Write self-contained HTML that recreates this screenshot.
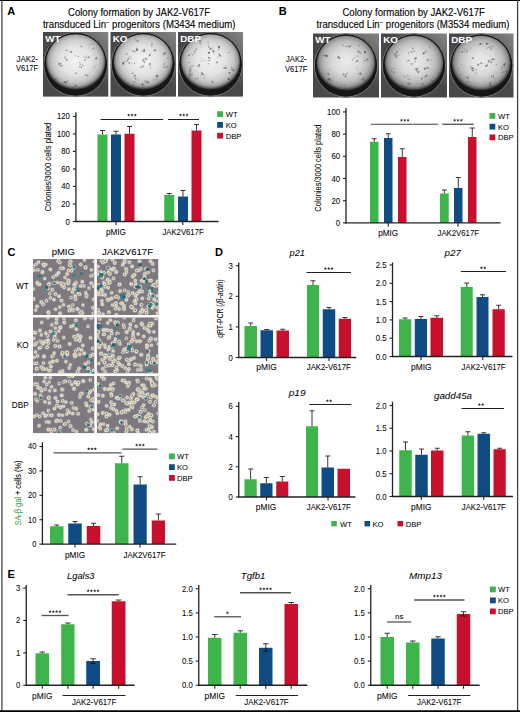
<!DOCTYPE html>
<html><head><meta charset="utf-8"><style>
html,body{margin:0;padding:0;background:#fff;width:520px;height:712px;overflow:hidden}
svg{display:block}
text{font-family:"Liberation Sans",sans-serif}
</style></head><body>
<svg width="520" height="712" viewBox="0 0 520 712">
<defs><filter id="blur04" x="-20%" y="-20%" width="140%" height="140%"><feGaussianBlur stdDeviation="0.5"/></filter><filter id="blur03" x="-5%" y="-5%" width="110%" height="110%"><feGaussianBlur stdDeviation="0.3"/></filter></defs>
<line x1="0.00" y1="0.40" x2="520.00" y2="0.40" stroke="#000" stroke-width="1.2"/>
<line x1="1.90" y1="0.00" x2="1.90" y2="712.00" stroke="#444" stroke-width="1.3"/>
<line x1="517.60" y1="0.00" x2="517.60" y2="712.00" stroke="#444" stroke-width="1.3"/>
<line x1="0.00" y1="711.20" x2="520.00" y2="711.20" stroke="#000" stroke-width="1.8"/>
<text x="7.20" y="15.00" font-size="11" fill="#000" font-weight="bold">A</text>
<text x="278.70" y="15.00" font-size="11" fill="#000" font-weight="bold">B</text>
<text x="7.50" y="256.30" font-size="11" fill="#000" font-weight="bold">C</text>
<text x="215.00" y="255.50" font-size="11" fill="#000" font-weight="bold">D</text>
<text x="7.50" y="578.30" font-size="11" fill="#000" font-weight="bold">E</text>
<text x="139.00" y="16.00" font-size="10" text-anchor="middle" textLength="142" lengthAdjust="spacingAndGlyphs" stroke="#222" stroke-width="0.15">Colony formation by JAK2-V617F</text>
<text x="139.20" y="27.50" font-size="10" text-anchor="middle" textLength="192.5" lengthAdjust="spacingAndGlyphs" stroke="#222" stroke-width="0.15">transduced Lin<tspan font-size="6" dy="-3.5">−</tspan><tspan dy="3.5"> progenitors (M3434 medium)</tspan></text>
<text x="27.25" y="61.70" font-size="9" text-anchor="middle" textLength="21.3" lengthAdjust="spacingAndGlyphs" stroke="#222" stroke-width="0.06">JAK2-</text>
<text x="27.00" y="71.40" font-size="9" text-anchor="middle" textLength="22" lengthAdjust="spacingAndGlyphs" stroke="#222" stroke-width="0.06">V617F</text>
<defs><radialGradient id="pg1" cx="0.5" cy="0.47" r="0.52"><stop offset="0" stop-color="#f3f3f3"/><stop offset="0.5" stop-color="#e3e3e3"/><stop offset="0.75" stop-color="#c8c8c8"/><stop offset="0.88" stop-color="#a2a2a2"/><stop offset="0.95" stop-color="#626262"/><stop offset="1" stop-color="#262626"/></radialGradient><linearGradient id="bg1" x1="0" y1="1" x2="1" y2="0"><stop offset="0" stop-color="#4a4a4a"/><stop offset="0.55" stop-color="#474747"/><stop offset="1" stop-color="#858585"/></linearGradient></defs>
<rect x="43.00" y="32.00" width="65.30" height="64.60" fill="url(#bg1)"/>
<circle cx="75.65" cy="64.30" r="32.25" fill="#1e1e1e"/>
<circle cx="75.65" cy="64.30" r="31.90" fill="none" stroke="#9a9a9a" stroke-width="0.7"/>
<circle cx="75.65" cy="64.30" r="31.00" fill="#161616"/>
<ellipse cx="75.65" cy="62.10" rx="29.60" ry="27.90" fill="url(#pg1)"/>
<g filter="url(#blur04)">
<circle cx="91.1" cy="82.8" r="0.7" fill="#3a3a3a" opacity="0.45"/>
<circle cx="78.3" cy="56.2" r="0.8" fill="#3a3a3a" opacity="0.49"/>
<circle cx="70.9" cy="51.8" r="0.6" fill="#3a3a3a" opacity="0.23"/>
<circle cx="71.2" cy="51.9" r="1.0" fill="#3a3a3a" opacity="0.46"/>
<circle cx="97.0" cy="57.8" r="0.8" fill="#3a3a3a" opacity="0.34"/>
<circle cx="96.0" cy="58.6" r="1.0" fill="#3a3a3a" opacity="0.54"/>
<circle cx="56.0" cy="79.3" r="1.0" fill="#3a3a3a" opacity="0.26"/>
<circle cx="62.8" cy="82.8" r="0.6" fill="#3a3a3a" opacity="0.32"/>
<circle cx="66.2" cy="82.7" r="1.0" fill="#3a3a3a" opacity="0.36"/>
<circle cx="65.7" cy="82.0" r="0.9" fill="#3a3a3a" opacity="0.36"/>
<circle cx="64.5" cy="82.1" r="1.0" fill="#3a3a3a" opacity="0.49"/>
<circle cx="75.3" cy="55.7" r="0.7" fill="#3a3a3a" opacity="0.39"/>
<circle cx="80.5" cy="64.8" r="0.6" fill="#3a3a3a" opacity="0.22"/>
<circle cx="81.5" cy="67.4" r="0.8" fill="#3a3a3a" opacity="0.36"/>
<circle cx="79.7" cy="66.9" r="0.7" fill="#3a3a3a" opacity="0.54"/>
<circle cx="80.1" cy="64.1" r="0.9" fill="#3a3a3a" opacity="0.35"/>
<circle cx="89.7" cy="44.8" r="0.7" fill="#3a3a3a" opacity="0.24"/>
<circle cx="91.9" cy="44.0" r="0.6" fill="#3a3a3a" opacity="0.40"/>
<circle cx="61.9" cy="65.7" r="0.9" fill="#3a3a3a" opacity="0.34"/>
<circle cx="59.2" cy="64.7" r="0.8" fill="#3a3a3a" opacity="0.41"/>
<circle cx="60.8" cy="66.1" r="0.8" fill="#3a3a3a" opacity="0.52"/>
<circle cx="79.9" cy="62.5" r="0.5" fill="#3a3a3a" opacity="0.48"/>
<circle cx="75.5" cy="73.0" r="0.5" fill="#3a3a3a" opacity="0.40"/>
<circle cx="76.1" cy="73.3" r="0.9" fill="#3a3a3a" opacity="0.38"/>
<circle cx="67.7" cy="80.8" r="0.9" fill="#3a3a3a" opacity="0.31"/>
<circle cx="76.2" cy="85.6" r="1.0" fill="#3a3a3a" opacity="0.30"/>
<circle cx="75.0" cy="86.0" r="1.0" fill="#3a3a3a" opacity="0.38"/>
<circle cx="60.6" cy="63.4" r="0.9" fill="#3a3a3a" opacity="0.38"/>
<circle cx="58.9" cy="63.6" r="0.9" fill="#3a3a3a" opacity="0.50"/>
<circle cx="67.3" cy="50.9" r="0.5" fill="#3a3a3a" opacity="0.24"/>
<circle cx="68.8" cy="51.4" r="0.6" fill="#3a3a3a" opacity="0.28"/>
<circle cx="66.3" cy="50.2" r="0.8" fill="#3a3a3a" opacity="0.52"/>
<circle cx="66.7" cy="59.7" r="1.0" fill="#3a3a3a" opacity="0.47"/>
<circle cx="64.8" cy="57.9" r="0.7" fill="#3a3a3a" opacity="0.29"/>
<circle cx="65.2" cy="57.0" r="0.6" fill="#3a3a3a" opacity="0.26"/>
<circle cx="65.3" cy="57.2" r="0.7" fill="#3a3a3a" opacity="0.33"/>
<circle cx="93.3" cy="48.7" r="0.9" fill="#3a3a3a" opacity="0.42"/>
<circle cx="85.7" cy="75.0" r="1.0" fill="#3a3a3a" opacity="0.34"/>
<circle cx="87.7" cy="75.7" r="0.7" fill="#3a3a3a" opacity="0.56"/>
<circle cx="86.7" cy="78.3" r="0.5" fill="#3a3a3a" opacity="0.28"/>
<circle cx="84.0" cy="57.0" r="0.7" fill="#3a3a3a" opacity="0.34"/>
<circle cx="85.0" cy="60.1" r="0.8" fill="#3a3a3a" opacity="0.55"/>
<circle cx="85.9" cy="57.8" r="0.8" fill="#3a3a3a" opacity="0.26"/>
<circle cx="82.7" cy="65.2" r="0.8" fill="#3a3a3a" opacity="0.49"/>
<circle cx="81.3" cy="66.9" r="0.6" fill="#3a3a3a" opacity="0.25"/>
<circle cx="72.4" cy="88.2" r="0.9" fill="#3a3a3a" opacity="0.51"/>
<circle cx="94.7" cy="66.9" r="0.9" fill="#3a3a3a" opacity="0.29"/>
<circle cx="80.4" cy="45.8" r="0.6" fill="#3a3a3a" opacity="0.48"/>
<circle cx="81.7" cy="46.8" r="0.7" fill="#3a3a3a" opacity="0.56"/>
<circle cx="87.0" cy="56.1" r="0.6" fill="#3a3a3a" opacity="0.33"/>
<circle cx="88.9" cy="57.2" r="1.0" fill="#3a3a3a" opacity="0.47"/>
<circle cx="86.7" cy="57.8" r="0.7" fill="#3a3a3a" opacity="0.24"/>
</g>
<text x="45.30" y="41.80" font-size="9.8" fill="#fff" font-weight="bold">WT</text>
<defs><radialGradient id="pg2" cx="0.5" cy="0.47" r="0.52"><stop offset="0" stop-color="#f3f3f3"/><stop offset="0.5" stop-color="#e3e3e3"/><stop offset="0.75" stop-color="#c8c8c8"/><stop offset="0.88" stop-color="#a2a2a2"/><stop offset="0.95" stop-color="#626262"/><stop offset="1" stop-color="#262626"/></radialGradient><linearGradient id="bg2" x1="0" y1="1" x2="1" y2="0"><stop offset="0" stop-color="#4a4a4a"/><stop offset="0.55" stop-color="#474747"/><stop offset="1" stop-color="#858585"/></linearGradient></defs>
<rect x="110.50" y="32.00" width="65.50" height="64.60" fill="url(#bg2)"/>
<circle cx="143.25" cy="64.30" r="32.25" fill="#1e1e1e"/>
<circle cx="143.25" cy="64.30" r="31.90" fill="none" stroke="#9a9a9a" stroke-width="0.7"/>
<circle cx="143.25" cy="64.30" r="31.00" fill="#161616"/>
<ellipse cx="143.25" cy="62.10" rx="29.60" ry="27.90" fill="url(#pg2)"/>
<g filter="url(#blur04)">
<circle cx="167.7" cy="58.1" r="0.6" fill="#3a3a3a" opacity="0.50"/>
<circle cx="149.9" cy="53.4" r="0.5" fill="#3a3a3a" opacity="0.37"/>
<circle cx="149.7" cy="55.2" r="1.0" fill="#3a3a3a" opacity="0.55"/>
<circle cx="128.7" cy="58.5" r="0.7" fill="#3a3a3a" opacity="0.55"/>
<circle cx="127.9" cy="59.1" r="1.0" fill="#3a3a3a" opacity="0.28"/>
<circle cx="127.4" cy="60.3" r="0.6" fill="#3a3a3a" opacity="0.28"/>
<circle cx="129.2" cy="63.3" r="0.7" fill="#3a3a3a" opacity="0.40"/>
<circle cx="128.9" cy="62.8" r="0.8" fill="#3a3a3a" opacity="0.35"/>
<circle cx="153.7" cy="50.2" r="0.8" fill="#3a3a3a" opacity="0.39"/>
<circle cx="155.0" cy="50.7" r="0.9" fill="#3a3a3a" opacity="0.34"/>
<circle cx="155.5" cy="49.8" r="0.7" fill="#3a3a3a" opacity="0.42"/>
<circle cx="155.3" cy="50.5" r="0.7" fill="#3a3a3a" opacity="0.30"/>
<circle cx="134.7" cy="82.2" r="0.9" fill="#3a3a3a" opacity="0.39"/>
<circle cx="133.1" cy="84.8" r="0.9" fill="#3a3a3a" opacity="0.42"/>
<circle cx="123.2" cy="64.0" r="0.8" fill="#3a3a3a" opacity="0.55"/>
<circle cx="123.2" cy="63.1" r="0.9" fill="#3a3a3a" opacity="0.47"/>
<circle cx="124.0" cy="63.0" r="0.9" fill="#3a3a3a" opacity="0.24"/>
<circle cx="123.0" cy="62.7" r="0.6" fill="#3a3a3a" opacity="0.53"/>
<circle cx="157.6" cy="76.3" r="1.0" fill="#3a3a3a" opacity="0.37"/>
<circle cx="157.5" cy="75.3" r="0.7" fill="#3a3a3a" opacity="0.28"/>
<circle cx="157.4" cy="75.2" r="1.0" fill="#3a3a3a" opacity="0.23"/>
<circle cx="144.4" cy="62.3" r="0.9" fill="#3a3a3a" opacity="0.40"/>
<circle cx="144.1" cy="60.7" r="0.9" fill="#3a3a3a" opacity="0.31"/>
<circle cx="142.9" cy="60.6" r="1.0" fill="#3a3a3a" opacity="0.44"/>
<circle cx="144.1" cy="51.0" r="0.9" fill="#3a3a3a" opacity="0.48"/>
<circle cx="144.4" cy="49.8" r="1.0" fill="#3a3a3a" opacity="0.47"/>
<circle cx="142.3" cy="50.9" r="0.8" fill="#3a3a3a" opacity="0.33"/>
<circle cx="143.9" cy="51.5" r="1.0" fill="#3a3a3a" opacity="0.26"/>
<circle cx="131.2" cy="58.2" r="0.6" fill="#3a3a3a" opacity="0.43"/>
<circle cx="129.5" cy="56.3" r="0.8" fill="#3a3a3a" opacity="0.27"/>
<circle cx="129.9" cy="56.3" r="0.5" fill="#3a3a3a" opacity="0.25"/>
<circle cx="132.1" cy="50.8" r="0.7" fill="#3a3a3a" opacity="0.31"/>
<circle cx="126.5" cy="54.5" r="0.8" fill="#3a3a3a" opacity="0.22"/>
<circle cx="127.5" cy="53.7" r="0.5" fill="#3a3a3a" opacity="0.47"/>
<circle cx="126.5" cy="53.9" r="0.6" fill="#3a3a3a" opacity="0.30"/>
<circle cx="145.8" cy="82.5" r="0.7" fill="#3a3a3a" opacity="0.46"/>
<circle cx="147.0" cy="81.5" r="0.9" fill="#3a3a3a" opacity="0.37"/>
<circle cx="148.3" cy="82.3" r="1.0" fill="#3a3a3a" opacity="0.55"/>
<circle cx="145.0" cy="81.0" r="0.8" fill="#3a3a3a" opacity="0.39"/>
<circle cx="167.2" cy="66.8" r="1.0" fill="#3a3a3a" opacity="0.35"/>
<circle cx="164.5" cy="67.2" r="0.9" fill="#3a3a3a" opacity="0.51"/>
<circle cx="143.6" cy="59.1" r="0.8" fill="#3a3a3a" opacity="0.22"/>
<circle cx="146.4" cy="58.7" r="0.9" fill="#3a3a3a" opacity="0.30"/>
<circle cx="145.1" cy="58.6" r="0.7" fill="#3a3a3a" opacity="0.47"/>
<circle cx="146.2" cy="59.3" r="1.0" fill="#3a3a3a" opacity="0.31"/>
<circle cx="155.8" cy="76.2" r="0.9" fill="#3a3a3a" opacity="0.23"/>
<circle cx="156.5" cy="76.7" r="0.9" fill="#3a3a3a" opacity="0.39"/>
<circle cx="156.8" cy="79.0" r="0.9" fill="#3a3a3a" opacity="0.31"/>
<circle cx="127.8" cy="60.6" r="0.6" fill="#3a3a3a" opacity="0.30"/>
<circle cx="125.3" cy="61.5" r="0.7" fill="#3a3a3a" opacity="0.46"/>
<circle cx="127.2" cy="60.8" r="0.9" fill="#3a3a3a" opacity="0.25"/>
<circle cx="123.9" cy="64.2" r="0.5" fill="#3a3a3a" opacity="0.37"/>
<circle cx="150.6" cy="67.9" r="0.6" fill="#3a3a3a" opacity="0.45"/>
<circle cx="137.2" cy="49.9" r="1.0" fill="#3a3a3a" opacity="0.48"/>
<circle cx="137.2" cy="49.8" r="0.9" fill="#3a3a3a" opacity="0.31"/>
<circle cx="137.1" cy="48.4" r="0.9" fill="#3a3a3a" opacity="0.36"/>
<circle cx="164.0" cy="63.9" r="0.9" fill="#3a3a3a" opacity="0.35"/>
<circle cx="165.5" cy="62.6" r="0.5" fill="#3a3a3a" opacity="0.32"/>
<circle cx="142.4" cy="84.8" r="1.0" fill="#3a3a3a" opacity="0.34"/>
<circle cx="142.7" cy="84.4" r="0.9" fill="#3a3a3a" opacity="0.52"/>
<circle cx="143.0" cy="87.3" r="0.7" fill="#3a3a3a" opacity="0.45"/>
<circle cx="144.2" cy="85.7" r="0.5" fill="#3a3a3a" opacity="0.38"/>
<circle cx="137.7" cy="41.1" r="1.0" fill="#3a3a3a" opacity="0.48"/>
<circle cx="135.9" cy="39.9" r="1.0" fill="#3a3a3a" opacity="0.26"/>
<circle cx="151.8" cy="46.3" r="0.8" fill="#3a3a3a" opacity="0.39"/>
<circle cx="152.0" cy="44.0" r="0.9" fill="#3a3a3a" opacity="0.39"/>
<circle cx="134.4" cy="63.1" r="0.7" fill="#3a3a3a" opacity="0.54"/>
<circle cx="131.3" cy="63.1" r="0.5" fill="#3a3a3a" opacity="0.43"/>
<circle cx="164.7" cy="54.5" r="0.5" fill="#3a3a3a" opacity="0.25"/>
<circle cx="164.9" cy="52.7" r="0.9" fill="#3a3a3a" opacity="0.49"/>
<circle cx="163.6" cy="54.1" r="0.9" fill="#3a3a3a" opacity="0.52"/>
<circle cx="165.2" cy="53.7" r="0.7" fill="#3a3a3a" opacity="0.38"/>
<circle cx="143.5" cy="66.6" r="0.8" fill="#3a3a3a" opacity="0.35"/>
<circle cx="140.6" cy="67.5" r="0.6" fill="#3a3a3a" opacity="0.45"/>
<circle cx="141.3" cy="66.9" r="1.0" fill="#3a3a3a" opacity="0.25"/>
<circle cx="142.9" cy="66.0" r="0.8" fill="#3a3a3a" opacity="0.50"/>
<circle cx="133.5" cy="51.3" r="0.8" fill="#3a3a3a" opacity="0.52"/>
<circle cx="153.6" cy="79.5" r="0.7" fill="#3a3a3a" opacity="0.30"/>
<circle cx="138.2" cy="87.1" r="1.0" fill="#3a3a3a" opacity="0.29"/>
<circle cx="134.8" cy="76.7" r="0.6" fill="#3a3a3a" opacity="0.53"/>
<circle cx="135.2" cy="75.3" r="0.8" fill="#3a3a3a" opacity="0.55"/>
<circle cx="134.0" cy="76.2" r="0.6" fill="#3a3a3a" opacity="0.29"/>
<circle cx="136.9" cy="50.8" r="0.6" fill="#3a3a3a" opacity="0.41"/>
<circle cx="135.2" cy="51.7" r="0.9" fill="#3a3a3a" opacity="0.32"/>
<circle cx="136.3" cy="49.1" r="0.8" fill="#3a3a3a" opacity="0.48"/>
<circle cx="135.0" cy="78.4" r="0.5" fill="#3a3a3a" opacity="0.33"/>
<circle cx="135.6" cy="78.8" r="1.0" fill="#3a3a3a" opacity="0.37"/>
<circle cx="138.3" cy="79.9" r="0.6" fill="#3a3a3a" opacity="0.35"/>
<circle cx="149.8" cy="64.4" r="1.0" fill="#3a3a3a" opacity="0.49"/>
<circle cx="150.1" cy="63.2" r="0.6" fill="#3a3a3a" opacity="0.51"/>
<circle cx="132.4" cy="73.4" r="0.7" fill="#3a3a3a" opacity="0.56"/>
<circle cx="133.1" cy="72.0" r="0.5" fill="#3a3a3a" opacity="0.35"/>
</g>
<text x="112.80" y="41.80" font-size="9.8" fill="#fff" font-weight="bold">KO</text>
<defs><radialGradient id="pg3" cx="0.5" cy="0.47" r="0.52"><stop offset="0" stop-color="#f3f3f3"/><stop offset="0.5" stop-color="#e3e3e3"/><stop offset="0.75" stop-color="#c8c8c8"/><stop offset="0.88" stop-color="#a2a2a2"/><stop offset="0.95" stop-color="#626262"/><stop offset="1" stop-color="#262626"/></radialGradient><linearGradient id="bg3" x1="0" y1="1" x2="1" y2="0"><stop offset="0" stop-color="#4a4a4a"/><stop offset="0.55" stop-color="#474747"/><stop offset="1" stop-color="#858585"/></linearGradient></defs>
<rect x="178.00" y="32.00" width="65.00" height="64.60" fill="url(#bg3)"/>
<circle cx="210.50" cy="64.30" r="32.25" fill="#1e1e1e"/>
<circle cx="210.50" cy="64.30" r="31.90" fill="none" stroke="#9a9a9a" stroke-width="0.7"/>
<circle cx="210.50" cy="64.30" r="31.00" fill="#161616"/>
<ellipse cx="210.50" cy="62.10" rx="29.60" ry="27.90" fill="url(#pg3)"/>
<g filter="url(#blur04)">
<circle cx="212.9" cy="82.3" r="0.8" fill="#3a3a3a" opacity="0.43"/>
<circle cx="212.9" cy="82.3" r="0.8" fill="#3a3a3a" opacity="0.29"/>
<circle cx="211.7" cy="81.6" r="0.8" fill="#3a3a3a" opacity="0.36"/>
<circle cx="219.1" cy="54.1" r="0.9" fill="#3a3a3a" opacity="0.45"/>
<circle cx="219.9" cy="55.6" r="0.8" fill="#3a3a3a" opacity="0.33"/>
<circle cx="231.7" cy="67.6" r="0.7" fill="#3a3a3a" opacity="0.50"/>
<circle cx="232.1" cy="69.6" r="0.8" fill="#3a3a3a" opacity="0.56"/>
<circle cx="234.2" cy="69.6" r="0.5" fill="#3a3a3a" opacity="0.39"/>
<circle cx="233.5" cy="70.3" r="0.9" fill="#3a3a3a" opacity="0.52"/>
<circle cx="189.2" cy="75.0" r="0.6" fill="#3a3a3a" opacity="0.34"/>
<circle cx="190.4" cy="75.1" r="0.6" fill="#3a3a3a" opacity="0.43"/>
<circle cx="189.7" cy="73.8" r="0.6" fill="#3a3a3a" opacity="0.41"/>
<circle cx="201.2" cy="58.5" r="0.6" fill="#3a3a3a" opacity="0.26"/>
<circle cx="201.8" cy="60.9" r="0.7" fill="#3a3a3a" opacity="0.34"/>
<circle cx="231.9" cy="75.7" r="1.0" fill="#3a3a3a" opacity="0.24"/>
<circle cx="204.3" cy="60.1" r="0.6" fill="#3a3a3a" opacity="0.30"/>
<circle cx="206.6" cy="60.8" r="0.5" fill="#3a3a3a" opacity="0.41"/>
<circle cx="209.0" cy="59.9" r="0.6" fill="#3a3a3a" opacity="0.31"/>
<circle cx="200.3" cy="43.4" r="1.0" fill="#3a3a3a" opacity="0.35"/>
<circle cx="200.1" cy="41.4" r="0.8" fill="#3a3a3a" opacity="0.43"/>
<circle cx="200.0" cy="40.6" r="1.0" fill="#3a3a3a" opacity="0.40"/>
<circle cx="192.0" cy="72.9" r="0.6" fill="#3a3a3a" opacity="0.33"/>
<circle cx="190.1" cy="74.8" r="1.0" fill="#3a3a3a" opacity="0.33"/>
<circle cx="198.0" cy="78.4" r="0.7" fill="#3a3a3a" opacity="0.46"/>
<circle cx="195.7" cy="79.1" r="0.9" fill="#3a3a3a" opacity="0.23"/>
<circle cx="229.8" cy="73.1" r="0.8" fill="#3a3a3a" opacity="0.33"/>
<circle cx="229.2" cy="72.7" r="0.7" fill="#3a3a3a" opacity="0.43"/>
<circle cx="229.5" cy="72.9" r="0.9" fill="#3a3a3a" opacity="0.23"/>
<circle cx="189.4" cy="55.2" r="0.6" fill="#3a3a3a" opacity="0.33"/>
<circle cx="190.2" cy="53.9" r="0.5" fill="#3a3a3a" opacity="0.43"/>
<circle cx="192.3" cy="54.7" r="0.6" fill="#3a3a3a" opacity="0.50"/>
<circle cx="218.2" cy="61.8" r="0.6" fill="#3a3a3a" opacity="0.26"/>
<circle cx="216.8" cy="62.4" r="0.9" fill="#3a3a3a" opacity="0.51"/>
<circle cx="216.2" cy="75.6" r="0.5" fill="#3a3a3a" opacity="0.32"/>
<circle cx="213.5" cy="51.0" r="0.8" fill="#3a3a3a" opacity="0.23"/>
<circle cx="213.5" cy="52.0" r="0.7" fill="#3a3a3a" opacity="0.51"/>
<circle cx="213.2" cy="50.8" r="0.8" fill="#3a3a3a" opacity="0.57"/>
<circle cx="210.3" cy="58.6" r="0.8" fill="#3a3a3a" opacity="0.32"/>
<circle cx="209.2" cy="60.5" r="0.5" fill="#3a3a3a" opacity="0.43"/>
<circle cx="209.2" cy="61.6" r="0.5" fill="#3a3a3a" opacity="0.54"/>
<circle cx="208.8" cy="57.7" r="1.0" fill="#3a3a3a" opacity="0.53"/>
<circle cx="208.3" cy="63.7" r="0.8" fill="#3a3a3a" opacity="0.40"/>
<circle cx="189.1" cy="77.6" r="1.0" fill="#3a3a3a" opacity="0.39"/>
<circle cx="215.0" cy="51.1" r="0.5" fill="#3a3a3a" opacity="0.30"/>
<circle cx="213.2" cy="51.7" r="0.5" fill="#3a3a3a" opacity="0.54"/>
<circle cx="192.2" cy="66.0" r="0.6" fill="#3a3a3a" opacity="0.40"/>
<circle cx="190.5" cy="66.3" r="0.9" fill="#3a3a3a" opacity="0.22"/>
<circle cx="192.0" cy="66.0" r="0.5" fill="#3a3a3a" opacity="0.24"/>
<circle cx="193.4" cy="65.5" r="0.5" fill="#3a3a3a" opacity="0.40"/>
<circle cx="204.1" cy="77.9" r="0.6" fill="#3a3a3a" opacity="0.31"/>
<circle cx="205.9" cy="77.2" r="0.5" fill="#3a3a3a" opacity="0.22"/>
<circle cx="204.5" cy="75.5" r="0.8" fill="#3a3a3a" opacity="0.24"/>
<circle cx="190.6" cy="69.0" r="1.0" fill="#3a3a3a" opacity="0.24"/>
<circle cx="189.6" cy="68.0" r="0.6" fill="#3a3a3a" opacity="0.55"/>
<circle cx="190.6" cy="69.4" r="0.6" fill="#3a3a3a" opacity="0.31"/>
<circle cx="189.2" cy="68.3" r="0.6" fill="#3a3a3a" opacity="0.27"/>
<circle cx="225.8" cy="67.9" r="1.0" fill="#3a3a3a" opacity="0.48"/>
<circle cx="225.4" cy="65.8" r="0.7" fill="#3a3a3a" opacity="0.26"/>
<circle cx="224.2" cy="67.9" r="0.9" fill="#3a3a3a" opacity="0.47"/>
<circle cx="198.8" cy="66.4" r="0.5" fill="#3a3a3a" opacity="0.53"/>
<circle cx="198.5" cy="66.5" r="1.0" fill="#3a3a3a" opacity="0.26"/>
<circle cx="199.2" cy="65.1" r="1.0" fill="#3a3a3a" opacity="0.55"/>
<circle cx="196.8" cy="65.5" r="0.5" fill="#3a3a3a" opacity="0.49"/>
<circle cx="188.8" cy="62.6" r="0.8" fill="#3a3a3a" opacity="0.41"/>
<circle cx="217.8" cy="57.1" r="0.6" fill="#3a3a3a" opacity="0.44"/>
<circle cx="208.9" cy="47.1" r="0.8" fill="#3a3a3a" opacity="0.56"/>
<circle cx="210.3" cy="49.0" r="1.0" fill="#3a3a3a" opacity="0.52"/>
<circle cx="211.9" cy="48.3" r="0.8" fill="#3a3a3a" opacity="0.42"/>
<circle cx="227.7" cy="53.0" r="0.5" fill="#3a3a3a" opacity="0.25"/>
<circle cx="229.0" cy="52.5" r="0.8" fill="#3a3a3a" opacity="0.38"/>
<circle cx="208.4" cy="53.1" r="0.8" fill="#3a3a3a" opacity="0.55"/>
<circle cx="209.1" cy="52.6" r="0.9" fill="#3a3a3a" opacity="0.45"/>
<circle cx="209.2" cy="52.6" r="0.8" fill="#3a3a3a" opacity="0.56"/>
<circle cx="220.3" cy="55.5" r="0.6" fill="#3a3a3a" opacity="0.35"/>
<circle cx="220.5" cy="56.9" r="0.5" fill="#3a3a3a" opacity="0.57"/>
<circle cx="219.9" cy="55.5" r="0.7" fill="#3a3a3a" opacity="0.51"/>
<circle cx="219.1" cy="47.3" r="1.0" fill="#3a3a3a" opacity="0.49"/>
<circle cx="218.9" cy="47.1" r="1.0" fill="#3a3a3a" opacity="0.53"/>
<circle cx="217.7" cy="45.9" r="0.5" fill="#3a3a3a" opacity="0.30"/>
<circle cx="218.6" cy="49.4" r="0.9" fill="#3a3a3a" opacity="0.27"/>
<circle cx="196.2" cy="49.5" r="1.0" fill="#3a3a3a" opacity="0.33"/>
<circle cx="192.0" cy="74.8" r="1.0" fill="#3a3a3a" opacity="0.23"/>
<circle cx="190.7" cy="70.7" r="0.7" fill="#3a3a3a" opacity="0.39"/>
<circle cx="190.2" cy="72.0" r="1.0" fill="#3a3a3a" opacity="0.36"/>
<circle cx="189.3" cy="70.5" r="0.6" fill="#3a3a3a" opacity="0.45"/>
<circle cx="230.5" cy="81.1" r="0.7" fill="#3a3a3a" opacity="0.49"/>
<circle cx="228.6" cy="78.9" r="0.9" fill="#3a3a3a" opacity="0.45"/>
<circle cx="228.8" cy="79.0" r="0.9" fill="#3a3a3a" opacity="0.56"/>
<circle cx="201.3" cy="46.9" r="0.5" fill="#3a3a3a" opacity="0.32"/>
<circle cx="208.4" cy="44.7" r="0.8" fill="#3a3a3a" opacity="0.26"/>
<circle cx="208.0" cy="42.5" r="0.6" fill="#3a3a3a" opacity="0.47"/>
<circle cx="194.3" cy="53.7" r="0.6" fill="#3a3a3a" opacity="0.24"/>
<circle cx="194.8" cy="51.9" r="0.8" fill="#3a3a3a" opacity="0.48"/>
<circle cx="202.8" cy="74.5" r="0.7" fill="#3a3a3a" opacity="0.31"/>
<circle cx="201.8" cy="73.2" r="1.0" fill="#3a3a3a" opacity="0.55"/>
<circle cx="200.5" cy="75.0" r="0.5" fill="#3a3a3a" opacity="0.39"/>
<circle cx="202.8" cy="74.4" r="0.8" fill="#3a3a3a" opacity="0.46"/>
<circle cx="188.6" cy="55.4" r="0.7" fill="#3a3a3a" opacity="0.48"/>
</g>
<text x="180.30" y="41.80" font-size="9.8" fill="#fff" font-weight="bold">DBP</text>
<rect x="97.50" y="134.50" width="10.00" height="87.00" fill="#3db54b"/>
<line x1="102.50" y1="134.50" x2="102.50" y2="130.50" stroke="#222" stroke-width="0.9"/>
<line x1="100.00" y1="130.50" x2="105.00" y2="130.50" stroke="#222" stroke-width="0.9"/>
<rect x="111.00" y="134.50" width="10.00" height="87.00" fill="#0e4c83"/>
<line x1="116.00" y1="134.50" x2="116.00" y2="131.25" stroke="#222" stroke-width="0.9"/>
<line x1="113.50" y1="131.25" x2="118.50" y2="131.25" stroke="#222" stroke-width="0.9"/>
<rect x="124.50" y="133.75" width="10.00" height="87.75" fill="#c8102e"/>
<line x1="129.50" y1="133.75" x2="129.50" y2="126.50" stroke="#222" stroke-width="0.9"/>
<line x1="127.00" y1="126.50" x2="132.00" y2="126.50" stroke="#222" stroke-width="0.9"/>
<rect x="164.25" y="195.00" width="10.00" height="26.50" fill="#3db54b"/>
<line x1="169.25" y1="195.00" x2="169.25" y2="193.50" stroke="#222" stroke-width="0.9"/>
<line x1="166.75" y1="193.50" x2="171.75" y2="193.50" stroke="#222" stroke-width="0.9"/>
<rect x="178.00" y="196.50" width="10.00" height="25.00" fill="#0e4c83"/>
<line x1="183.00" y1="196.50" x2="183.00" y2="190.50" stroke="#222" stroke-width="0.9"/>
<line x1="180.50" y1="190.50" x2="185.50" y2="190.50" stroke="#222" stroke-width="0.9"/>
<rect x="191.50" y="130.50" width="10.00" height="91.00" fill="#c8102e"/>
<line x1="196.50" y1="130.50" x2="196.50" y2="124.50" stroke="#222" stroke-width="0.9"/>
<line x1="194.00" y1="124.50" x2="199.00" y2="124.50" stroke="#222" stroke-width="0.9"/>
<line x1="75.90" y1="112.20" x2="75.90" y2="222.10" stroke="#222" stroke-width="1.3"/>
<line x1="75.30" y1="221.50" x2="218.50" y2="221.50" stroke="#222" stroke-width="1.3"/>
<line x1="72.90" y1="221.50" x2="75.90" y2="221.50" stroke="#222" stroke-width="1.1"/>
<text x="69.90" y="224.51" font-size="8.6" text-anchor="end" textLength="4.3" lengthAdjust="spacingAndGlyphs" stroke="#222" stroke-width="0.06">0</text>
<line x1="72.90" y1="203.98" x2="75.90" y2="203.98" stroke="#222" stroke-width="1.1"/>
<text x="69.90" y="206.99" font-size="8.6" text-anchor="end" textLength="8.61" lengthAdjust="spacingAndGlyphs" stroke="#222" stroke-width="0.06">20</text>
<line x1="72.90" y1="186.47" x2="75.90" y2="186.47" stroke="#222" stroke-width="1.1"/>
<text x="69.90" y="189.48" font-size="8.6" text-anchor="end" textLength="8.61" lengthAdjust="spacingAndGlyphs" stroke="#222" stroke-width="0.06">40</text>
<line x1="72.90" y1="168.95" x2="75.90" y2="168.95" stroke="#222" stroke-width="1.1"/>
<text x="69.90" y="171.96" font-size="8.6" text-anchor="end" textLength="8.61" lengthAdjust="spacingAndGlyphs" stroke="#222" stroke-width="0.06">60</text>
<line x1="72.90" y1="151.44" x2="75.90" y2="151.44" stroke="#222" stroke-width="1.1"/>
<text x="69.90" y="154.45" font-size="8.6" text-anchor="end" textLength="8.61" lengthAdjust="spacingAndGlyphs" stroke="#222" stroke-width="0.06">80</text>
<line x1="72.90" y1="133.92" x2="75.90" y2="133.92" stroke="#222" stroke-width="1.1"/>
<text x="69.90" y="136.93" font-size="8.6" text-anchor="end" textLength="12.91" lengthAdjust="spacingAndGlyphs" stroke="#222" stroke-width="0.06">100</text>
<line x1="72.90" y1="116.40" x2="75.90" y2="116.40" stroke="#222" stroke-width="1.1"/>
<text x="69.90" y="119.41" font-size="8.6" text-anchor="end" textLength="12.91" lengthAdjust="spacingAndGlyphs" stroke="#222" stroke-width="0.06">120</text>
<line x1="116.00" y1="221.50" x2="116.00" y2="225.00" stroke="#222" stroke-width="1.1"/>
<line x1="182.75" y1="221.50" x2="182.75" y2="225.00" stroke="#222" stroke-width="1.1"/>
<line x1="100.50" y1="119.50" x2="163.25" y2="119.50" stroke="#222" stroke-width="1.0"/>
<polygon points="128.70,113.25 129.14,114.39 130.36,114.46 129.41,115.23 129.73,116.42 128.70,115.75 127.67,116.42 127.99,115.23 127.04,114.46 128.26,114.39" fill="#2a2a2a"/>
<polygon points="132.00,113.25 132.44,114.39 133.66,114.46 132.71,115.23 133.03,116.42 132.00,115.75 130.97,116.42 131.29,115.23 130.34,114.46 131.56,114.39" fill="#2a2a2a"/>
<polygon points="135.30,113.25 135.74,114.39 136.96,114.46 136.01,115.23 136.33,116.42 135.30,115.75 134.27,116.42 134.59,115.23 133.64,114.46 134.86,114.39" fill="#2a2a2a"/>
<line x1="168.00" y1="119.50" x2="199.00" y2="119.50" stroke="#222" stroke-width="1.0"/>
<polygon points="180.45,113.25 180.89,114.39 182.11,114.46 181.16,115.23 181.48,116.42 180.45,115.75 179.42,116.42 179.74,115.23 178.79,114.46 180.01,114.39" fill="#2a2a2a"/>
<polygon points="183.75,113.25 184.19,114.39 185.41,114.46 184.46,115.23 184.78,116.42 183.75,115.75 182.72,116.42 183.04,115.23 182.09,114.46 183.31,114.39" fill="#2a2a2a"/>
<polygon points="187.05,113.25 187.49,114.39 188.71,114.46 187.76,115.23 188.08,116.42 187.05,115.75 186.02,116.42 186.34,115.23 185.39,114.46 186.61,114.39" fill="#2a2a2a"/>
<rect x="217.20" y="111.20" width="5.80" height="5.80" fill="#3db54b"/>
<text x="225.80" y="117.00" font-size="7.6" stroke="#222" stroke-width="0.06">WT</text>
<rect x="217.20" y="122.00" width="5.80" height="5.80" fill="#0e4c83"/>
<text x="225.80" y="127.80" font-size="7.6" stroke="#222" stroke-width="0.06">KO</text>
<rect x="217.20" y="132.80" width="5.80" height="5.80" fill="#c8102e"/>
<text x="225.80" y="138.60" font-size="7.6" stroke="#222" stroke-width="0.06">DBP</text>
<text x="115.85" y="234.80" font-size="8.6" text-anchor="middle" textLength="19.9" lengthAdjust="spacingAndGlyphs" stroke="#222" stroke-width="0.06">pMIG</text>
<text x="183.05" y="234.80" font-size="8.6" text-anchor="middle" textLength="41.3" lengthAdjust="spacingAndGlyphs" stroke="#222" stroke-width="0.06">JAK2V617F</text>
<text x="0.00" y="0.00" font-size="8.4" text-anchor="middle" textLength="88.7" lengthAdjust="spacingAndGlyphs" transform="translate(50.9,167) rotate(-90)" stroke="#222" stroke-width="0.06">Colonies/3000 cells plated</text>
<text x="413.70" y="16.00" font-size="10" text-anchor="middle" textLength="142.5" lengthAdjust="spacingAndGlyphs" stroke="#222" stroke-width="0.15">Colony formation by JAK2-V617F</text>
<text x="413.00" y="27.50" font-size="10" text-anchor="middle" textLength="193" lengthAdjust="spacingAndGlyphs" stroke="#222" stroke-width="0.15">transduced Lin<tspan font-size="6" dy="-3.5">−</tspan><tspan dy="3.5"> progenitors (M3534 medium)</tspan></text>
<text x="296.35" y="62.10" font-size="9" text-anchor="middle" textLength="20.5" lengthAdjust="spacingAndGlyphs" stroke="#222" stroke-width="0.06">JAK2-</text>
<text x="296.15" y="71.90" font-size="9" text-anchor="middle" textLength="22.3" lengthAdjust="spacingAndGlyphs" stroke="#222" stroke-width="0.06">V617F</text>
<defs><radialGradient id="pg4" cx="0.5" cy="0.47" r="0.52"><stop offset="0" stop-color="#ececec"/><stop offset="0.45" stop-color="#d9d9d9"/><stop offset="0.72" stop-color="#bababa"/><stop offset="0.87" stop-color="#929292"/><stop offset="0.95" stop-color="#555"/><stop offset="1" stop-color="#222"/></radialGradient><linearGradient id="bg4" x1="0" y1="1" x2="1" y2="0"><stop offset="0" stop-color="#4a4a4a"/><stop offset="0.55" stop-color="#474747"/><stop offset="1" stop-color="#858585"/></linearGradient></defs>
<rect x="313.00" y="33.50" width="66.00" height="64.00" fill="url(#bg4)"/>
<circle cx="346.00" cy="65.50" r="31.95" fill="#1e1e1e"/>
<circle cx="346.00" cy="65.50" r="31.60" fill="none" stroke="#9a9a9a" stroke-width="0.7"/>
<circle cx="346.00" cy="65.50" r="30.70" fill="#161616"/>
<ellipse cx="346.00" cy="63.30" rx="29.30" ry="27.60" fill="url(#pg4)"/>
<g filter="url(#blur04)">
<circle cx="346.3" cy="73.6" r="0.5" fill="#3a3a3a" opacity="0.41"/>
<circle cx="346.0" cy="76.4" r="0.5" fill="#3a3a3a" opacity="0.40"/>
<circle cx="345.6" cy="74.8" r="0.9" fill="#3a3a3a" opacity="0.31"/>
<circle cx="346.9" cy="73.4" r="0.8" fill="#3a3a3a" opacity="0.31"/>
<circle cx="343.5" cy="74.4" r="1.0" fill="#3a3a3a" opacity="0.53"/>
<circle cx="345.8" cy="76.3" r="0.9" fill="#3a3a3a" opacity="0.40"/>
<circle cx="345.1" cy="76.6" r="0.5" fill="#3a3a3a" opacity="0.55"/>
<circle cx="359.1" cy="51.7" r="0.9" fill="#3a3a3a" opacity="0.33"/>
<circle cx="358.3" cy="51.0" r="0.7" fill="#3a3a3a" opacity="0.32"/>
<circle cx="357.6" cy="51.9" r="0.6" fill="#3a3a3a" opacity="0.50"/>
<circle cx="359.4" cy="73.6" r="0.9" fill="#3a3a3a" opacity="0.27"/>
<circle cx="360.7" cy="73.5" r="1.0" fill="#3a3a3a" opacity="0.44"/>
<circle cx="360.2" cy="74.0" r="0.7" fill="#3a3a3a" opacity="0.43"/>
<circle cx="338.9" cy="57.4" r="0.6" fill="#3a3a3a" opacity="0.49"/>
<circle cx="338.1" cy="56.7" r="0.6" fill="#3a3a3a" opacity="0.28"/>
<circle cx="338.3" cy="57.2" r="0.9" fill="#3a3a3a" opacity="0.53"/>
<circle cx="367.4" cy="59.6" r="1.0" fill="#3a3a3a" opacity="0.49"/>
<circle cx="364.5" cy="60.8" r="0.8" fill="#3a3a3a" opacity="0.51"/>
<circle cx="366.4" cy="60.1" r="0.7" fill="#3a3a3a" opacity="0.27"/>
<circle cx="327.1" cy="81.7" r="0.7" fill="#3a3a3a" opacity="0.35"/>
<circle cx="329.1" cy="78.9" r="0.8" fill="#3a3a3a" opacity="0.37"/>
<circle cx="328.6" cy="84.2" r="0.5" fill="#3a3a3a" opacity="0.24"/>
<circle cx="343.5" cy="45.5" r="0.8" fill="#3a3a3a" opacity="0.33"/>
<circle cx="346.3" cy="46.7" r="0.6" fill="#3a3a3a" opacity="0.57"/>
<circle cx="339.6" cy="57.4" r="0.5" fill="#3a3a3a" opacity="0.37"/>
<circle cx="339.5" cy="58.5" r="0.9" fill="#3a3a3a" opacity="0.39"/>
<circle cx="356.7" cy="67.7" r="0.7" fill="#3a3a3a" opacity="0.31"/>
<circle cx="357.4" cy="69.9" r="0.6" fill="#3a3a3a" opacity="0.26"/>
<circle cx="323.4" cy="55.1" r="0.6" fill="#3a3a3a" opacity="0.53"/>
<circle cx="365.1" cy="52.4" r="1.0" fill="#3a3a3a" opacity="0.33"/>
<circle cx="364.8" cy="51.7" r="0.9" fill="#3a3a3a" opacity="0.50"/>
<circle cx="364.9" cy="52.2" r="0.7" fill="#3a3a3a" opacity="0.52"/>
<circle cx="344.3" cy="85.5" r="0.5" fill="#3a3a3a" opacity="0.56"/>
<circle cx="342.1" cy="84.6" r="0.6" fill="#3a3a3a" opacity="0.44"/>
<circle cx="326.4" cy="56.5" r="1.0" fill="#3a3a3a" opacity="0.22"/>
<circle cx="326.8" cy="56.1" r="0.9" fill="#3a3a3a" opacity="0.49"/>
<circle cx="327.3" cy="55.5" r="1.0" fill="#3a3a3a" opacity="0.29"/>
<circle cx="326.0" cy="55.6" r="1.0" fill="#3a3a3a" opacity="0.49"/>
<circle cx="329.5" cy="69.5" r="0.5" fill="#3a3a3a" opacity="0.42"/>
<circle cx="343.9" cy="88.8" r="0.8" fill="#3a3a3a" opacity="0.22"/>
<circle cx="359.0" cy="45.9" r="0.6" fill="#3a3a3a" opacity="0.56"/>
<circle cx="329.8" cy="79.8" r="0.8" fill="#3a3a3a" opacity="0.53"/>
<circle cx="328.3" cy="79.4" r="1.0" fill="#3a3a3a" opacity="0.49"/>
<circle cx="331.2" cy="80.4" r="0.6" fill="#3a3a3a" opacity="0.33"/>
<circle cx="329.9" cy="78.6" r="0.9" fill="#3a3a3a" opacity="0.28"/>
<circle cx="352.5" cy="59.8" r="0.6" fill="#3a3a3a" opacity="0.56"/>
<circle cx="354.0" cy="58.1" r="0.8" fill="#3a3a3a" opacity="0.26"/>
<circle cx="361.8" cy="79.5" r="0.7" fill="#3a3a3a" opacity="0.32"/>
<circle cx="363.1" cy="80.3" r="1.0" fill="#3a3a3a" opacity="0.22"/>
<circle cx="365.1" cy="80.4" r="0.8" fill="#3a3a3a" opacity="0.54"/>
<circle cx="363.3" cy="78.4" r="1.0" fill="#3a3a3a" opacity="0.40"/>
<circle cx="328.8" cy="74.0" r="0.7" fill="#3a3a3a" opacity="0.45"/>
<circle cx="328.0" cy="73.0" r="0.5" fill="#3a3a3a" opacity="0.50"/>
<circle cx="328.7" cy="74.6" r="0.7" fill="#3a3a3a" opacity="0.42"/>
<circle cx="326.9" cy="73.8" r="0.5" fill="#3a3a3a" opacity="0.36"/>
<circle cx="355.4" cy="62.1" r="0.5" fill="#3a3a3a" opacity="0.23"/>
<circle cx="357.5" cy="60.8" r="0.9" fill="#3a3a3a" opacity="0.50"/>
<circle cx="356.3" cy="61.2" r="0.8" fill="#3a3a3a" opacity="0.39"/>
<circle cx="324.9" cy="55.7" r="1.0" fill="#3a3a3a" opacity="0.30"/>
<circle cx="351.2" cy="45.2" r="0.7" fill="#3a3a3a" opacity="0.30"/>
<circle cx="349.5" cy="47.0" r="0.8" fill="#3a3a3a" opacity="0.41"/>
<circle cx="348.9" cy="46.3" r="0.8" fill="#3a3a3a" opacity="0.56"/>
<circle cx="350.2" cy="46.7" r="0.8" fill="#3a3a3a" opacity="0.31"/>
<circle cx="358.7" cy="55.9" r="0.5" fill="#3a3a3a" opacity="0.40"/>
<circle cx="357.0" cy="56.0" r="0.8" fill="#3a3a3a" opacity="0.34"/>
<circle cx="360.2" cy="53.2" r="0.9" fill="#3a3a3a" opacity="0.39"/>
</g>
<text x="315.30" y="43.30" font-size="9.8" fill="#fff" font-weight="bold">WT</text>
<defs><radialGradient id="pg5" cx="0.5" cy="0.47" r="0.52"><stop offset="0" stop-color="#ececec"/><stop offset="0.45" stop-color="#d9d9d9"/><stop offset="0.72" stop-color="#bababa"/><stop offset="0.87" stop-color="#929292"/><stop offset="0.95" stop-color="#555"/><stop offset="1" stop-color="#222"/></radialGradient><linearGradient id="bg5" x1="0" y1="1" x2="1" y2="0"><stop offset="0" stop-color="#4a4a4a"/><stop offset="0.55" stop-color="#474747"/><stop offset="1" stop-color="#858585"/></linearGradient></defs>
<rect x="381.00" y="33.50" width="66.00" height="64.00" fill="url(#bg5)"/>
<circle cx="414.00" cy="65.50" r="31.95" fill="#1e1e1e"/>
<circle cx="414.00" cy="65.50" r="31.60" fill="none" stroke="#9a9a9a" stroke-width="0.7"/>
<circle cx="414.00" cy="65.50" r="30.70" fill="#161616"/>
<ellipse cx="414.00" cy="63.30" rx="29.30" ry="27.60" fill="url(#pg5)"/>
<g filter="url(#blur04)">
<circle cx="399.5" cy="49.0" r="0.6" fill="#3a3a3a" opacity="0.24"/>
<circle cx="422.1" cy="78.5" r="0.6" fill="#3a3a3a" opacity="0.48"/>
<circle cx="421.9" cy="78.5" r="1.0" fill="#3a3a3a" opacity="0.36"/>
<circle cx="414.5" cy="58.9" r="1.0" fill="#3a3a3a" opacity="0.29"/>
<circle cx="415.1" cy="61.6" r="1.0" fill="#3a3a3a" opacity="0.32"/>
<circle cx="415.7" cy="58.5" r="0.9" fill="#3a3a3a" opacity="0.29"/>
<circle cx="415.9" cy="58.3" r="1.0" fill="#3a3a3a" opacity="0.53"/>
<circle cx="410.2" cy="79.5" r="0.6" fill="#3a3a3a" opacity="0.51"/>
<circle cx="408.3" cy="79.1" r="0.9" fill="#3a3a3a" opacity="0.24"/>
<circle cx="406.0" cy="77.4" r="0.6" fill="#3a3a3a" opacity="0.31"/>
<circle cx="407.8" cy="75.5" r="0.7" fill="#3a3a3a" opacity="0.36"/>
<circle cx="404.5" cy="76.1" r="0.7" fill="#3a3a3a" opacity="0.51"/>
<circle cx="394.4" cy="72.2" r="0.9" fill="#3a3a3a" opacity="0.38"/>
<circle cx="391.8" cy="71.5" r="0.6" fill="#3a3a3a" opacity="0.38"/>
<circle cx="395.5" cy="53.5" r="1.0" fill="#3a3a3a" opacity="0.25"/>
<circle cx="394.6" cy="54.9" r="1.0" fill="#3a3a3a" opacity="0.34"/>
<circle cx="396.5" cy="53.1" r="0.6" fill="#3a3a3a" opacity="0.33"/>
<circle cx="416.9" cy="70.9" r="0.7" fill="#3a3a3a" opacity="0.47"/>
<circle cx="418.3" cy="72.4" r="1.0" fill="#3a3a3a" opacity="0.23"/>
<circle cx="412.1" cy="51.2" r="0.5" fill="#3a3a3a" opacity="0.54"/>
<circle cx="414.3" cy="51.1" r="1.0" fill="#3a3a3a" opacity="0.27"/>
<circle cx="412.9" cy="48.4" r="0.8" fill="#3a3a3a" opacity="0.50"/>
<circle cx="427.9" cy="76.1" r="0.5" fill="#3a3a3a" opacity="0.54"/>
<circle cx="426.5" cy="75.3" r="0.8" fill="#3a3a3a" opacity="0.56"/>
<circle cx="408.5" cy="53.4" r="0.5" fill="#3a3a3a" opacity="0.35"/>
<circle cx="411.2" cy="52.3" r="0.8" fill="#3a3a3a" opacity="0.39"/>
<circle cx="408.5" cy="52.8" r="0.6" fill="#3a3a3a" opacity="0.49"/>
<circle cx="423.6" cy="53.0" r="0.9" fill="#3a3a3a" opacity="0.35"/>
<circle cx="423.9" cy="53.6" r="0.7" fill="#3a3a3a" opacity="0.49"/>
<circle cx="423.8" cy="53.6" r="1.0" fill="#3a3a3a" opacity="0.45"/>
<circle cx="411.3" cy="64.9" r="0.6" fill="#3a3a3a" opacity="0.40"/>
<circle cx="411.2" cy="63.4" r="0.6" fill="#3a3a3a" opacity="0.34"/>
<circle cx="412.6" cy="63.8" r="1.0" fill="#3a3a3a" opacity="0.28"/>
<circle cx="426.4" cy="52.7" r="0.8" fill="#3a3a3a" opacity="0.28"/>
<circle cx="426.5" cy="51.1" r="0.7" fill="#3a3a3a" opacity="0.46"/>
<circle cx="424.9" cy="51.5" r="0.6" fill="#3a3a3a" opacity="0.49"/>
<circle cx="395.8" cy="56.8" r="1.0" fill="#3a3a3a" opacity="0.31"/>
<circle cx="396.8" cy="55.6" r="0.8" fill="#3a3a3a" opacity="0.44"/>
<circle cx="396.9" cy="57.1" r="0.6" fill="#3a3a3a" opacity="0.47"/>
<circle cx="399.0" cy="55.3" r="0.5" fill="#3a3a3a" opacity="0.53"/>
<circle cx="433.0" cy="81.5" r="0.7" fill="#3a3a3a" opacity="0.35"/>
<circle cx="431.8" cy="80.4" r="0.6" fill="#3a3a3a" opacity="0.54"/>
<circle cx="433.9" cy="81.3" r="0.6" fill="#3a3a3a" opacity="0.36"/>
<circle cx="434.3" cy="82.5" r="0.7" fill="#3a3a3a" opacity="0.23"/>
<circle cx="409.0" cy="60.2" r="0.7" fill="#3a3a3a" opacity="0.27"/>
<circle cx="407.1" cy="61.2" r="0.8" fill="#3a3a3a" opacity="0.38"/>
<circle cx="408.7" cy="61.3" r="0.7" fill="#3a3a3a" opacity="0.29"/>
<circle cx="418.4" cy="71.7" r="1.0" fill="#3a3a3a" opacity="0.41"/>
<circle cx="400.8" cy="87.5" r="0.7" fill="#3a3a3a" opacity="0.39"/>
<circle cx="403.1" cy="85.4" r="1.0" fill="#3a3a3a" opacity="0.28"/>
<circle cx="402.0" cy="85.4" r="0.6" fill="#3a3a3a" opacity="0.31"/>
<circle cx="405.7" cy="86.6" r="0.6" fill="#3a3a3a" opacity="0.55"/>
<circle cx="416.4" cy="68.8" r="0.5" fill="#3a3a3a" opacity="0.36"/>
<circle cx="415.1" cy="68.7" r="0.6" fill="#3a3a3a" opacity="0.39"/>
<circle cx="417.5" cy="68.8" r="1.0" fill="#3a3a3a" opacity="0.47"/>
<circle cx="416.1" cy="69.7" r="1.0" fill="#3a3a3a" opacity="0.40"/>
<circle cx="429.9" cy="47.8" r="0.6" fill="#3a3a3a" opacity="0.47"/>
<circle cx="396.9" cy="51.7" r="0.9" fill="#3a3a3a" opacity="0.43"/>
<circle cx="426.0" cy="67.9" r="0.9" fill="#3a3a3a" opacity="0.29"/>
<circle cx="424.6" cy="69.1" r="0.8" fill="#3a3a3a" opacity="0.46"/>
<circle cx="427.6" cy="67.9" r="1.0" fill="#3a3a3a" opacity="0.51"/>
<circle cx="424.7" cy="68.6" r="0.9" fill="#3a3a3a" opacity="0.53"/>
<circle cx="393.6" cy="68.9" r="0.7" fill="#3a3a3a" opacity="0.32"/>
<circle cx="393.2" cy="68.1" r="0.5" fill="#3a3a3a" opacity="0.39"/>
<circle cx="391.6" cy="69.9" r="0.6" fill="#3a3a3a" opacity="0.27"/>
<circle cx="394.6" cy="53.2" r="0.5" fill="#3a3a3a" opacity="0.24"/>
<circle cx="431.0" cy="59.9" r="0.9" fill="#3a3a3a" opacity="0.24"/>
<circle cx="427.9" cy="59.8" r="0.8" fill="#3a3a3a" opacity="0.55"/>
<circle cx="427.4" cy="59.9" r="0.6" fill="#3a3a3a" opacity="0.54"/>
<circle cx="428.3" cy="61.5" r="0.7" fill="#3a3a3a" opacity="0.28"/>
<circle cx="409.4" cy="60.5" r="0.6" fill="#3a3a3a" opacity="0.42"/>
<circle cx="426.0" cy="76.2" r="0.9" fill="#3a3a3a" opacity="0.39"/>
<circle cx="424.7" cy="77.3" r="1.0" fill="#3a3a3a" opacity="0.27"/>
<circle cx="409.8" cy="82.9" r="0.8" fill="#3a3a3a" opacity="0.31"/>
<circle cx="408.0" cy="83.4" r="0.9" fill="#3a3a3a" opacity="0.40"/>
<circle cx="409.3" cy="84.2" r="0.7" fill="#3a3a3a" opacity="0.48"/>
<circle cx="424.3" cy="85.3" r="0.5" fill="#3a3a3a" opacity="0.26"/>
<circle cx="422.5" cy="84.1" r="1.0" fill="#3a3a3a" opacity="0.39"/>
<circle cx="422.3" cy="86.2" r="0.5" fill="#3a3a3a" opacity="0.47"/>
</g>
<text x="383.30" y="43.30" font-size="9.8" fill="#fff" font-weight="bold">KO</text>
<defs><radialGradient id="pg6" cx="0.5" cy="0.47" r="0.52"><stop offset="0" stop-color="#ececec"/><stop offset="0.45" stop-color="#d9d9d9"/><stop offset="0.72" stop-color="#bababa"/><stop offset="0.87" stop-color="#929292"/><stop offset="0.95" stop-color="#555"/><stop offset="1" stop-color="#222"/></radialGradient><linearGradient id="bg6" x1="0" y1="1" x2="1" y2="0"><stop offset="0" stop-color="#4a4a4a"/><stop offset="0.55" stop-color="#474747"/><stop offset="1" stop-color="#858585"/></linearGradient></defs>
<rect x="449.00" y="33.50" width="64.50" height="64.00" fill="url(#bg6)"/>
<circle cx="481.25" cy="65.50" r="31.95" fill="#1e1e1e"/>
<circle cx="481.25" cy="65.50" r="31.60" fill="none" stroke="#9a9a9a" stroke-width="0.7"/>
<circle cx="481.25" cy="65.50" r="30.70" fill="#161616"/>
<ellipse cx="481.25" cy="63.30" rx="29.30" ry="27.60" fill="url(#pg6)"/>
<g filter="url(#blur04)">
<circle cx="487.4" cy="43.4" r="0.5" fill="#3a3a3a" opacity="0.43"/>
<circle cx="488.9" cy="43.3" r="0.6" fill="#3a3a3a" opacity="0.23"/>
<circle cx="486.7" cy="43.7" r="1.0" fill="#3a3a3a" opacity="0.54"/>
<circle cx="486.9" cy="43.6" r="0.8" fill="#3a3a3a" opacity="0.46"/>
<circle cx="479.1" cy="44.6" r="0.5" fill="#3a3a3a" opacity="0.50"/>
<circle cx="486.9" cy="48.3" r="0.9" fill="#3a3a3a" opacity="0.25"/>
<circle cx="502.1" cy="72.4" r="0.6" fill="#3a3a3a" opacity="0.42"/>
<circle cx="506.1" cy="71.8" r="0.8" fill="#3a3a3a" opacity="0.54"/>
<circle cx="503.5" cy="71.7" r="0.7" fill="#3a3a3a" opacity="0.35"/>
<circle cx="495.3" cy="78.6" r="0.6" fill="#3a3a3a" opacity="0.29"/>
<circle cx="493.6" cy="77.6" r="0.6" fill="#3a3a3a" opacity="0.52"/>
<circle cx="481.3" cy="62.9" r="1.0" fill="#3a3a3a" opacity="0.44"/>
<circle cx="480.0" cy="63.8" r="0.7" fill="#3a3a3a" opacity="0.26"/>
<circle cx="484.1" cy="63.5" r="0.5" fill="#3a3a3a" opacity="0.37"/>
<circle cx="487.2" cy="65.1" r="0.8" fill="#3a3a3a" opacity="0.52"/>
<circle cx="485.4" cy="66.1" r="0.7" fill="#3a3a3a" opacity="0.25"/>
<circle cx="486.3" cy="65.9" r="0.9" fill="#3a3a3a" opacity="0.55"/>
<circle cx="486.8" cy="84.9" r="0.6" fill="#3a3a3a" opacity="0.23"/>
<circle cx="489.5" cy="85.7" r="0.7" fill="#3a3a3a" opacity="0.31"/>
<circle cx="486.4" cy="85.5" r="0.6" fill="#3a3a3a" opacity="0.36"/>
<circle cx="489.6" cy="83.8" r="0.6" fill="#3a3a3a" opacity="0.39"/>
<circle cx="470.5" cy="66.8" r="0.7" fill="#3a3a3a" opacity="0.35"/>
<circle cx="473.1" cy="68.7" r="0.8" fill="#3a3a3a" opacity="0.46"/>
<circle cx="471.8" cy="68.2" r="1.0" fill="#3a3a3a" opacity="0.48"/>
<circle cx="472.9" cy="68.3" r="0.8" fill="#3a3a3a" opacity="0.44"/>
<circle cx="491.3" cy="62.3" r="1.0" fill="#3a3a3a" opacity="0.39"/>
<circle cx="462.3" cy="52.2" r="0.7" fill="#3a3a3a" opacity="0.49"/>
<circle cx="461.5" cy="51.6" r="0.7" fill="#3a3a3a" opacity="0.26"/>
<circle cx="474.7" cy="72.4" r="0.8" fill="#3a3a3a" opacity="0.25"/>
<circle cx="476.2" cy="73.6" r="0.7" fill="#3a3a3a" opacity="0.53"/>
<circle cx="465.2" cy="48.8" r="0.5" fill="#3a3a3a" opacity="0.44"/>
<circle cx="466.7" cy="52.2" r="0.8" fill="#3a3a3a" opacity="0.39"/>
<circle cx="501.9" cy="67.5" r="0.9" fill="#3a3a3a" opacity="0.38"/>
<circle cx="500.8" cy="69.6" r="0.5" fill="#3a3a3a" opacity="0.50"/>
<circle cx="496.2" cy="64.7" r="0.6" fill="#3a3a3a" opacity="0.56"/>
<circle cx="459.3" cy="74.9" r="0.8" fill="#3a3a3a" opacity="0.30"/>
<circle cx="480.4" cy="44.3" r="1.0" fill="#3a3a3a" opacity="0.49"/>
<circle cx="482.1" cy="43.5" r="0.7" fill="#3a3a3a" opacity="0.25"/>
<circle cx="480.6" cy="43.5" r="0.8" fill="#3a3a3a" opacity="0.38"/>
<circle cx="472.8" cy="68.0" r="0.6" fill="#3a3a3a" opacity="0.47"/>
<circle cx="490.6" cy="82.8" r="0.9" fill="#3a3a3a" opacity="0.47"/>
<circle cx="491.0" cy="86.2" r="0.9" fill="#3a3a3a" opacity="0.57"/>
<circle cx="489.9" cy="85.1" r="0.9" fill="#3a3a3a" opacity="0.36"/>
<circle cx="490.1" cy="83.2" r="0.8" fill="#3a3a3a" opacity="0.22"/>
<circle cx="491.2" cy="49.0" r="0.9" fill="#3a3a3a" opacity="0.35"/>
<circle cx="490.1" cy="48.1" r="0.5" fill="#3a3a3a" opacity="0.44"/>
<circle cx="476.3" cy="69.7" r="0.8" fill="#3a3a3a" opacity="0.41"/>
<circle cx="470.7" cy="47.9" r="0.6" fill="#3a3a3a" opacity="0.42"/>
<circle cx="494.4" cy="59.8" r="0.5" fill="#3a3a3a" opacity="0.53"/>
<circle cx="490.9" cy="60.1" r="0.9" fill="#3a3a3a" opacity="0.28"/>
<circle cx="493.1" cy="58.9" r="1.0" fill="#3a3a3a" opacity="0.57"/>
<circle cx="491.8" cy="59.9" r="0.6" fill="#3a3a3a" opacity="0.30"/>
<circle cx="489.3" cy="47.2" r="0.8" fill="#3a3a3a" opacity="0.48"/>
<circle cx="492.0" cy="46.6" r="1.0" fill="#3a3a3a" opacity="0.34"/>
<circle cx="461.3" cy="64.6" r="0.6" fill="#3a3a3a" opacity="0.49"/>
<circle cx="466.2" cy="82.2" r="0.5" fill="#3a3a3a" opacity="0.27"/>
<circle cx="468.3" cy="81.5" r="0.5" fill="#3a3a3a" opacity="0.51"/>
<circle cx="469.1" cy="82.2" r="0.6" fill="#3a3a3a" opacity="0.27"/>
<circle cx="473.0" cy="70.6" r="0.8" fill="#3a3a3a" opacity="0.51"/>
<circle cx="472.6" cy="70.3" r="0.6" fill="#3a3a3a" opacity="0.23"/>
<circle cx="472.0" cy="70.2" r="0.6" fill="#3a3a3a" opacity="0.26"/>
<circle cx="472.0" cy="70.6" r="0.5" fill="#3a3a3a" opacity="0.27"/>
<circle cx="467.9" cy="77.7" r="0.7" fill="#3a3a3a" opacity="0.49"/>
<circle cx="465.5" cy="76.9" r="0.5" fill="#3a3a3a" opacity="0.37"/>
<circle cx="467.3" cy="77.1" r="0.8" fill="#3a3a3a" opacity="0.46"/>
<circle cx="467.9" cy="78.1" r="0.6" fill="#3a3a3a" opacity="0.36"/>
<circle cx="472.9" cy="58.2" r="0.9" fill="#3a3a3a" opacity="0.54"/>
<circle cx="494.0" cy="84.5" r="0.7" fill="#3a3a3a" opacity="0.35"/>
<circle cx="505.1" cy="63.6" r="0.9" fill="#3a3a3a" opacity="0.24"/>
<circle cx="504.5" cy="65.0" r="0.8" fill="#3a3a3a" opacity="0.47"/>
<circle cx="504.8" cy="65.7" r="0.5" fill="#3a3a3a" opacity="0.46"/>
<circle cx="504.2" cy="64.3" r="1.0" fill="#3a3a3a" opacity="0.45"/>
<circle cx="493.5" cy="75.7" r="0.6" fill="#3a3a3a" opacity="0.56"/>
<circle cx="491.8" cy="76.5" r="0.7" fill="#3a3a3a" opacity="0.54"/>
<circle cx="464.2" cy="51.2" r="0.8" fill="#3a3a3a" opacity="0.48"/>
<circle cx="467.3" cy="50.4" r="1.0" fill="#3a3a3a" opacity="0.32"/>
<circle cx="503.3" cy="65.9" r="0.6" fill="#3a3a3a" opacity="0.22"/>
<circle cx="489.0" cy="61.7" r="0.7" fill="#3a3a3a" opacity="0.51"/>
<circle cx="488.4" cy="61.7" r="0.7" fill="#3a3a3a" opacity="0.36"/>
<circle cx="488.7" cy="60.7" r="1.0" fill="#3a3a3a" opacity="0.26"/>
<circle cx="478.1" cy="65.4" r="0.5" fill="#3a3a3a" opacity="0.26"/>
<circle cx="478.1" cy="64.7" r="1.0" fill="#3a3a3a" opacity="0.52"/>
</g>
<text x="451.30" y="43.30" font-size="9.8" fill="#fff" font-weight="bold">DBP</text>
<rect x="370.00" y="141.75" width="8.50" height="81.15" fill="#3db54b"/>
<line x1="374.25" y1="141.75" x2="374.25" y2="138.75" stroke="#222" stroke-width="0.9"/>
<line x1="371.75" y1="138.75" x2="376.75" y2="138.75" stroke="#222" stroke-width="0.9"/>
<rect x="384.00" y="138.00" width="8.50" height="84.90" fill="#0e4c83"/>
<line x1="388.25" y1="138.00" x2="388.25" y2="133.75" stroke="#222" stroke-width="0.9"/>
<line x1="385.75" y1="133.75" x2="390.75" y2="133.75" stroke="#222" stroke-width="0.9"/>
<rect x="398.00" y="157.00" width="8.50" height="65.90" fill="#c8102e"/>
<line x1="402.25" y1="157.00" x2="402.25" y2="148.75" stroke="#222" stroke-width="0.9"/>
<line x1="399.75" y1="148.75" x2="404.75" y2="148.75" stroke="#222" stroke-width="0.9"/>
<rect x="440.00" y="193.50" width="8.75" height="29.40" fill="#3db54b"/>
<line x1="444.38" y1="193.50" x2="444.38" y2="190.00" stroke="#222" stroke-width="0.9"/>
<line x1="441.88" y1="190.00" x2="446.88" y2="190.00" stroke="#222" stroke-width="0.9"/>
<rect x="454.00" y="188.00" width="8.50" height="34.90" fill="#0e4c83"/>
<line x1="458.25" y1="188.00" x2="458.25" y2="177.50" stroke="#222" stroke-width="0.9"/>
<line x1="455.75" y1="177.50" x2="460.75" y2="177.50" stroke="#222" stroke-width="0.9"/>
<rect x="468.00" y="137.00" width="8.50" height="85.90" fill="#c8102e"/>
<line x1="472.25" y1="137.00" x2="472.25" y2="128.00" stroke="#222" stroke-width="0.9"/>
<line x1="469.75" y1="128.00" x2="474.75" y2="128.00" stroke="#222" stroke-width="0.9"/>
<line x1="346.00" y1="107.90" x2="346.00" y2="223.50" stroke="#222" stroke-width="1.3"/>
<line x1="345.40" y1="222.90" x2="500.50" y2="222.90" stroke="#222" stroke-width="1.3"/>
<line x1="343.00" y1="222.90" x2="346.00" y2="222.90" stroke="#222" stroke-width="1.1"/>
<text x="340.00" y="225.91" font-size="8.6" text-anchor="end" textLength="4.3" lengthAdjust="spacingAndGlyphs" stroke="#222" stroke-width="0.06">0</text>
<line x1="343.00" y1="200.70" x2="346.00" y2="200.70" stroke="#222" stroke-width="1.1"/>
<text x="340.00" y="203.71" font-size="8.6" text-anchor="end" textLength="8.61" lengthAdjust="spacingAndGlyphs" stroke="#222" stroke-width="0.06">20</text>
<line x1="343.00" y1="178.50" x2="346.00" y2="178.50" stroke="#222" stroke-width="1.1"/>
<text x="340.00" y="181.51" font-size="8.6" text-anchor="end" textLength="8.61" lengthAdjust="spacingAndGlyphs" stroke="#222" stroke-width="0.06">40</text>
<line x1="343.00" y1="156.30" x2="346.00" y2="156.30" stroke="#222" stroke-width="1.1"/>
<text x="340.00" y="159.31" font-size="8.6" text-anchor="end" textLength="8.61" lengthAdjust="spacingAndGlyphs" stroke="#222" stroke-width="0.06">60</text>
<line x1="343.00" y1="134.10" x2="346.00" y2="134.10" stroke="#222" stroke-width="1.1"/>
<text x="340.00" y="137.11" font-size="8.6" text-anchor="end" textLength="8.61" lengthAdjust="spacingAndGlyphs" stroke="#222" stroke-width="0.06">80</text>
<line x1="343.00" y1="111.90" x2="346.00" y2="111.90" stroke="#222" stroke-width="1.1"/>
<text x="340.00" y="114.91" font-size="8.6" text-anchor="end" textLength="12.91" lengthAdjust="spacingAndGlyphs" stroke="#222" stroke-width="0.06">100</text>
<line x1="388.25" y1="222.90" x2="388.25" y2="226.40" stroke="#222" stroke-width="1.1"/>
<line x1="458.00" y1="222.90" x2="458.00" y2="226.40" stroke="#222" stroke-width="1.1"/>
<line x1="370.75" y1="124.25" x2="438.25" y2="124.25" stroke="#444" stroke-width="1.2"/>
<polygon points="401.45,118.50 401.89,119.64 403.11,119.71 402.16,120.48 402.48,121.67 401.45,121.00 400.42,121.67 400.74,120.48 399.79,119.71 401.01,119.64" fill="#2a2a2a"/>
<polygon points="404.75,118.50 405.19,119.64 406.41,119.71 405.46,120.48 405.78,121.67 404.75,121.00 403.72,121.67 404.04,120.48 403.09,119.71 404.31,119.64" fill="#2a2a2a"/>
<polygon points="408.05,118.50 408.49,119.64 409.71,119.71 408.76,120.48 409.08,121.67 408.05,121.00 407.02,121.67 407.34,120.48 406.39,119.71 407.61,119.64" fill="#2a2a2a"/>
<line x1="442.25" y1="124.25" x2="473.75" y2="124.25" stroke="#444" stroke-width="1.2"/>
<polygon points="454.70,118.50 455.14,119.64 456.36,119.71 455.41,120.48 455.73,121.67 454.70,121.00 453.67,121.67 453.99,120.48 453.04,119.71 454.26,119.64" fill="#2a2a2a"/>
<polygon points="458.00,118.50 458.44,119.64 459.66,119.71 458.71,120.48 459.03,121.67 458.00,121.00 456.97,121.67 457.29,120.48 456.34,119.71 457.56,119.64" fill="#2a2a2a"/>
<polygon points="461.30,118.50 461.74,119.64 462.96,119.71 462.01,120.48 462.33,121.67 461.30,121.00 460.27,121.67 460.59,120.48 459.64,119.71 460.86,119.64" fill="#2a2a2a"/>
<rect x="489.50" y="113.00" width="5.80" height="5.80" fill="#3db54b"/>
<text x="498.00" y="118.80" font-size="7.6" stroke="#222" stroke-width="0.06">WT</text>
<rect x="489.50" y="123.75" width="5.80" height="5.80" fill="#0e4c83"/>
<text x="498.00" y="129.55" font-size="7.6" stroke="#222" stroke-width="0.06">KO</text>
<rect x="489.50" y="134.50" width="5.80" height="5.80" fill="#c8102e"/>
<text x="498.00" y="140.30" font-size="7.6" stroke="#222" stroke-width="0.06">DBP</text>
<text x="388.25" y="235.80" font-size="8.6" text-anchor="middle" textLength="19.9" lengthAdjust="spacingAndGlyphs" stroke="#222" stroke-width="0.06">pMIG</text>
<text x="458.25" y="235.80" font-size="8.6" text-anchor="middle" textLength="41.5" lengthAdjust="spacingAndGlyphs" stroke="#222" stroke-width="0.06">JAK2V617F</text>
<text x="0.00" y="0.00" font-size="8.4" text-anchor="middle" textLength="87.1" lengthAdjust="spacingAndGlyphs" transform="translate(320.6,168.1) rotate(-90)" stroke="#222" stroke-width="0.06">Colonies/3000 cells plated</text>
<text x="63.30" y="255.00" font-size="9.5" text-anchor="middle" stroke="#222" stroke-width="0.08">pMIG</text>
<text x="127.50" y="255.00" font-size="9.5" text-anchor="middle" textLength="51" lengthAdjust="spacingAndGlyphs" stroke="#222" stroke-width="0.08">JAK2V617F</text>
<text x="28.70" y="289.00" font-size="8.2" text-anchor="end" stroke="#222" stroke-width="0.05">WT</text>
<text x="28.70" y="348.00" font-size="8.2" text-anchor="end" stroke="#222" stroke-width="0.05">KO</text>
<text x="28.70" y="408.00" font-size="8.2" text-anchor="end" stroke="#222" stroke-width="0.05">DBP</text>
<clipPath id="mc10"><rect x="33" y="259" width="61.5" height="56"/></clipPath>
<g clip-path="url(#mc10)">
<rect x="33.00" y="259.00" width="61.50" height="56.00" fill="#7d797f"/>
<g filter="url(#blur03)">
<g fill="#bcb0c8" opacity="0.5"><circle cx="68.1" cy="283.0" r="2.50"/><circle cx="68.6" cy="270.5" r="2.50"/><circle cx="83.0" cy="305.1" r="2.21"/><circle cx="73.2" cy="268.0" r="2.31"/><circle cx="65.0" cy="277.4" r="2.24"/><circle cx="48.4" cy="312.4" r="2.55"/><circle cx="94.3" cy="261.5" r="2.23"/><circle cx="85.9" cy="292.8" r="2.22"/><circle cx="56.5" cy="274.9" r="2.45"/><circle cx="74.5" cy="284.6" r="2.55"/><circle cx="75.2" cy="296.1" r="2.49"/><circle cx="41.2" cy="302.0" r="2.34"/><circle cx="93.4" cy="313.3" r="2.21"/><circle cx="70.7" cy="261.5" r="2.40"/><circle cx="33.2" cy="266.5" r="2.40"/><circle cx="90.9" cy="276.0" r="2.26"/><circle cx="55.5" cy="309.3" r="2.22"/><circle cx="52.3" cy="289.7" r="2.49"/><circle cx="59.8" cy="262.6" r="2.34"/><circle cx="68.9" cy="306.3" r="2.32"/><circle cx="42.6" cy="271.6" r="2.26"/><circle cx="58.4" cy="261.1" r="2.53"/><circle cx="63.5" cy="304.8" r="2.26"/><circle cx="73.5" cy="288.9" r="2.25"/><circle cx="85.6" cy="267.4" r="2.54"/><circle cx="67.9" cy="280.0" r="2.28"/><circle cx="70.0" cy="265.3" r="2.45"/><circle cx="80.7" cy="264.4" r="2.32"/><circle cx="43.2" cy="304.2" r="2.41"/><circle cx="91.3" cy="283.3" r="2.43"/><circle cx="58.5" cy="272.7" r="2.44"/><circle cx="49.9" cy="293.6" r="2.23"/><circle cx="44.0" cy="265.7" r="2.30"/><circle cx="61.0" cy="268.2" r="2.42"/><circle cx="72.9" cy="305.0" r="2.23"/><circle cx="80.8" cy="285.9" r="2.43"/><circle cx="54.4" cy="283.3" r="2.45"/><circle cx="33.3" cy="298.9" r="2.55"/><circle cx="53.4" cy="276.9" r="2.24"/><circle cx="37.9" cy="284.1" r="2.29"/><circle cx="68.8" cy="280.9" r="2.51"/><circle cx="86.5" cy="296.7" r="2.20"/><circle cx="47.8" cy="288.4" r="2.44"/><circle cx="89.0" cy="288.1" r="2.24"/><circle cx="70.0" cy="262.5" r="2.43"/><circle cx="63.1" cy="284.8" r="2.42"/><circle cx="57.7" cy="282.5" r="2.22"/><circle cx="69.0" cy="289.2" r="2.36"/><circle cx="63.1" cy="268.3" r="2.42"/><circle cx="60.1" cy="313.2" r="2.43"/><circle cx="58.5" cy="261.0" r="2.26"/><circle cx="33.2" cy="289.0" r="2.30"/><circle cx="36.1" cy="264.2" r="2.25"/><circle cx="39.7" cy="284.4" r="2.30"/><circle cx="94.1" cy="286.2" r="2.48"/><circle cx="61.2" cy="283.4" r="2.51"/><circle cx="63.8" cy="284.0" r="2.42"/><circle cx="77.7" cy="309.3" r="2.39"/><circle cx="75.9" cy="282.7" r="2.50"/><circle cx="72.9" cy="309.9" r="2.50"/><circle cx="42.4" cy="272.3" r="2.37"/><circle cx="71.1" cy="297.5" r="2.26"/><circle cx="72.5" cy="292.0" r="2.34"/><circle cx="84.0" cy="285.8" r="2.32"/><circle cx="82.7" cy="312.9" r="2.22"/><circle cx="59.8" cy="307.1" r="2.36"/><circle cx="77.2" cy="308.8" r="2.37"/><circle cx="35.8" cy="310.1" r="2.25"/><circle cx="80.2" cy="312.9" r="2.46"/><circle cx="93.4" cy="275.0" r="2.36"/><circle cx="74.2" cy="266.9" r="2.33"/><circle cx="69.6" cy="310.5" r="2.52"/><circle cx="44.8" cy="278.6" r="2.21"/><circle cx="37.9" cy="269.9" r="2.35"/><circle cx="45.8" cy="264.4" r="2.24"/><circle cx="94.5" cy="308.7" r="2.35"/><circle cx="61.5" cy="300.6" r="2.47"/><circle cx="75.8" cy="288.3" r="2.44"/><circle cx="59.0" cy="296.2" r="2.49"/><circle cx="67.2" cy="273.9" r="2.44"/><circle cx="55.4" cy="294.1" r="2.48"/><circle cx="71.6" cy="270.7" r="2.39"/><circle cx="70.5" cy="308.0" r="2.23"/><circle cx="86.6" cy="295.5" r="2.50"/><circle cx="37.3" cy="282.7" r="2.36"/><circle cx="38.5" cy="262.1" r="2.33"/><circle cx="48.7" cy="284.6" r="2.30"/><circle cx="79.7" cy="294.2" r="2.37"/><circle cx="50.4" cy="297.9" r="2.31"/><circle cx="64.2" cy="287.4" r="2.34"/><circle cx="49.2" cy="283.7" r="2.51"/><circle cx="54.0" cy="299.7" r="2.35"/><circle cx="62.7" cy="284.0" r="2.26"/><circle cx="62.3" cy="285.9" r="2.39"/><circle cx="75.4" cy="299.3" r="2.40"/><circle cx="82.3" cy="281.7" r="2.35"/><circle cx="81.8" cy="313.0" r="2.50"/><circle cx="94.0" cy="299.4" r="2.51"/><circle cx="37.0" cy="306.4" r="2.42"/><circle cx="84.4" cy="259.9" r="2.30"/><circle cx="53.2" cy="277.0" r="2.26"/><circle cx="78.5" cy="293.2" r="2.34"/><circle cx="50.4" cy="269.4" r="2.41"/><circle cx="43.4" cy="264.3" r="2.42"/><circle cx="81.6" cy="311.4" r="2.26"/><circle cx="46.5" cy="300.7" r="2.39"/><circle cx="91.5" cy="269.7" r="2.22"/><circle cx="68.2" cy="283.6" r="2.26"/><circle cx="93.0" cy="307.7" r="2.36"/><circle cx="34.0" cy="270.3" r="2.21"/></g>
<g fill="#e6e4d0" opacity="0.95"><circle cx="68.1" cy="283.0" r="1.80"/><circle cx="68.6" cy="270.5" r="1.80"/><circle cx="83.0" cy="305.1" r="1.51"/><circle cx="73.2" cy="268.0" r="1.61"/><circle cx="65.0" cy="277.4" r="1.54"/><circle cx="48.4" cy="312.4" r="1.85"/><circle cx="94.3" cy="261.5" r="1.53"/><circle cx="85.9" cy="292.8" r="1.52"/><circle cx="56.5" cy="274.9" r="1.75"/><circle cx="74.5" cy="284.6" r="1.85"/><circle cx="75.2" cy="296.1" r="1.79"/><circle cx="41.2" cy="302.0" r="1.64"/><circle cx="93.4" cy="313.3" r="1.51"/><circle cx="70.7" cy="261.5" r="1.70"/><circle cx="33.2" cy="266.5" r="1.70"/><circle cx="90.9" cy="276.0" r="1.56"/><circle cx="55.5" cy="309.3" r="1.52"/><circle cx="52.3" cy="289.7" r="1.79"/><circle cx="59.8" cy="262.6" r="1.64"/><circle cx="68.9" cy="306.3" r="1.62"/><circle cx="42.6" cy="271.6" r="1.56"/><circle cx="58.4" cy="261.1" r="1.83"/><circle cx="63.5" cy="304.8" r="1.56"/><circle cx="73.5" cy="288.9" r="1.55"/><circle cx="85.6" cy="267.4" r="1.84"/><circle cx="67.9" cy="280.0" r="1.58"/><circle cx="70.0" cy="265.3" r="1.75"/><circle cx="80.7" cy="264.4" r="1.62"/><circle cx="43.2" cy="304.2" r="1.71"/><circle cx="91.3" cy="283.3" r="1.73"/><circle cx="58.5" cy="272.7" r="1.74"/><circle cx="49.9" cy="293.6" r="1.53"/><circle cx="44.0" cy="265.7" r="1.60"/><circle cx="61.0" cy="268.2" r="1.72"/><circle cx="72.9" cy="305.0" r="1.53"/><circle cx="80.8" cy="285.9" r="1.73"/><circle cx="54.4" cy="283.3" r="1.75"/><circle cx="33.3" cy="298.9" r="1.85"/><circle cx="53.4" cy="276.9" r="1.54"/><circle cx="37.9" cy="284.1" r="1.59"/><circle cx="68.8" cy="280.9" r="1.81"/><circle cx="86.5" cy="296.7" r="1.50"/><circle cx="47.8" cy="288.4" r="1.74"/><circle cx="89.0" cy="288.1" r="1.54"/><circle cx="70.0" cy="262.5" r="1.73"/><circle cx="63.1" cy="284.8" r="1.72"/><circle cx="57.7" cy="282.5" r="1.52"/><circle cx="69.0" cy="289.2" r="1.66"/><circle cx="63.1" cy="268.3" r="1.72"/><circle cx="60.1" cy="313.2" r="1.73"/><circle cx="58.5" cy="261.0" r="1.56"/><circle cx="33.2" cy="289.0" r="1.60"/><circle cx="36.1" cy="264.2" r="1.55"/><circle cx="39.7" cy="284.4" r="1.60"/><circle cx="94.1" cy="286.2" r="1.78"/><circle cx="61.2" cy="283.4" r="1.81"/><circle cx="63.8" cy="284.0" r="1.72"/><circle cx="77.7" cy="309.3" r="1.69"/><circle cx="75.9" cy="282.7" r="1.80"/><circle cx="72.9" cy="309.9" r="1.80"/><circle cx="42.4" cy="272.3" r="1.67"/><circle cx="71.1" cy="297.5" r="1.56"/><circle cx="72.5" cy="292.0" r="1.64"/><circle cx="84.0" cy="285.8" r="1.62"/><circle cx="82.7" cy="312.9" r="1.52"/><circle cx="59.8" cy="307.1" r="1.66"/><circle cx="77.2" cy="308.8" r="1.67"/><circle cx="35.8" cy="310.1" r="1.55"/><circle cx="80.2" cy="312.9" r="1.76"/><circle cx="93.4" cy="275.0" r="1.66"/><circle cx="74.2" cy="266.9" r="1.63"/><circle cx="69.6" cy="310.5" r="1.82"/><circle cx="44.8" cy="278.6" r="1.51"/><circle cx="37.9" cy="269.9" r="1.65"/><circle cx="45.8" cy="264.4" r="1.54"/><circle cx="94.5" cy="308.7" r="1.65"/><circle cx="61.5" cy="300.6" r="1.77"/><circle cx="75.8" cy="288.3" r="1.74"/><circle cx="59.0" cy="296.2" r="1.79"/><circle cx="67.2" cy="273.9" r="1.74"/><circle cx="55.4" cy="294.1" r="1.78"/><circle cx="71.6" cy="270.7" r="1.69"/><circle cx="70.5" cy="308.0" r="1.53"/><circle cx="86.6" cy="295.5" r="1.80"/><circle cx="37.3" cy="282.7" r="1.66"/><circle cx="38.5" cy="262.1" r="1.63"/><circle cx="48.7" cy="284.6" r="1.60"/><circle cx="79.7" cy="294.2" r="1.67"/><circle cx="50.4" cy="297.9" r="1.61"/><circle cx="64.2" cy="287.4" r="1.64"/><circle cx="49.2" cy="283.7" r="1.81"/><circle cx="54.0" cy="299.7" r="1.65"/><circle cx="62.7" cy="284.0" r="1.56"/><circle cx="62.3" cy="285.9" r="1.69"/><circle cx="75.4" cy="299.3" r="1.70"/><circle cx="82.3" cy="281.7" r="1.65"/><circle cx="81.8" cy="313.0" r="1.80"/><circle cx="94.0" cy="299.4" r="1.81"/><circle cx="37.0" cy="306.4" r="1.72"/><circle cx="84.4" cy="259.9" r="1.60"/><circle cx="53.2" cy="277.0" r="1.56"/><circle cx="78.5" cy="293.2" r="1.64"/><circle cx="50.4" cy="269.4" r="1.71"/><circle cx="43.4" cy="264.3" r="1.72"/><circle cx="81.6" cy="311.4" r="1.56"/><circle cx="46.5" cy="300.7" r="1.69"/><circle cx="91.5" cy="269.7" r="1.52"/><circle cx="68.2" cy="283.6" r="1.56"/><circle cx="93.0" cy="307.7" r="1.66"/><circle cx="34.0" cy="270.3" r="1.51"/></g>
<g><circle cx="68.1" cy="283.0" r="0.69" fill="#bfb064"/><circle cx="68.6" cy="270.5" r="0.71" fill="#7a7048"/><circle cx="83.0" cy="305.1" r="0.64" fill="#c9bb6a"/><circle cx="73.2" cy="268.0" r="0.71" fill="#948650"/><circle cx="65.0" cy="277.4" r="0.75" fill="#bfb064"/><circle cx="48.4" cy="312.4" r="0.56" fill="#bfb064"/><circle cx="94.3" cy="261.5" r="0.66" fill="#bfb064"/><circle cx="85.9" cy="292.8" r="0.78" fill="#c9bb6a"/><circle cx="56.5" cy="274.9" r="0.70" fill="#c9bb6a"/><circle cx="74.5" cy="284.6" r="0.59" fill="#c9bb6a"/><circle cx="75.2" cy="296.1" r="0.64" fill="#c9bb6a"/><circle cx="41.2" cy="302.0" r="0.57" fill="#948650"/><circle cx="93.4" cy="313.3" r="0.77" fill="#948650"/><circle cx="70.7" cy="261.5" r="0.79" fill="#bfb064"/><circle cx="33.2" cy="266.5" r="0.79" fill="#7a7048"/><circle cx="90.9" cy="276.0" r="0.79" fill="#948650"/><circle cx="55.5" cy="309.3" r="0.59" fill="#bfb064"/><circle cx="52.3" cy="289.7" r="0.63" fill="#7a7048"/><circle cx="59.8" cy="262.6" r="0.74" fill="#7a7048"/><circle cx="68.9" cy="306.3" r="0.60" fill="#948650"/><circle cx="42.6" cy="271.6" r="0.75" fill="#c9bb6a"/><circle cx="58.4" cy="261.1" r="0.63" fill="#7a7048"/><circle cx="63.5" cy="304.8" r="0.77" fill="#c9bb6a"/><circle cx="73.5" cy="288.9" r="0.71" fill="#c9bb6a"/><circle cx="85.6" cy="267.4" r="0.65" fill="#7a7048"/><circle cx="67.9" cy="280.0" r="0.66" fill="#bfb064"/><circle cx="70.0" cy="265.3" r="0.68" fill="#7a7048"/><circle cx="80.7" cy="264.4" r="0.78" fill="#c9bb6a"/><circle cx="43.2" cy="304.2" r="0.68" fill="#7a7048"/><circle cx="91.3" cy="283.3" r="0.79" fill="#c9bb6a"/><circle cx="58.5" cy="272.7" r="0.57" fill="#c9bb6a"/><circle cx="49.9" cy="293.6" r="0.78" fill="#948650"/><circle cx="44.0" cy="265.7" r="0.57" fill="#948650"/><circle cx="61.0" cy="268.2" r="0.69" fill="#7a7048"/><circle cx="72.9" cy="305.0" r="0.75" fill="#7a7048"/><circle cx="80.8" cy="285.9" r="0.66" fill="#948650"/><circle cx="54.4" cy="283.3" r="0.64" fill="#c9bb6a"/><circle cx="33.3" cy="298.9" r="0.59" fill="#948650"/><circle cx="53.4" cy="276.9" r="0.79" fill="#948650"/><circle cx="37.9" cy="284.1" r="0.61" fill="#c9bb6a"/><circle cx="68.8" cy="280.9" r="0.74" fill="#948650"/><circle cx="86.5" cy="296.7" r="0.56" fill="#7a7048"/><circle cx="47.8" cy="288.4" r="0.74" fill="#948650"/><circle cx="89.0" cy="288.1" r="0.65" fill="#7a7048"/><circle cx="70.0" cy="262.5" r="0.73" fill="#948650"/><circle cx="63.1" cy="284.8" r="0.78" fill="#948650"/><circle cx="57.7" cy="282.5" r="0.64" fill="#c9bb6a"/><circle cx="69.0" cy="289.2" r="0.60" fill="#c9bb6a"/><circle cx="63.1" cy="268.3" r="0.67" fill="#bfb064"/><circle cx="60.1" cy="313.2" r="0.58" fill="#bfb064"/><circle cx="58.5" cy="261.0" r="0.67" fill="#948650"/><circle cx="33.2" cy="289.0" r="0.78" fill="#bfb064"/><circle cx="36.1" cy="264.2" r="0.58" fill="#7a7048"/><circle cx="39.7" cy="284.4" r="0.70" fill="#bfb064"/><circle cx="94.1" cy="286.2" r="0.69" fill="#c9bb6a"/><circle cx="61.2" cy="283.4" r="0.59" fill="#7a7048"/><circle cx="63.8" cy="284.0" r="0.70" fill="#948650"/><circle cx="77.7" cy="309.3" r="0.60" fill="#bfb064"/><circle cx="75.9" cy="282.7" r="0.76" fill="#948650"/><circle cx="72.9" cy="309.9" r="0.64" fill="#7a7048"/><circle cx="42.4" cy="272.3" r="0.67" fill="#c9bb6a"/><circle cx="71.1" cy="297.5" r="0.71" fill="#7a7048"/><circle cx="72.5" cy="292.0" r="0.59" fill="#948650"/><circle cx="84.0" cy="285.8" r="0.72" fill="#948650"/><circle cx="82.7" cy="312.9" r="0.70" fill="#948650"/><circle cx="59.8" cy="307.1" r="0.62" fill="#948650"/><circle cx="77.2" cy="308.8" r="0.64" fill="#c9bb6a"/><circle cx="35.8" cy="310.1" r="0.71" fill="#bfb064"/><circle cx="80.2" cy="312.9" r="0.63" fill="#7a7048"/><circle cx="93.4" cy="275.0" r="0.72" fill="#7a7048"/><circle cx="74.2" cy="266.9" r="0.74" fill="#7a7048"/><circle cx="69.6" cy="310.5" r="0.73" fill="#948650"/><circle cx="44.8" cy="278.6" r="0.55" fill="#bfb064"/><circle cx="37.9" cy="269.9" r="0.71" fill="#7a7048"/><circle cx="45.8" cy="264.4" r="0.79" fill="#c9bb6a"/><circle cx="94.5" cy="308.7" r="0.59" fill="#948650"/><circle cx="61.5" cy="300.6" r="0.65" fill="#948650"/><circle cx="75.8" cy="288.3" r="0.74" fill="#948650"/><circle cx="59.0" cy="296.2" r="0.60" fill="#c9bb6a"/><circle cx="67.2" cy="273.9" r="0.75" fill="#c9bb6a"/><circle cx="55.4" cy="294.1" r="0.60" fill="#7a7048"/><circle cx="71.6" cy="270.7" r="0.74" fill="#948650"/><circle cx="70.5" cy="308.0" r="0.65" fill="#7a7048"/><circle cx="86.6" cy="295.5" r="0.60" fill="#7a7048"/><circle cx="37.3" cy="282.7" r="0.72" fill="#bfb064"/><circle cx="38.5" cy="262.1" r="0.60" fill="#bfb064"/><circle cx="48.7" cy="284.6" r="0.61" fill="#7a7048"/><circle cx="79.7" cy="294.2" r="0.64" fill="#7a7048"/><circle cx="50.4" cy="297.9" r="0.62" fill="#7a7048"/><circle cx="64.2" cy="287.4" r="0.62" fill="#948650"/><circle cx="49.2" cy="283.7" r="0.58" fill="#c9bb6a"/><circle cx="54.0" cy="299.7" r="0.57" fill="#c9bb6a"/><circle cx="62.7" cy="284.0" r="0.75" fill="#c9bb6a"/><circle cx="62.3" cy="285.9" r="0.79" fill="#bfb064"/><circle cx="75.4" cy="299.3" r="0.77" fill="#7a7048"/><circle cx="82.3" cy="281.7" r="0.58" fill="#c9bb6a"/><circle cx="81.8" cy="313.0" r="0.75" fill="#c9bb6a"/><circle cx="94.0" cy="299.4" r="0.66" fill="#c9bb6a"/><circle cx="37.0" cy="306.4" r="0.73" fill="#c9bb6a"/><circle cx="84.4" cy="259.9" r="0.71" fill="#c9bb6a"/><circle cx="53.2" cy="277.0" r="0.67" fill="#c9bb6a"/><circle cx="78.5" cy="293.2" r="0.79" fill="#c9bb6a"/><circle cx="50.4" cy="269.4" r="0.56" fill="#bfb064"/><circle cx="43.4" cy="264.3" r="0.75" fill="#bfb064"/><circle cx="81.6" cy="311.4" r="0.61" fill="#948650"/><circle cx="46.5" cy="300.7" r="0.76" fill="#7a7048"/><circle cx="91.5" cy="269.7" r="0.66" fill="#bfb064"/><circle cx="68.2" cy="283.6" r="0.60" fill="#948650"/><circle cx="93.0" cy="307.7" r="0.56" fill="#948650"/><circle cx="34.0" cy="270.3" r="0.59" fill="#c9bb6a"/></g>
<circle cx="39.0" cy="276.3" r="1.5" fill="#2f8a8a"/>
<circle cx="40.0" cy="276.2" r="1.4" fill="#2a7a80"/>
<circle cx="46.5" cy="288.4" r="1.4" fill="#2f8a8a"/>
<circle cx="46.9" cy="287.1" r="1.7" fill="#1f6670"/>
<circle cx="73.9" cy="275.2" r="1.7" fill="#2f8a8a"/>
<circle cx="78.5" cy="290.5" r="1.5" fill="#2a7a80"/>
<circle cx="77.5" cy="288.6" r="1.5" fill="#2f8a8a"/>
<circle cx="81.3" cy="273.6" r="1.4" fill="#2a7a80"/>
<circle cx="74.2" cy="266.9" r="1.6" fill="#2a7a80"/>
<circle cx="54.4" cy="283.3" r="1.3" fill="#2a7a80"/>
</g></g>
<clipPath id="mc11"><rect x="96.7" y="259" width="61.8" height="56"/></clipPath>
<g clip-path="url(#mc11)">
<rect x="96.70" y="259.00" width="61.80" height="56.00" fill="#7d797f"/>
<g filter="url(#blur03)">
<g fill="#bcb0c8" opacity="0.5"><circle cx="124.7" cy="290.3" r="2.27"/><circle cx="153.8" cy="285.1" r="2.54"/><circle cx="128.1" cy="291.9" r="2.29"/><circle cx="108.1" cy="287.7" r="2.32"/><circle cx="135.6" cy="303.4" r="2.32"/><circle cx="102.5" cy="276.0" r="2.37"/><circle cx="102.3" cy="304.3" r="2.35"/><circle cx="139.6" cy="261.3" r="2.44"/><circle cx="157.4" cy="313.0" r="2.25"/><circle cx="137.1" cy="293.5" r="2.53"/><circle cx="106.4" cy="259.8" r="2.47"/><circle cx="129.4" cy="262.3" r="2.49"/><circle cx="108.5" cy="272.5" r="2.38"/><circle cx="98.6" cy="285.0" r="2.31"/><circle cx="123.9" cy="306.2" r="2.31"/><circle cx="128.8" cy="294.9" r="2.40"/><circle cx="127.6" cy="296.1" r="2.38"/><circle cx="125.0" cy="274.6" r="2.39"/><circle cx="158.4" cy="314.8" r="2.39"/><circle cx="148.6" cy="298.6" r="2.37"/><circle cx="116.2" cy="271.9" r="2.53"/><circle cx="114.6" cy="262.9" r="2.29"/><circle cx="144.1" cy="281.4" r="2.32"/><circle cx="149.0" cy="280.6" r="2.38"/><circle cx="155.9" cy="306.4" r="2.42"/><circle cx="96.7" cy="270.7" r="2.45"/><circle cx="153.0" cy="285.3" r="2.27"/><circle cx="157.3" cy="281.3" r="2.31"/><circle cx="101.2" cy="294.2" r="2.24"/><circle cx="144.8" cy="274.1" r="2.50"/><circle cx="102.1" cy="277.6" r="2.45"/><circle cx="156.3" cy="301.5" r="2.33"/><circle cx="104.0" cy="272.8" r="2.39"/><circle cx="102.9" cy="262.4" r="2.39"/><circle cx="146.0" cy="268.9" r="2.28"/><circle cx="131.3" cy="284.1" r="2.52"/><circle cx="108.5" cy="300.0" r="2.51"/><circle cx="104.8" cy="295.0" r="2.51"/><circle cx="103.9" cy="282.6" r="2.25"/><circle cx="109.9" cy="274.1" r="2.23"/><circle cx="156.7" cy="304.0" r="2.39"/><circle cx="115.5" cy="308.6" r="2.34"/><circle cx="109.7" cy="281.1" r="2.23"/><circle cx="149.5" cy="294.9" r="2.52"/><circle cx="102.9" cy="314.4" r="2.45"/><circle cx="109.9" cy="273.5" r="2.38"/><circle cx="144.5" cy="277.4" r="2.48"/><circle cx="115.0" cy="263.1" r="2.21"/><circle cx="102.3" cy="291.6" r="2.25"/><circle cx="111.7" cy="292.7" r="2.26"/><circle cx="119.7" cy="284.4" r="2.52"/><circle cx="156.0" cy="286.1" r="2.25"/><circle cx="132.2" cy="307.5" r="2.47"/><circle cx="108.0" cy="267.6" r="2.35"/><circle cx="152.8" cy="304.8" r="2.41"/><circle cx="112.1" cy="269.6" r="2.50"/><circle cx="142.4" cy="311.7" r="2.33"/><circle cx="108.8" cy="312.2" r="2.41"/><circle cx="151.2" cy="292.8" r="2.31"/><circle cx="122.7" cy="264.8" r="2.40"/><circle cx="99.1" cy="312.9" r="2.48"/><circle cx="111.4" cy="298.5" r="2.46"/><circle cx="112.6" cy="305.1" r="2.25"/><circle cx="133.6" cy="275.4" r="2.47"/><circle cx="107.5" cy="299.3" r="2.27"/><circle cx="101.0" cy="271.8" r="2.31"/><circle cx="131.3" cy="306.7" r="2.55"/><circle cx="134.7" cy="274.7" r="2.28"/><circle cx="153.4" cy="270.4" r="2.32"/><circle cx="97.7" cy="274.1" r="2.39"/><circle cx="124.2" cy="262.4" r="2.42"/><circle cx="107.6" cy="279.7" r="2.54"/><circle cx="132.1" cy="266.4" r="2.46"/><circle cx="119.1" cy="308.9" r="2.38"/><circle cx="157.3" cy="295.8" r="2.20"/><circle cx="139.4" cy="291.7" r="2.52"/><circle cx="105.4" cy="261.0" r="2.54"/><circle cx="97.8" cy="310.0" r="2.42"/><circle cx="140.0" cy="312.9" r="2.39"/><circle cx="98.0" cy="294.6" r="2.34"/><circle cx="126.5" cy="299.9" r="2.37"/><circle cx="116.4" cy="315.0" r="2.39"/><circle cx="101.4" cy="289.6" r="2.53"/><circle cx="142.2" cy="309.4" r="2.41"/><circle cx="142.3" cy="298.4" r="2.37"/><circle cx="145.7" cy="310.2" r="2.43"/><circle cx="118.4" cy="297.4" r="2.20"/><circle cx="152.4" cy="307.8" r="2.42"/><circle cx="122.5" cy="303.3" r="2.22"/><circle cx="150.1" cy="291.1" r="2.22"/><circle cx="135.3" cy="280.4" r="2.23"/><circle cx="132.7" cy="293.1" r="2.45"/><circle cx="101.7" cy="294.8" r="2.22"/><circle cx="158.1" cy="308.3" r="2.25"/><circle cx="141.7" cy="280.8" r="2.41"/><circle cx="142.1" cy="291.5" r="2.36"/><circle cx="123.9" cy="305.9" r="2.32"/><circle cx="101.9" cy="301.0" r="2.36"/><circle cx="98.5" cy="292.7" r="2.41"/><circle cx="126.4" cy="271.9" r="2.33"/><circle cx="139.9" cy="286.8" r="2.53"/><circle cx="134.7" cy="310.5" r="2.37"/><circle cx="112.5" cy="259.6" r="2.47"/><circle cx="115.3" cy="297.0" r="2.30"/><circle cx="109.2" cy="268.5" r="2.42"/><circle cx="152.7" cy="296.0" r="2.53"/><circle cx="124.0" cy="308.9" r="2.51"/><circle cx="116.9" cy="296.3" r="2.20"/><circle cx="109.0" cy="283.1" r="2.42"/><circle cx="146.5" cy="310.2" r="2.23"/><circle cx="151.1" cy="280.5" r="2.39"/><circle cx="132.7" cy="276.7" r="2.37"/><circle cx="105.1" cy="286.8" r="2.32"/><circle cx="148.4" cy="306.5" r="2.48"/><circle cx="140.7" cy="312.2" r="2.36"/><circle cx="113.8" cy="268.5" r="2.48"/><circle cx="124.6" cy="274.4" r="2.30"/><circle cx="109.9" cy="282.2" r="2.35"/><circle cx="135.4" cy="286.7" r="2.36"/><circle cx="116.2" cy="306.0" r="2.35"/><circle cx="157.4" cy="284.3" r="2.30"/><circle cx="101.3" cy="260.8" r="2.31"/><circle cx="150.6" cy="261.3" r="2.44"/><circle cx="140.5" cy="291.0" r="2.30"/><circle cx="115.8" cy="303.3" r="2.43"/><circle cx="97.9" cy="266.6" r="2.31"/><circle cx="124.8" cy="260.4" r="2.35"/><circle cx="148.0" cy="272.3" r="2.36"/><circle cx="105.4" cy="261.6" r="2.23"/><circle cx="135.6" cy="284.0" r="2.33"/><circle cx="135.6" cy="295.7" r="2.48"/><circle cx="146.6" cy="312.7" r="2.48"/><circle cx="139.0" cy="270.2" r="2.26"/><circle cx="126.1" cy="269.0" r="2.48"/><circle cx="97.4" cy="285.4" r="2.39"/><circle cx="140.8" cy="269.0" r="2.43"/><circle cx="113.5" cy="278.4" r="2.40"/><circle cx="139.8" cy="288.1" r="2.32"/><circle cx="134.7" cy="301.3" r="2.51"/><circle cx="121.0" cy="303.3" r="2.23"/><circle cx="152.7" cy="263.9" r="2.29"/><circle cx="154.3" cy="299.5" r="2.47"/><circle cx="104.7" cy="284.4" r="2.48"/><circle cx="135.4" cy="310.0" r="2.37"/><circle cx="120.0" cy="290.9" r="2.45"/><circle cx="151.0" cy="303.6" r="2.46"/><circle cx="155.1" cy="285.0" r="2.50"/><circle cx="137.0" cy="270.5" r="2.51"/><circle cx="141.3" cy="304.8" r="2.38"/><circle cx="136.4" cy="299.2" r="2.35"/></g>
<g fill="#e6e4d0" opacity="0.95"><circle cx="124.7" cy="290.3" r="1.57"/><circle cx="153.8" cy="285.1" r="1.84"/><circle cx="128.1" cy="291.9" r="1.59"/><circle cx="108.1" cy="287.7" r="1.62"/><circle cx="135.6" cy="303.4" r="1.62"/><circle cx="102.5" cy="276.0" r="1.67"/><circle cx="102.3" cy="304.3" r="1.65"/><circle cx="139.6" cy="261.3" r="1.74"/><circle cx="157.4" cy="313.0" r="1.55"/><circle cx="137.1" cy="293.5" r="1.83"/><circle cx="106.4" cy="259.8" r="1.77"/><circle cx="129.4" cy="262.3" r="1.79"/><circle cx="108.5" cy="272.5" r="1.68"/><circle cx="98.6" cy="285.0" r="1.61"/><circle cx="123.9" cy="306.2" r="1.61"/><circle cx="128.8" cy="294.9" r="1.70"/><circle cx="127.6" cy="296.1" r="1.68"/><circle cx="125.0" cy="274.6" r="1.69"/><circle cx="158.4" cy="314.8" r="1.69"/><circle cx="148.6" cy="298.6" r="1.67"/><circle cx="116.2" cy="271.9" r="1.83"/><circle cx="114.6" cy="262.9" r="1.59"/><circle cx="144.1" cy="281.4" r="1.62"/><circle cx="149.0" cy="280.6" r="1.68"/><circle cx="155.9" cy="306.4" r="1.72"/><circle cx="96.7" cy="270.7" r="1.75"/><circle cx="153.0" cy="285.3" r="1.57"/><circle cx="157.3" cy="281.3" r="1.61"/><circle cx="101.2" cy="294.2" r="1.54"/><circle cx="144.8" cy="274.1" r="1.80"/><circle cx="102.1" cy="277.6" r="1.75"/><circle cx="156.3" cy="301.5" r="1.63"/><circle cx="104.0" cy="272.8" r="1.69"/><circle cx="102.9" cy="262.4" r="1.69"/><circle cx="146.0" cy="268.9" r="1.58"/><circle cx="131.3" cy="284.1" r="1.82"/><circle cx="108.5" cy="300.0" r="1.81"/><circle cx="104.8" cy="295.0" r="1.81"/><circle cx="103.9" cy="282.6" r="1.55"/><circle cx="109.9" cy="274.1" r="1.53"/><circle cx="156.7" cy="304.0" r="1.69"/><circle cx="115.5" cy="308.6" r="1.64"/><circle cx="109.7" cy="281.1" r="1.53"/><circle cx="149.5" cy="294.9" r="1.82"/><circle cx="102.9" cy="314.4" r="1.75"/><circle cx="109.9" cy="273.5" r="1.68"/><circle cx="144.5" cy="277.4" r="1.78"/><circle cx="115.0" cy="263.1" r="1.51"/><circle cx="102.3" cy="291.6" r="1.55"/><circle cx="111.7" cy="292.7" r="1.56"/><circle cx="119.7" cy="284.4" r="1.82"/><circle cx="156.0" cy="286.1" r="1.55"/><circle cx="132.2" cy="307.5" r="1.77"/><circle cx="108.0" cy="267.6" r="1.65"/><circle cx="152.8" cy="304.8" r="1.71"/><circle cx="112.1" cy="269.6" r="1.80"/><circle cx="142.4" cy="311.7" r="1.63"/><circle cx="108.8" cy="312.2" r="1.71"/><circle cx="151.2" cy="292.8" r="1.61"/><circle cx="122.7" cy="264.8" r="1.70"/><circle cx="99.1" cy="312.9" r="1.78"/><circle cx="111.4" cy="298.5" r="1.76"/><circle cx="112.6" cy="305.1" r="1.55"/><circle cx="133.6" cy="275.4" r="1.77"/><circle cx="107.5" cy="299.3" r="1.57"/><circle cx="101.0" cy="271.8" r="1.61"/><circle cx="131.3" cy="306.7" r="1.85"/><circle cx="134.7" cy="274.7" r="1.58"/><circle cx="153.4" cy="270.4" r="1.62"/><circle cx="97.7" cy="274.1" r="1.69"/><circle cx="124.2" cy="262.4" r="1.72"/><circle cx="107.6" cy="279.7" r="1.84"/><circle cx="132.1" cy="266.4" r="1.76"/><circle cx="119.1" cy="308.9" r="1.68"/><circle cx="157.3" cy="295.8" r="1.50"/><circle cx="139.4" cy="291.7" r="1.82"/><circle cx="105.4" cy="261.0" r="1.84"/><circle cx="97.8" cy="310.0" r="1.72"/><circle cx="140.0" cy="312.9" r="1.69"/><circle cx="98.0" cy="294.6" r="1.64"/><circle cx="126.5" cy="299.9" r="1.67"/><circle cx="116.4" cy="315.0" r="1.69"/><circle cx="101.4" cy="289.6" r="1.83"/><circle cx="142.2" cy="309.4" r="1.71"/><circle cx="142.3" cy="298.4" r="1.67"/><circle cx="145.7" cy="310.2" r="1.73"/><circle cx="118.4" cy="297.4" r="1.50"/><circle cx="152.4" cy="307.8" r="1.72"/><circle cx="122.5" cy="303.3" r="1.52"/><circle cx="150.1" cy="291.1" r="1.52"/><circle cx="135.3" cy="280.4" r="1.53"/><circle cx="132.7" cy="293.1" r="1.75"/><circle cx="101.7" cy="294.8" r="1.52"/><circle cx="158.1" cy="308.3" r="1.55"/><circle cx="141.7" cy="280.8" r="1.71"/><circle cx="142.1" cy="291.5" r="1.66"/><circle cx="123.9" cy="305.9" r="1.62"/><circle cx="101.9" cy="301.0" r="1.66"/><circle cx="98.5" cy="292.7" r="1.71"/><circle cx="126.4" cy="271.9" r="1.63"/><circle cx="139.9" cy="286.8" r="1.83"/><circle cx="134.7" cy="310.5" r="1.67"/><circle cx="112.5" cy="259.6" r="1.77"/><circle cx="115.3" cy="297.0" r="1.60"/><circle cx="109.2" cy="268.5" r="1.72"/><circle cx="152.7" cy="296.0" r="1.83"/><circle cx="124.0" cy="308.9" r="1.81"/><circle cx="116.9" cy="296.3" r="1.50"/><circle cx="109.0" cy="283.1" r="1.72"/><circle cx="146.5" cy="310.2" r="1.53"/><circle cx="151.1" cy="280.5" r="1.69"/><circle cx="132.7" cy="276.7" r="1.67"/><circle cx="105.1" cy="286.8" r="1.62"/><circle cx="148.4" cy="306.5" r="1.78"/><circle cx="140.7" cy="312.2" r="1.66"/><circle cx="113.8" cy="268.5" r="1.78"/><circle cx="124.6" cy="274.4" r="1.60"/><circle cx="109.9" cy="282.2" r="1.65"/><circle cx="135.4" cy="286.7" r="1.66"/><circle cx="116.2" cy="306.0" r="1.65"/><circle cx="157.4" cy="284.3" r="1.60"/><circle cx="101.3" cy="260.8" r="1.61"/><circle cx="150.6" cy="261.3" r="1.74"/><circle cx="140.5" cy="291.0" r="1.60"/><circle cx="115.8" cy="303.3" r="1.73"/><circle cx="97.9" cy="266.6" r="1.61"/><circle cx="124.8" cy="260.4" r="1.65"/><circle cx="148.0" cy="272.3" r="1.66"/><circle cx="105.4" cy="261.6" r="1.53"/><circle cx="135.6" cy="284.0" r="1.63"/><circle cx="135.6" cy="295.7" r="1.78"/><circle cx="146.6" cy="312.7" r="1.78"/><circle cx="139.0" cy="270.2" r="1.56"/><circle cx="126.1" cy="269.0" r="1.78"/><circle cx="97.4" cy="285.4" r="1.69"/><circle cx="140.8" cy="269.0" r="1.73"/><circle cx="113.5" cy="278.4" r="1.70"/><circle cx="139.8" cy="288.1" r="1.62"/><circle cx="134.7" cy="301.3" r="1.81"/><circle cx="121.0" cy="303.3" r="1.53"/><circle cx="152.7" cy="263.9" r="1.59"/><circle cx="154.3" cy="299.5" r="1.77"/><circle cx="104.7" cy="284.4" r="1.78"/><circle cx="135.4" cy="310.0" r="1.67"/><circle cx="120.0" cy="290.9" r="1.75"/><circle cx="151.0" cy="303.6" r="1.76"/><circle cx="155.1" cy="285.0" r="1.80"/><circle cx="137.0" cy="270.5" r="1.81"/><circle cx="141.3" cy="304.8" r="1.68"/><circle cx="136.4" cy="299.2" r="1.65"/></g>
<g><circle cx="124.7" cy="290.3" r="0.77" fill="#7a7048"/><circle cx="153.8" cy="285.1" r="0.68" fill="#bfb064"/><circle cx="128.1" cy="291.9" r="0.73" fill="#7a7048"/><circle cx="108.1" cy="287.7" r="0.57" fill="#c9bb6a"/><circle cx="135.6" cy="303.4" r="0.66" fill="#bfb064"/><circle cx="102.5" cy="276.0" r="0.56" fill="#7a7048"/><circle cx="102.3" cy="304.3" r="0.56" fill="#bfb064"/><circle cx="139.6" cy="261.3" r="0.78" fill="#c9bb6a"/><circle cx="157.4" cy="313.0" r="0.68" fill="#c9bb6a"/><circle cx="137.1" cy="293.5" r="0.67" fill="#7a7048"/><circle cx="106.4" cy="259.8" r="0.66" fill="#bfb064"/><circle cx="129.4" cy="262.3" r="0.69" fill="#948650"/><circle cx="108.5" cy="272.5" r="0.76" fill="#bfb064"/><circle cx="98.6" cy="285.0" r="0.65" fill="#948650"/><circle cx="123.9" cy="306.2" r="0.59" fill="#bfb064"/><circle cx="128.8" cy="294.9" r="0.60" fill="#7a7048"/><circle cx="127.6" cy="296.1" r="0.70" fill="#7a7048"/><circle cx="125.0" cy="274.6" r="0.56" fill="#c9bb6a"/><circle cx="158.4" cy="314.8" r="0.80" fill="#7a7048"/><circle cx="148.6" cy="298.6" r="0.72" fill="#7a7048"/><circle cx="116.2" cy="271.9" r="0.66" fill="#c9bb6a"/><circle cx="114.6" cy="262.9" r="0.67" fill="#948650"/><circle cx="144.1" cy="281.4" r="0.78" fill="#c9bb6a"/><circle cx="149.0" cy="280.6" r="0.58" fill="#c9bb6a"/><circle cx="155.9" cy="306.4" r="0.78" fill="#948650"/><circle cx="96.7" cy="270.7" r="0.79" fill="#7a7048"/><circle cx="153.0" cy="285.3" r="0.61" fill="#bfb064"/><circle cx="157.3" cy="281.3" r="0.64" fill="#c9bb6a"/><circle cx="101.2" cy="294.2" r="0.73" fill="#7a7048"/><circle cx="144.8" cy="274.1" r="0.71" fill="#948650"/><circle cx="102.1" cy="277.6" r="0.77" fill="#7a7048"/><circle cx="156.3" cy="301.5" r="0.65" fill="#948650"/><circle cx="104.0" cy="272.8" r="0.77" fill="#948650"/><circle cx="102.9" cy="262.4" r="0.76" fill="#948650"/><circle cx="146.0" cy="268.9" r="0.74" fill="#bfb064"/><circle cx="131.3" cy="284.1" r="0.63" fill="#bfb064"/><circle cx="108.5" cy="300.0" r="0.60" fill="#948650"/><circle cx="104.8" cy="295.0" r="0.58" fill="#948650"/><circle cx="103.9" cy="282.6" r="0.57" fill="#c9bb6a"/><circle cx="109.9" cy="274.1" r="0.76" fill="#c9bb6a"/><circle cx="156.7" cy="304.0" r="0.73" fill="#948650"/><circle cx="115.5" cy="308.6" r="0.72" fill="#7a7048"/><circle cx="109.7" cy="281.1" r="0.69" fill="#bfb064"/><circle cx="149.5" cy="294.9" r="0.79" fill="#7a7048"/><circle cx="102.9" cy="314.4" r="0.71" fill="#bfb064"/><circle cx="109.9" cy="273.5" r="0.72" fill="#948650"/><circle cx="144.5" cy="277.4" r="0.67" fill="#7a7048"/><circle cx="115.0" cy="263.1" r="0.69" fill="#c9bb6a"/><circle cx="102.3" cy="291.6" r="0.60" fill="#948650"/><circle cx="111.7" cy="292.7" r="0.59" fill="#bfb064"/><circle cx="119.7" cy="284.4" r="0.57" fill="#7a7048"/><circle cx="156.0" cy="286.1" r="0.72" fill="#7a7048"/><circle cx="132.2" cy="307.5" r="0.63" fill="#c9bb6a"/><circle cx="108.0" cy="267.6" r="0.64" fill="#948650"/><circle cx="152.8" cy="304.8" r="0.55" fill="#7a7048"/><circle cx="112.1" cy="269.6" r="0.60" fill="#c9bb6a"/><circle cx="142.4" cy="311.7" r="0.64" fill="#948650"/><circle cx="108.8" cy="312.2" r="0.57" fill="#7a7048"/><circle cx="151.2" cy="292.8" r="0.57" fill="#c9bb6a"/><circle cx="122.7" cy="264.8" r="0.60" fill="#bfb064"/><circle cx="99.1" cy="312.9" r="0.61" fill="#7a7048"/><circle cx="111.4" cy="298.5" r="0.74" fill="#c9bb6a"/><circle cx="112.6" cy="305.1" r="0.63" fill="#bfb064"/><circle cx="133.6" cy="275.4" r="0.74" fill="#c9bb6a"/><circle cx="107.5" cy="299.3" r="0.60" fill="#bfb064"/><circle cx="101.0" cy="271.8" r="0.58" fill="#bfb064"/><circle cx="131.3" cy="306.7" r="0.78" fill="#7a7048"/><circle cx="134.7" cy="274.7" r="0.79" fill="#bfb064"/><circle cx="153.4" cy="270.4" r="0.71" fill="#948650"/><circle cx="97.7" cy="274.1" r="0.65" fill="#c9bb6a"/><circle cx="124.2" cy="262.4" r="0.73" fill="#c9bb6a"/><circle cx="107.6" cy="279.7" r="0.56" fill="#7a7048"/><circle cx="132.1" cy="266.4" r="0.61" fill="#c9bb6a"/><circle cx="119.1" cy="308.9" r="0.74" fill="#c9bb6a"/><circle cx="157.3" cy="295.8" r="0.61" fill="#bfb064"/><circle cx="139.4" cy="291.7" r="0.69" fill="#c9bb6a"/><circle cx="105.4" cy="261.0" r="0.69" fill="#7a7048"/><circle cx="97.8" cy="310.0" r="0.75" fill="#7a7048"/><circle cx="140.0" cy="312.9" r="0.72" fill="#7a7048"/><circle cx="98.0" cy="294.6" r="0.78" fill="#c9bb6a"/><circle cx="126.5" cy="299.9" r="0.59" fill="#c9bb6a"/><circle cx="116.4" cy="315.0" r="0.70" fill="#c9bb6a"/><circle cx="101.4" cy="289.6" r="0.66" fill="#c9bb6a"/><circle cx="142.2" cy="309.4" r="0.64" fill="#bfb064"/><circle cx="142.3" cy="298.4" r="0.62" fill="#bfb064"/><circle cx="145.7" cy="310.2" r="0.74" fill="#7a7048"/><circle cx="118.4" cy="297.4" r="0.61" fill="#7a7048"/><circle cx="152.4" cy="307.8" r="0.65" fill="#c9bb6a"/><circle cx="122.5" cy="303.3" r="0.63" fill="#c9bb6a"/><circle cx="150.1" cy="291.1" r="0.80" fill="#bfb064"/><circle cx="135.3" cy="280.4" r="0.78" fill="#c9bb6a"/><circle cx="132.7" cy="293.1" r="0.61" fill="#948650"/><circle cx="101.7" cy="294.8" r="0.57" fill="#c9bb6a"/><circle cx="158.1" cy="308.3" r="0.79" fill="#948650"/><circle cx="141.7" cy="280.8" r="0.58" fill="#c9bb6a"/><circle cx="142.1" cy="291.5" r="0.60" fill="#7a7048"/><circle cx="123.9" cy="305.9" r="0.59" fill="#bfb064"/><circle cx="101.9" cy="301.0" r="0.72" fill="#c9bb6a"/><circle cx="98.5" cy="292.7" r="0.71" fill="#c9bb6a"/><circle cx="126.4" cy="271.9" r="0.74" fill="#948650"/><circle cx="139.9" cy="286.8" r="0.73" fill="#948650"/><circle cx="134.7" cy="310.5" r="0.68" fill="#bfb064"/><circle cx="112.5" cy="259.6" r="0.71" fill="#bfb064"/><circle cx="115.3" cy="297.0" r="0.70" fill="#948650"/><circle cx="109.2" cy="268.5" r="0.74" fill="#948650"/><circle cx="152.7" cy="296.0" r="0.68" fill="#948650"/><circle cx="124.0" cy="308.9" r="0.56" fill="#7a7048"/><circle cx="116.9" cy="296.3" r="0.61" fill="#7a7048"/><circle cx="109.0" cy="283.1" r="0.58" fill="#bfb064"/><circle cx="146.5" cy="310.2" r="0.57" fill="#948650"/><circle cx="151.1" cy="280.5" r="0.71" fill="#bfb064"/><circle cx="132.7" cy="276.7" r="0.64" fill="#bfb064"/><circle cx="105.1" cy="286.8" r="0.74" fill="#7a7048"/><circle cx="148.4" cy="306.5" r="0.66" fill="#948650"/><circle cx="140.7" cy="312.2" r="0.74" fill="#c9bb6a"/><circle cx="113.8" cy="268.5" r="0.64" fill="#bfb064"/><circle cx="124.6" cy="274.4" r="0.74" fill="#948650"/><circle cx="109.9" cy="282.2" r="0.64" fill="#7a7048"/><circle cx="135.4" cy="286.7" r="0.63" fill="#7a7048"/><circle cx="116.2" cy="306.0" r="0.69" fill="#c9bb6a"/><circle cx="157.4" cy="284.3" r="0.74" fill="#7a7048"/><circle cx="101.3" cy="260.8" r="0.78" fill="#7a7048"/><circle cx="150.6" cy="261.3" r="0.67" fill="#bfb064"/><circle cx="140.5" cy="291.0" r="0.59" fill="#bfb064"/><circle cx="115.8" cy="303.3" r="0.63" fill="#7a7048"/><circle cx="97.9" cy="266.6" r="0.66" fill="#bfb064"/><circle cx="124.8" cy="260.4" r="0.75" fill="#bfb064"/><circle cx="148.0" cy="272.3" r="0.61" fill="#948650"/><circle cx="105.4" cy="261.6" r="0.76" fill="#7a7048"/><circle cx="135.6" cy="284.0" r="0.65" fill="#c9bb6a"/><circle cx="135.6" cy="295.7" r="0.73" fill="#bfb064"/><circle cx="146.6" cy="312.7" r="0.69" fill="#948650"/><circle cx="139.0" cy="270.2" r="0.74" fill="#bfb064"/><circle cx="126.1" cy="269.0" r="0.61" fill="#7a7048"/><circle cx="97.4" cy="285.4" r="0.69" fill="#7a7048"/><circle cx="140.8" cy="269.0" r="0.75" fill="#7a7048"/><circle cx="113.5" cy="278.4" r="0.63" fill="#7a7048"/><circle cx="139.8" cy="288.1" r="0.62" fill="#7a7048"/><circle cx="134.7" cy="301.3" r="0.57" fill="#948650"/><circle cx="121.0" cy="303.3" r="0.75" fill="#c9bb6a"/><circle cx="152.7" cy="263.9" r="0.61" fill="#bfb064"/><circle cx="154.3" cy="299.5" r="0.65" fill="#bfb064"/><circle cx="104.7" cy="284.4" r="0.63" fill="#948650"/><circle cx="135.4" cy="310.0" r="0.68" fill="#7a7048"/><circle cx="120.0" cy="290.9" r="0.78" fill="#c9bb6a"/><circle cx="151.0" cy="303.6" r="0.80" fill="#bfb064"/><circle cx="155.1" cy="285.0" r="0.75" fill="#7a7048"/><circle cx="137.0" cy="270.5" r="0.79" fill="#7a7048"/><circle cx="141.3" cy="304.8" r="0.73" fill="#7a7048"/><circle cx="136.4" cy="299.2" r="0.66" fill="#948650"/></g>
<circle cx="100.7" cy="274.4" r="1.6" fill="#2f8a8a"/>
<circle cx="101.1" cy="274.4" r="1.5" fill="#1f6670"/>
<circle cx="100.3" cy="276.3" r="1.5" fill="#2f8a8a"/>
<circle cx="102.1" cy="274.8" r="1.7" fill="#2a7a80"/>
<circle cx="100.9" cy="285.6" r="1.3" fill="#1f6670"/>
<circle cx="99.3" cy="286.5" r="1.4" fill="#2a7a80"/>
<circle cx="97.9" cy="288.0" r="1.6" fill="#1f6670"/>
<circle cx="123.8" cy="296.1" r="1.4" fill="#1f6670"/>
<circle cx="122.3" cy="298.2" r="1.8" fill="#2f8a8a"/>
<circle cx="122.3" cy="295.9" r="1.5" fill="#1f6670"/>
<circle cx="123.3" cy="296.7" r="1.8" fill="#2f8a8a"/>
<circle cx="121.5" cy="295.6" r="1.5" fill="#2a7a80"/>
<circle cx="123.9" cy="297.1" r="1.4" fill="#1f6670"/>
<circle cx="139.2" cy="287.3" r="1.7" fill="#2a7a80"/>
<circle cx="136.4" cy="286.8" r="1.3" fill="#1f6670"/>
<circle cx="138.1" cy="286.8" r="1.4" fill="#1f6670"/>
<circle cx="144.4" cy="278.8" r="1.4" fill="#1f6670"/>
<circle cx="146.7" cy="281.5" r="1.7" fill="#2a7a80"/>
<circle cx="148.1" cy="287.7" r="1.4" fill="#2f8a8a"/>
<circle cx="152.4" cy="291.4" r="1.4" fill="#2a7a80"/>
<circle cx="151.9" cy="288.5" r="1.7" fill="#2a7a80"/>
<circle cx="149.7" cy="306.2" r="1.6" fill="#1f6670"/>
<circle cx="150.6" cy="304.3" r="1.7" fill="#2f8a8a"/>
<circle cx="140.0" cy="264.6" r="1.7" fill="#1f6670"/>
<circle cx="147.5" cy="269.5" r="1.7" fill="#1f6670"/>
<circle cx="108.0" cy="267.6" r="1.2" fill="#2a7a80"/>
<circle cx="152.7" cy="296.0" r="1.5" fill="#2a7a80"/>
<circle cx="156.7" cy="304.0" r="1.7" fill="#2a7a80"/>
</g></g>
<clipPath id="mc12"><rect x="33" y="317.3" width="61.5" height="56.19999999999999"/></clipPath>
<g clip-path="url(#mc12)">
<rect x="33.00" y="317.30" width="61.50" height="56.20" fill="#7d797f"/>
<g filter="url(#blur03)">
<g fill="#bcb0c8" opacity="0.5"><circle cx="62.2" cy="354.2" r="2.28"/><circle cx="74.0" cy="325.3" r="2.37"/><circle cx="33.7" cy="338.4" r="2.30"/><circle cx="49.9" cy="362.8" r="2.34"/><circle cx="75.5" cy="351.1" r="2.25"/><circle cx="67.3" cy="354.5" r="2.49"/><circle cx="41.9" cy="342.0" r="2.34"/><circle cx="43.0" cy="368.2" r="2.32"/><circle cx="36.6" cy="363.3" r="2.33"/><circle cx="37.6" cy="355.9" r="2.26"/><circle cx="53.7" cy="340.0" r="2.24"/><circle cx="84.8" cy="318.3" r="2.50"/><circle cx="36.7" cy="368.7" r="2.54"/><circle cx="64.3" cy="322.4" r="2.50"/><circle cx="93.7" cy="370.5" r="2.46"/><circle cx="39.9" cy="341.1" r="2.21"/><circle cx="41.3" cy="334.9" r="2.26"/><circle cx="71.2" cy="326.5" r="2.52"/><circle cx="75.9" cy="320.2" r="2.39"/><circle cx="43.5" cy="363.1" r="2.33"/><circle cx="57.6" cy="340.8" r="2.36"/><circle cx="69.7" cy="344.1" r="2.48"/><circle cx="56.7" cy="319.0" r="2.36"/><circle cx="77.7" cy="371.7" r="2.50"/><circle cx="93.0" cy="354.6" r="2.45"/><circle cx="54.9" cy="337.7" r="2.37"/><circle cx="75.4" cy="355.2" r="2.53"/><circle cx="40.0" cy="330.5" r="2.39"/><circle cx="55.3" cy="346.0" r="2.46"/><circle cx="82.8" cy="345.4" r="2.32"/><circle cx="34.7" cy="363.5" r="2.23"/><circle cx="59.5" cy="346.5" r="2.53"/><circle cx="46.7" cy="341.3" r="2.41"/><circle cx="56.9" cy="360.7" r="2.42"/><circle cx="39.3" cy="348.2" r="2.35"/><circle cx="44.0" cy="356.4" r="2.48"/><circle cx="35.3" cy="332.8" r="2.53"/><circle cx="54.2" cy="353.1" r="2.25"/><circle cx="36.2" cy="343.1" r="2.41"/><circle cx="45.8" cy="333.1" r="2.27"/><circle cx="62.3" cy="371.2" r="2.46"/><circle cx="62.6" cy="371.0" r="2.32"/><circle cx="43.3" cy="369.2" r="2.32"/><circle cx="55.4" cy="327.9" r="2.22"/><circle cx="79.0" cy="368.6" r="2.41"/><circle cx="33.4" cy="332.4" r="2.46"/><circle cx="80.4" cy="336.5" r="2.55"/><circle cx="47.9" cy="317.8" r="2.26"/><circle cx="35.5" cy="352.1" r="2.33"/><circle cx="93.5" cy="373.4" r="2.52"/><circle cx="64.0" cy="318.6" r="2.22"/><circle cx="52.8" cy="361.6" r="2.53"/><circle cx="84.2" cy="353.2" r="2.50"/><circle cx="47.1" cy="346.9" r="2.32"/><circle cx="62.4" cy="352.5" r="2.21"/><circle cx="49.2" cy="370.5" r="2.49"/><circle cx="88.0" cy="326.4" r="2.26"/><circle cx="50.9" cy="366.4" r="2.44"/><circle cx="50.1" cy="370.3" r="2.28"/><circle cx="64.7" cy="356.4" r="2.27"/><circle cx="76.3" cy="329.3" r="2.42"/><circle cx="50.5" cy="331.6" r="2.46"/><circle cx="75.0" cy="356.3" r="2.53"/><circle cx="41.1" cy="367.1" r="2.34"/><circle cx="58.8" cy="330.9" r="2.28"/><circle cx="59.8" cy="372.3" r="2.38"/><circle cx="67.4" cy="352.4" r="2.32"/><circle cx="89.6" cy="371.4" r="2.23"/><circle cx="79.8" cy="340.8" r="2.34"/><circle cx="69.2" cy="367.9" r="2.25"/><circle cx="81.5" cy="349.9" r="2.40"/><circle cx="54.4" cy="338.0" r="2.34"/><circle cx="78.3" cy="349.0" r="2.36"/><circle cx="34.1" cy="357.2" r="2.26"/><circle cx="88.6" cy="362.1" r="2.38"/><circle cx="88.2" cy="368.5" r="2.53"/><circle cx="65.9" cy="361.6" r="2.33"/><circle cx="56.3" cy="322.8" r="2.53"/><circle cx="54.7" cy="334.8" r="2.47"/><circle cx="90.4" cy="356.0" r="2.47"/><circle cx="66.3" cy="352.3" r="2.29"/><circle cx="40.7" cy="347.3" r="2.24"/><circle cx="76.1" cy="339.5" r="2.54"/><circle cx="48.1" cy="340.2" r="2.35"/><circle cx="52.9" cy="355.8" r="2.33"/><circle cx="41.7" cy="322.4" r="2.23"/><circle cx="52.2" cy="356.4" r="2.40"/><circle cx="79.7" cy="354.4" r="2.39"/><circle cx="90.5" cy="337.8" r="2.35"/><circle cx="34.8" cy="344.7" r="2.48"/><circle cx="60.3" cy="327.4" r="2.55"/><circle cx="74.0" cy="336.5" r="2.30"/><circle cx="47.7" cy="335.7" r="2.38"/><circle cx="91.0" cy="317.7" r="2.50"/><circle cx="55.2" cy="333.0" r="2.44"/><circle cx="45.4" cy="341.6" r="2.49"/><circle cx="46.6" cy="368.9" r="2.22"/><circle cx="63.8" cy="356.5" r="2.26"/><circle cx="43.0" cy="343.4" r="2.54"/><circle cx="70.3" cy="364.7" r="2.21"/><circle cx="48.4" cy="343.1" r="2.40"/><circle cx="85.6" cy="364.0" r="2.49"/><circle cx="47.0" cy="347.5" r="2.35"/><circle cx="79.8" cy="339.5" r="2.26"/><circle cx="74.4" cy="354.6" r="2.33"/><circle cx="92.8" cy="348.4" r="2.33"/><circle cx="74.9" cy="337.0" r="2.40"/><circle cx="78.0" cy="335.4" r="2.30"/><circle cx="63.7" cy="337.6" r="2.25"/><circle cx="51.9" cy="324.9" r="2.28"/></g>
<g fill="#e6e4d0" opacity="0.95"><circle cx="62.2" cy="354.2" r="1.58"/><circle cx="74.0" cy="325.3" r="1.67"/><circle cx="33.7" cy="338.4" r="1.60"/><circle cx="49.9" cy="362.8" r="1.64"/><circle cx="75.5" cy="351.1" r="1.55"/><circle cx="67.3" cy="354.5" r="1.79"/><circle cx="41.9" cy="342.0" r="1.64"/><circle cx="43.0" cy="368.2" r="1.62"/><circle cx="36.6" cy="363.3" r="1.63"/><circle cx="37.6" cy="355.9" r="1.56"/><circle cx="53.7" cy="340.0" r="1.54"/><circle cx="84.8" cy="318.3" r="1.80"/><circle cx="36.7" cy="368.7" r="1.84"/><circle cx="64.3" cy="322.4" r="1.80"/><circle cx="93.7" cy="370.5" r="1.76"/><circle cx="39.9" cy="341.1" r="1.51"/><circle cx="41.3" cy="334.9" r="1.56"/><circle cx="71.2" cy="326.5" r="1.82"/><circle cx="75.9" cy="320.2" r="1.69"/><circle cx="43.5" cy="363.1" r="1.63"/><circle cx="57.6" cy="340.8" r="1.66"/><circle cx="69.7" cy="344.1" r="1.78"/><circle cx="56.7" cy="319.0" r="1.66"/><circle cx="77.7" cy="371.7" r="1.80"/><circle cx="93.0" cy="354.6" r="1.75"/><circle cx="54.9" cy="337.7" r="1.67"/><circle cx="75.4" cy="355.2" r="1.83"/><circle cx="40.0" cy="330.5" r="1.69"/><circle cx="55.3" cy="346.0" r="1.76"/><circle cx="82.8" cy="345.4" r="1.62"/><circle cx="34.7" cy="363.5" r="1.53"/><circle cx="59.5" cy="346.5" r="1.83"/><circle cx="46.7" cy="341.3" r="1.71"/><circle cx="56.9" cy="360.7" r="1.72"/><circle cx="39.3" cy="348.2" r="1.65"/><circle cx="44.0" cy="356.4" r="1.78"/><circle cx="35.3" cy="332.8" r="1.83"/><circle cx="54.2" cy="353.1" r="1.55"/><circle cx="36.2" cy="343.1" r="1.71"/><circle cx="45.8" cy="333.1" r="1.57"/><circle cx="62.3" cy="371.2" r="1.76"/><circle cx="62.6" cy="371.0" r="1.62"/><circle cx="43.3" cy="369.2" r="1.62"/><circle cx="55.4" cy="327.9" r="1.52"/><circle cx="79.0" cy="368.6" r="1.71"/><circle cx="33.4" cy="332.4" r="1.76"/><circle cx="80.4" cy="336.5" r="1.85"/><circle cx="47.9" cy="317.8" r="1.56"/><circle cx="35.5" cy="352.1" r="1.63"/><circle cx="93.5" cy="373.4" r="1.82"/><circle cx="64.0" cy="318.6" r="1.52"/><circle cx="52.8" cy="361.6" r="1.83"/><circle cx="84.2" cy="353.2" r="1.80"/><circle cx="47.1" cy="346.9" r="1.62"/><circle cx="62.4" cy="352.5" r="1.51"/><circle cx="49.2" cy="370.5" r="1.79"/><circle cx="88.0" cy="326.4" r="1.56"/><circle cx="50.9" cy="366.4" r="1.74"/><circle cx="50.1" cy="370.3" r="1.58"/><circle cx="64.7" cy="356.4" r="1.57"/><circle cx="76.3" cy="329.3" r="1.72"/><circle cx="50.5" cy="331.6" r="1.76"/><circle cx="75.0" cy="356.3" r="1.83"/><circle cx="41.1" cy="367.1" r="1.64"/><circle cx="58.8" cy="330.9" r="1.58"/><circle cx="59.8" cy="372.3" r="1.68"/><circle cx="67.4" cy="352.4" r="1.62"/><circle cx="89.6" cy="371.4" r="1.53"/><circle cx="79.8" cy="340.8" r="1.64"/><circle cx="69.2" cy="367.9" r="1.55"/><circle cx="81.5" cy="349.9" r="1.70"/><circle cx="54.4" cy="338.0" r="1.64"/><circle cx="78.3" cy="349.0" r="1.66"/><circle cx="34.1" cy="357.2" r="1.56"/><circle cx="88.6" cy="362.1" r="1.68"/><circle cx="88.2" cy="368.5" r="1.83"/><circle cx="65.9" cy="361.6" r="1.63"/><circle cx="56.3" cy="322.8" r="1.83"/><circle cx="54.7" cy="334.8" r="1.77"/><circle cx="90.4" cy="356.0" r="1.77"/><circle cx="66.3" cy="352.3" r="1.59"/><circle cx="40.7" cy="347.3" r="1.54"/><circle cx="76.1" cy="339.5" r="1.84"/><circle cx="48.1" cy="340.2" r="1.65"/><circle cx="52.9" cy="355.8" r="1.63"/><circle cx="41.7" cy="322.4" r="1.53"/><circle cx="52.2" cy="356.4" r="1.70"/><circle cx="79.7" cy="354.4" r="1.69"/><circle cx="90.5" cy="337.8" r="1.65"/><circle cx="34.8" cy="344.7" r="1.78"/><circle cx="60.3" cy="327.4" r="1.85"/><circle cx="74.0" cy="336.5" r="1.60"/><circle cx="47.7" cy="335.7" r="1.68"/><circle cx="91.0" cy="317.7" r="1.80"/><circle cx="55.2" cy="333.0" r="1.74"/><circle cx="45.4" cy="341.6" r="1.79"/><circle cx="46.6" cy="368.9" r="1.52"/><circle cx="63.8" cy="356.5" r="1.56"/><circle cx="43.0" cy="343.4" r="1.84"/><circle cx="70.3" cy="364.7" r="1.51"/><circle cx="48.4" cy="343.1" r="1.70"/><circle cx="85.6" cy="364.0" r="1.79"/><circle cx="47.0" cy="347.5" r="1.65"/><circle cx="79.8" cy="339.5" r="1.56"/><circle cx="74.4" cy="354.6" r="1.63"/><circle cx="92.8" cy="348.4" r="1.63"/><circle cx="74.9" cy="337.0" r="1.70"/><circle cx="78.0" cy="335.4" r="1.60"/><circle cx="63.7" cy="337.6" r="1.55"/><circle cx="51.9" cy="324.9" r="1.58"/></g>
<g><circle cx="62.2" cy="354.2" r="0.69" fill="#bfb064"/><circle cx="74.0" cy="325.3" r="0.66" fill="#bfb064"/><circle cx="33.7" cy="338.4" r="0.78" fill="#bfb064"/><circle cx="49.9" cy="362.8" r="0.77" fill="#bfb064"/><circle cx="75.5" cy="351.1" r="0.61" fill="#7a7048"/><circle cx="67.3" cy="354.5" r="0.70" fill="#c9bb6a"/><circle cx="41.9" cy="342.0" r="0.70" fill="#bfb064"/><circle cx="43.0" cy="368.2" r="0.74" fill="#c9bb6a"/><circle cx="36.6" cy="363.3" r="0.65" fill="#948650"/><circle cx="37.6" cy="355.9" r="0.60" fill="#bfb064"/><circle cx="53.7" cy="340.0" r="0.62" fill="#7a7048"/><circle cx="84.8" cy="318.3" r="0.71" fill="#bfb064"/><circle cx="36.7" cy="368.7" r="0.78" fill="#948650"/><circle cx="64.3" cy="322.4" r="0.63" fill="#948650"/><circle cx="93.7" cy="370.5" r="0.76" fill="#bfb064"/><circle cx="39.9" cy="341.1" r="0.75" fill="#948650"/><circle cx="41.3" cy="334.9" r="0.73" fill="#bfb064"/><circle cx="71.2" cy="326.5" r="0.80" fill="#bfb064"/><circle cx="75.9" cy="320.2" r="0.56" fill="#7a7048"/><circle cx="43.5" cy="363.1" r="0.67" fill="#948650"/><circle cx="57.6" cy="340.8" r="0.68" fill="#948650"/><circle cx="69.7" cy="344.1" r="0.68" fill="#bfb064"/><circle cx="56.7" cy="319.0" r="0.71" fill="#c9bb6a"/><circle cx="77.7" cy="371.7" r="0.77" fill="#7a7048"/><circle cx="93.0" cy="354.6" r="0.62" fill="#948650"/><circle cx="54.9" cy="337.7" r="0.76" fill="#7a7048"/><circle cx="75.4" cy="355.2" r="0.72" fill="#c9bb6a"/><circle cx="40.0" cy="330.5" r="0.79" fill="#bfb064"/><circle cx="55.3" cy="346.0" r="0.76" fill="#948650"/><circle cx="82.8" cy="345.4" r="0.61" fill="#c9bb6a"/><circle cx="34.7" cy="363.5" r="0.56" fill="#7a7048"/><circle cx="59.5" cy="346.5" r="0.56" fill="#7a7048"/><circle cx="46.7" cy="341.3" r="0.70" fill="#c9bb6a"/><circle cx="56.9" cy="360.7" r="0.67" fill="#bfb064"/><circle cx="39.3" cy="348.2" r="0.69" fill="#bfb064"/><circle cx="44.0" cy="356.4" r="0.65" fill="#bfb064"/><circle cx="35.3" cy="332.8" r="0.80" fill="#bfb064"/><circle cx="54.2" cy="353.1" r="0.58" fill="#c9bb6a"/><circle cx="36.2" cy="343.1" r="0.72" fill="#7a7048"/><circle cx="45.8" cy="333.1" r="0.58" fill="#c9bb6a"/><circle cx="62.3" cy="371.2" r="0.76" fill="#bfb064"/><circle cx="62.6" cy="371.0" r="0.65" fill="#c9bb6a"/><circle cx="43.3" cy="369.2" r="0.77" fill="#bfb064"/><circle cx="55.4" cy="327.9" r="0.64" fill="#bfb064"/><circle cx="79.0" cy="368.6" r="0.58" fill="#c9bb6a"/><circle cx="33.4" cy="332.4" r="0.61" fill="#c9bb6a"/><circle cx="80.4" cy="336.5" r="0.58" fill="#c9bb6a"/><circle cx="47.9" cy="317.8" r="0.69" fill="#bfb064"/><circle cx="35.5" cy="352.1" r="0.63" fill="#bfb064"/><circle cx="93.5" cy="373.4" r="0.78" fill="#c9bb6a"/><circle cx="64.0" cy="318.6" r="0.71" fill="#948650"/><circle cx="52.8" cy="361.6" r="0.71" fill="#bfb064"/><circle cx="84.2" cy="353.2" r="0.59" fill="#bfb064"/><circle cx="47.1" cy="346.9" r="0.71" fill="#c9bb6a"/><circle cx="62.4" cy="352.5" r="0.63" fill="#7a7048"/><circle cx="49.2" cy="370.5" r="0.68" fill="#bfb064"/><circle cx="88.0" cy="326.4" r="0.67" fill="#7a7048"/><circle cx="50.9" cy="366.4" r="0.59" fill="#c9bb6a"/><circle cx="50.1" cy="370.3" r="0.57" fill="#948650"/><circle cx="64.7" cy="356.4" r="0.62" fill="#7a7048"/><circle cx="76.3" cy="329.3" r="0.70" fill="#c9bb6a"/><circle cx="50.5" cy="331.6" r="0.63" fill="#948650"/><circle cx="75.0" cy="356.3" r="0.65" fill="#c9bb6a"/><circle cx="41.1" cy="367.1" r="0.62" fill="#948650"/><circle cx="58.8" cy="330.9" r="0.68" fill="#c9bb6a"/><circle cx="59.8" cy="372.3" r="0.72" fill="#bfb064"/><circle cx="67.4" cy="352.4" r="0.63" fill="#7a7048"/><circle cx="89.6" cy="371.4" r="0.72" fill="#bfb064"/><circle cx="79.8" cy="340.8" r="0.79" fill="#c9bb6a"/><circle cx="69.2" cy="367.9" r="0.76" fill="#c9bb6a"/><circle cx="81.5" cy="349.9" r="0.59" fill="#c9bb6a"/><circle cx="54.4" cy="338.0" r="0.56" fill="#7a7048"/><circle cx="78.3" cy="349.0" r="0.68" fill="#948650"/><circle cx="34.1" cy="357.2" r="0.58" fill="#c9bb6a"/><circle cx="88.6" cy="362.1" r="0.63" fill="#7a7048"/><circle cx="88.2" cy="368.5" r="0.59" fill="#948650"/><circle cx="65.9" cy="361.6" r="0.68" fill="#bfb064"/><circle cx="56.3" cy="322.8" r="0.68" fill="#bfb064"/><circle cx="54.7" cy="334.8" r="0.58" fill="#948650"/><circle cx="90.4" cy="356.0" r="0.69" fill="#948650"/><circle cx="66.3" cy="352.3" r="0.68" fill="#c9bb6a"/><circle cx="40.7" cy="347.3" r="0.70" fill="#948650"/><circle cx="76.1" cy="339.5" r="0.69" fill="#7a7048"/><circle cx="48.1" cy="340.2" r="0.56" fill="#c9bb6a"/><circle cx="52.9" cy="355.8" r="0.76" fill="#7a7048"/><circle cx="41.7" cy="322.4" r="0.78" fill="#c9bb6a"/><circle cx="52.2" cy="356.4" r="0.76" fill="#c9bb6a"/><circle cx="79.7" cy="354.4" r="0.76" fill="#bfb064"/><circle cx="90.5" cy="337.8" r="0.59" fill="#bfb064"/><circle cx="34.8" cy="344.7" r="0.68" fill="#bfb064"/><circle cx="60.3" cy="327.4" r="0.60" fill="#c9bb6a"/><circle cx="74.0" cy="336.5" r="0.68" fill="#c9bb6a"/><circle cx="47.7" cy="335.7" r="0.74" fill="#7a7048"/><circle cx="91.0" cy="317.7" r="0.71" fill="#bfb064"/><circle cx="55.2" cy="333.0" r="0.64" fill="#7a7048"/><circle cx="45.4" cy="341.6" r="0.58" fill="#948650"/><circle cx="46.6" cy="368.9" r="0.59" fill="#948650"/><circle cx="63.8" cy="356.5" r="0.76" fill="#bfb064"/><circle cx="43.0" cy="343.4" r="0.61" fill="#c9bb6a"/><circle cx="70.3" cy="364.7" r="0.59" fill="#c9bb6a"/><circle cx="48.4" cy="343.1" r="0.73" fill="#948650"/><circle cx="85.6" cy="364.0" r="0.74" fill="#bfb064"/><circle cx="47.0" cy="347.5" r="0.74" fill="#948650"/><circle cx="79.8" cy="339.5" r="0.56" fill="#bfb064"/><circle cx="74.4" cy="354.6" r="0.57" fill="#c9bb6a"/><circle cx="92.8" cy="348.4" r="0.64" fill="#7a7048"/><circle cx="74.9" cy="337.0" r="0.68" fill="#7a7048"/><circle cx="78.0" cy="335.4" r="0.77" fill="#bfb064"/><circle cx="63.7" cy="337.6" r="0.76" fill="#bfb064"/><circle cx="51.9" cy="324.9" r="0.69" fill="#948650"/></g>
<circle cx="76.3" cy="325.3" r="1.8" fill="#2f8a8a"/>
<circle cx="53.3" cy="333.5" r="1.7" fill="#2f8a8a"/>
<circle cx="85.6" cy="357.4" r="1.3" fill="#2a7a80"/>
<circle cx="87.2" cy="355.9" r="1.3" fill="#1f6670"/>
<circle cx="91.1" cy="360.6" r="1.4" fill="#2a7a80"/>
<circle cx="84.5" cy="367.2" r="1.6" fill="#1f6670"/>
<circle cx="88.6" cy="371.3" r="1.6" fill="#2f8a8a"/>
<circle cx="64.7" cy="356.4" r="1.5" fill="#2a7a80"/>
<circle cx="93.5" cy="373.4" r="1.6" fill="#2a7a80"/>
</g></g>
<clipPath id="mc13"><rect x="96.7" y="317.3" width="61.8" height="56.19999999999999"/></clipPath>
<g clip-path="url(#mc13)">
<rect x="96.70" y="317.30" width="61.80" height="56.20" fill="#7d797f"/>
<g filter="url(#blur03)">
<g fill="#bcb0c8" opacity="0.5"><circle cx="112.7" cy="355.8" r="2.53"/><circle cx="139.0" cy="365.0" r="2.32"/><circle cx="108.2" cy="330.3" r="2.44"/><circle cx="105.8" cy="330.0" r="2.47"/><circle cx="142.1" cy="324.6" r="2.48"/><circle cx="129.5" cy="329.3" r="2.34"/><circle cx="114.9" cy="341.6" r="2.23"/><circle cx="148.5" cy="351.5" r="2.39"/><circle cx="97.6" cy="332.8" r="2.35"/><circle cx="105.8" cy="366.3" r="2.27"/><circle cx="146.7" cy="362.6" r="2.46"/><circle cx="147.8" cy="359.2" r="2.39"/><circle cx="155.4" cy="361.9" r="2.26"/><circle cx="112.6" cy="365.1" r="2.22"/><circle cx="126.8" cy="359.7" r="2.43"/><circle cx="131.6" cy="341.4" r="2.48"/><circle cx="119.2" cy="341.5" r="2.24"/><circle cx="116.1" cy="323.9" r="2.38"/><circle cx="147.4" cy="362.2" r="2.23"/><circle cx="157.6" cy="356.1" r="2.35"/><circle cx="131.0" cy="359.4" r="2.48"/><circle cx="105.0" cy="355.3" r="2.52"/><circle cx="124.1" cy="327.2" r="2.23"/><circle cx="109.2" cy="346.7" r="2.22"/><circle cx="112.4" cy="343.1" r="2.25"/><circle cx="134.1" cy="339.5" r="2.24"/><circle cx="104.8" cy="344.9" r="2.22"/><circle cx="111.3" cy="330.5" r="2.25"/><circle cx="108.7" cy="337.9" r="2.32"/><circle cx="101.2" cy="353.9" r="2.45"/><circle cx="155.6" cy="339.2" r="2.47"/><circle cx="141.1" cy="369.7" r="2.36"/><circle cx="99.4" cy="325.3" r="2.45"/><circle cx="146.5" cy="364.4" r="2.29"/><circle cx="136.2" cy="326.3" r="2.21"/><circle cx="122.3" cy="366.1" r="2.46"/><circle cx="151.5" cy="362.4" r="2.40"/><circle cx="109.2" cy="365.3" r="2.48"/><circle cx="119.9" cy="357.6" r="2.37"/><circle cx="105.2" cy="371.9" r="2.42"/><circle cx="134.0" cy="357.9" r="2.34"/><circle cx="109.8" cy="352.0" r="2.34"/><circle cx="132.6" cy="350.5" r="2.34"/><circle cx="118.9" cy="358.2" r="2.47"/><circle cx="117.8" cy="333.9" r="2.46"/><circle cx="106.9" cy="355.7" r="2.39"/><circle cx="103.6" cy="330.0" r="2.54"/><circle cx="101.0" cy="353.5" r="2.51"/><circle cx="131.1" cy="347.8" r="2.27"/><circle cx="99.1" cy="342.0" r="2.50"/><circle cx="117.9" cy="322.5" r="2.35"/><circle cx="96.9" cy="373.4" r="2.34"/><circle cx="104.2" cy="334.2" r="2.40"/><circle cx="113.3" cy="350.9" r="2.21"/><circle cx="101.5" cy="343.7" r="2.34"/><circle cx="119.4" cy="364.2" r="2.50"/><circle cx="97.1" cy="336.1" r="2.54"/><circle cx="127.4" cy="371.8" r="2.23"/><circle cx="128.6" cy="344.0" r="2.22"/><circle cx="138.1" cy="334.0" r="2.28"/><circle cx="98.7" cy="345.5" r="2.45"/><circle cx="153.0" cy="358.8" r="2.36"/><circle cx="112.7" cy="355.7" r="2.27"/><circle cx="149.2" cy="331.8" r="2.38"/><circle cx="133.0" cy="337.3" r="2.48"/><circle cx="111.8" cy="333.4" r="2.26"/><circle cx="109.3" cy="337.0" r="2.44"/><circle cx="99.1" cy="339.6" r="2.20"/><circle cx="102.1" cy="359.9" r="2.36"/><circle cx="133.8" cy="317.5" r="2.34"/><circle cx="144.5" cy="328.0" r="2.40"/><circle cx="126.4" cy="348.5" r="2.33"/><circle cx="117.3" cy="333.6" r="2.44"/><circle cx="123.6" cy="325.0" r="2.36"/><circle cx="150.1" cy="323.6" r="2.51"/><circle cx="147.6" cy="329.6" r="2.38"/><circle cx="115.4" cy="339.1" r="2.34"/><circle cx="98.8" cy="324.5" r="2.30"/><circle cx="119.0" cy="342.1" r="2.24"/><circle cx="150.9" cy="372.9" r="2.45"/><circle cx="99.4" cy="347.4" r="2.29"/><circle cx="104.7" cy="362.5" r="2.54"/><circle cx="116.6" cy="367.5" r="2.43"/><circle cx="130.4" cy="324.4" r="2.35"/><circle cx="97.0" cy="331.2" r="2.21"/><circle cx="150.3" cy="325.7" r="2.25"/><circle cx="126.3" cy="338.2" r="2.21"/><circle cx="118.0" cy="362.4" r="2.24"/><circle cx="109.9" cy="357.7" r="2.46"/><circle cx="137.9" cy="369.9" r="2.40"/><circle cx="128.8" cy="369.0" r="2.54"/><circle cx="123.9" cy="349.5" r="2.23"/><circle cx="135.1" cy="364.5" r="2.50"/><circle cx="152.2" cy="323.8" r="2.53"/><circle cx="105.2" cy="347.3" r="2.23"/><circle cx="146.9" cy="347.3" r="2.30"/><circle cx="115.2" cy="371.4" r="2.49"/><circle cx="115.1" cy="322.2" r="2.40"/><circle cx="99.9" cy="319.0" r="2.23"/><circle cx="141.6" cy="323.3" r="2.37"/><circle cx="141.0" cy="366.0" r="2.38"/><circle cx="158.5" cy="362.8" r="2.27"/><circle cx="122.9" cy="352.3" r="2.20"/><circle cx="148.2" cy="357.5" r="2.43"/><circle cx="114.6" cy="360.1" r="2.48"/><circle cx="103.5" cy="334.6" r="2.20"/><circle cx="158.3" cy="343.8" r="2.22"/><circle cx="113.2" cy="361.4" r="2.47"/><circle cx="124.5" cy="317.5" r="2.30"/><circle cx="98.5" cy="331.9" r="2.27"/><circle cx="117.2" cy="370.0" r="2.22"/><circle cx="112.0" cy="365.1" r="2.48"/><circle cx="149.4" cy="340.7" r="2.49"/><circle cx="158.1" cy="360.1" r="2.21"/><circle cx="126.6" cy="332.0" r="2.54"/><circle cx="125.2" cy="368.0" r="2.25"/><circle cx="129.9" cy="328.2" r="2.35"/><circle cx="119.9" cy="344.1" r="2.22"/><circle cx="108.5" cy="349.5" r="2.50"/><circle cx="98.8" cy="363.5" r="2.24"/><circle cx="107.7" cy="323.1" r="2.28"/><circle cx="133.1" cy="334.6" r="2.34"/><circle cx="151.4" cy="345.2" r="2.24"/><circle cx="128.9" cy="364.2" r="2.36"/><circle cx="109.9" cy="359.2" r="2.23"/><circle cx="136.8" cy="341.4" r="2.29"/><circle cx="156.0" cy="318.5" r="2.37"/><circle cx="150.0" cy="325.4" r="2.52"/><circle cx="148.6" cy="325.9" r="2.42"/><circle cx="100.0" cy="345.4" r="2.46"/><circle cx="153.9" cy="331.8" r="2.24"/><circle cx="126.8" cy="351.5" r="2.48"/><circle cx="111.8" cy="347.1" r="2.41"/><circle cx="97.3" cy="342.6" r="2.34"/><circle cx="143.7" cy="336.4" r="2.34"/><circle cx="110.3" cy="320.2" r="2.36"/><circle cx="140.0" cy="341.3" r="2.49"/><circle cx="153.2" cy="358.9" r="2.49"/><circle cx="102.9" cy="368.7" r="2.44"/><circle cx="154.3" cy="363.2" r="2.49"/><circle cx="148.1" cy="355.6" r="2.47"/><circle cx="141.2" cy="354.8" r="2.52"/><circle cx="133.2" cy="331.8" r="2.21"/><circle cx="105.0" cy="358.1" r="2.36"/><circle cx="133.6" cy="320.5" r="2.23"/><circle cx="136.4" cy="351.6" r="2.54"/><circle cx="128.3" cy="360.9" r="2.21"/><circle cx="150.9" cy="338.7" r="2.55"/><circle cx="147.0" cy="345.4" r="2.54"/><circle cx="132.0" cy="340.6" r="2.38"/></g>
<g fill="#e6e4d0" opacity="0.95"><circle cx="112.7" cy="355.8" r="1.83"/><circle cx="139.0" cy="365.0" r="1.62"/><circle cx="108.2" cy="330.3" r="1.74"/><circle cx="105.8" cy="330.0" r="1.77"/><circle cx="142.1" cy="324.6" r="1.78"/><circle cx="129.5" cy="329.3" r="1.64"/><circle cx="114.9" cy="341.6" r="1.53"/><circle cx="148.5" cy="351.5" r="1.69"/><circle cx="97.6" cy="332.8" r="1.65"/><circle cx="105.8" cy="366.3" r="1.57"/><circle cx="146.7" cy="362.6" r="1.76"/><circle cx="147.8" cy="359.2" r="1.69"/><circle cx="155.4" cy="361.9" r="1.56"/><circle cx="112.6" cy="365.1" r="1.52"/><circle cx="126.8" cy="359.7" r="1.73"/><circle cx="131.6" cy="341.4" r="1.78"/><circle cx="119.2" cy="341.5" r="1.54"/><circle cx="116.1" cy="323.9" r="1.68"/><circle cx="147.4" cy="362.2" r="1.53"/><circle cx="157.6" cy="356.1" r="1.65"/><circle cx="131.0" cy="359.4" r="1.78"/><circle cx="105.0" cy="355.3" r="1.82"/><circle cx="124.1" cy="327.2" r="1.53"/><circle cx="109.2" cy="346.7" r="1.52"/><circle cx="112.4" cy="343.1" r="1.55"/><circle cx="134.1" cy="339.5" r="1.54"/><circle cx="104.8" cy="344.9" r="1.52"/><circle cx="111.3" cy="330.5" r="1.55"/><circle cx="108.7" cy="337.9" r="1.62"/><circle cx="101.2" cy="353.9" r="1.75"/><circle cx="155.6" cy="339.2" r="1.77"/><circle cx="141.1" cy="369.7" r="1.66"/><circle cx="99.4" cy="325.3" r="1.75"/><circle cx="146.5" cy="364.4" r="1.59"/><circle cx="136.2" cy="326.3" r="1.51"/><circle cx="122.3" cy="366.1" r="1.76"/><circle cx="151.5" cy="362.4" r="1.70"/><circle cx="109.2" cy="365.3" r="1.78"/><circle cx="119.9" cy="357.6" r="1.67"/><circle cx="105.2" cy="371.9" r="1.72"/><circle cx="134.0" cy="357.9" r="1.64"/><circle cx="109.8" cy="352.0" r="1.64"/><circle cx="132.6" cy="350.5" r="1.64"/><circle cx="118.9" cy="358.2" r="1.77"/><circle cx="117.8" cy="333.9" r="1.76"/><circle cx="106.9" cy="355.7" r="1.69"/><circle cx="103.6" cy="330.0" r="1.84"/><circle cx="101.0" cy="353.5" r="1.81"/><circle cx="131.1" cy="347.8" r="1.57"/><circle cx="99.1" cy="342.0" r="1.80"/><circle cx="117.9" cy="322.5" r="1.65"/><circle cx="96.9" cy="373.4" r="1.64"/><circle cx="104.2" cy="334.2" r="1.70"/><circle cx="113.3" cy="350.9" r="1.51"/><circle cx="101.5" cy="343.7" r="1.64"/><circle cx="119.4" cy="364.2" r="1.80"/><circle cx="97.1" cy="336.1" r="1.84"/><circle cx="127.4" cy="371.8" r="1.53"/><circle cx="128.6" cy="344.0" r="1.52"/><circle cx="138.1" cy="334.0" r="1.58"/><circle cx="98.7" cy="345.5" r="1.75"/><circle cx="153.0" cy="358.8" r="1.66"/><circle cx="112.7" cy="355.7" r="1.57"/><circle cx="149.2" cy="331.8" r="1.68"/><circle cx="133.0" cy="337.3" r="1.78"/><circle cx="111.8" cy="333.4" r="1.56"/><circle cx="109.3" cy="337.0" r="1.74"/><circle cx="99.1" cy="339.6" r="1.50"/><circle cx="102.1" cy="359.9" r="1.66"/><circle cx="133.8" cy="317.5" r="1.64"/><circle cx="144.5" cy="328.0" r="1.70"/><circle cx="126.4" cy="348.5" r="1.63"/><circle cx="117.3" cy="333.6" r="1.74"/><circle cx="123.6" cy="325.0" r="1.66"/><circle cx="150.1" cy="323.6" r="1.81"/><circle cx="147.6" cy="329.6" r="1.68"/><circle cx="115.4" cy="339.1" r="1.64"/><circle cx="98.8" cy="324.5" r="1.60"/><circle cx="119.0" cy="342.1" r="1.54"/><circle cx="150.9" cy="372.9" r="1.75"/><circle cx="99.4" cy="347.4" r="1.59"/><circle cx="104.7" cy="362.5" r="1.84"/><circle cx="116.6" cy="367.5" r="1.73"/><circle cx="130.4" cy="324.4" r="1.65"/><circle cx="97.0" cy="331.2" r="1.51"/><circle cx="150.3" cy="325.7" r="1.55"/><circle cx="126.3" cy="338.2" r="1.51"/><circle cx="118.0" cy="362.4" r="1.54"/><circle cx="109.9" cy="357.7" r="1.76"/><circle cx="137.9" cy="369.9" r="1.70"/><circle cx="128.8" cy="369.0" r="1.84"/><circle cx="123.9" cy="349.5" r="1.53"/><circle cx="135.1" cy="364.5" r="1.80"/><circle cx="152.2" cy="323.8" r="1.83"/><circle cx="105.2" cy="347.3" r="1.53"/><circle cx="146.9" cy="347.3" r="1.60"/><circle cx="115.2" cy="371.4" r="1.79"/><circle cx="115.1" cy="322.2" r="1.70"/><circle cx="99.9" cy="319.0" r="1.53"/><circle cx="141.6" cy="323.3" r="1.67"/><circle cx="141.0" cy="366.0" r="1.68"/><circle cx="158.5" cy="362.8" r="1.57"/><circle cx="122.9" cy="352.3" r="1.50"/><circle cx="148.2" cy="357.5" r="1.73"/><circle cx="114.6" cy="360.1" r="1.78"/><circle cx="103.5" cy="334.6" r="1.50"/><circle cx="158.3" cy="343.8" r="1.52"/><circle cx="113.2" cy="361.4" r="1.77"/><circle cx="124.5" cy="317.5" r="1.60"/><circle cx="98.5" cy="331.9" r="1.57"/><circle cx="117.2" cy="370.0" r="1.52"/><circle cx="112.0" cy="365.1" r="1.78"/><circle cx="149.4" cy="340.7" r="1.79"/><circle cx="158.1" cy="360.1" r="1.51"/><circle cx="126.6" cy="332.0" r="1.84"/><circle cx="125.2" cy="368.0" r="1.55"/><circle cx="129.9" cy="328.2" r="1.65"/><circle cx="119.9" cy="344.1" r="1.52"/><circle cx="108.5" cy="349.5" r="1.80"/><circle cx="98.8" cy="363.5" r="1.54"/><circle cx="107.7" cy="323.1" r="1.58"/><circle cx="133.1" cy="334.6" r="1.64"/><circle cx="151.4" cy="345.2" r="1.54"/><circle cx="128.9" cy="364.2" r="1.66"/><circle cx="109.9" cy="359.2" r="1.53"/><circle cx="136.8" cy="341.4" r="1.59"/><circle cx="156.0" cy="318.5" r="1.67"/><circle cx="150.0" cy="325.4" r="1.82"/><circle cx="148.6" cy="325.9" r="1.72"/><circle cx="100.0" cy="345.4" r="1.76"/><circle cx="153.9" cy="331.8" r="1.54"/><circle cx="126.8" cy="351.5" r="1.78"/><circle cx="111.8" cy="347.1" r="1.71"/><circle cx="97.3" cy="342.6" r="1.64"/><circle cx="143.7" cy="336.4" r="1.64"/><circle cx="110.3" cy="320.2" r="1.66"/><circle cx="140.0" cy="341.3" r="1.79"/><circle cx="153.2" cy="358.9" r="1.79"/><circle cx="102.9" cy="368.7" r="1.74"/><circle cx="154.3" cy="363.2" r="1.79"/><circle cx="148.1" cy="355.6" r="1.77"/><circle cx="141.2" cy="354.8" r="1.82"/><circle cx="133.2" cy="331.8" r="1.51"/><circle cx="105.0" cy="358.1" r="1.66"/><circle cx="133.6" cy="320.5" r="1.53"/><circle cx="136.4" cy="351.6" r="1.84"/><circle cx="128.3" cy="360.9" r="1.51"/><circle cx="150.9" cy="338.7" r="1.85"/><circle cx="147.0" cy="345.4" r="1.84"/><circle cx="132.0" cy="340.6" r="1.68"/></g>
<g><circle cx="112.7" cy="355.8" r="0.66" fill="#bfb064"/><circle cx="139.0" cy="365.0" r="0.72" fill="#948650"/><circle cx="108.2" cy="330.3" r="0.64" fill="#7a7048"/><circle cx="105.8" cy="330.0" r="0.78" fill="#bfb064"/><circle cx="142.1" cy="324.6" r="0.75" fill="#c9bb6a"/><circle cx="129.5" cy="329.3" r="0.67" fill="#7a7048"/><circle cx="114.9" cy="341.6" r="0.60" fill="#948650"/><circle cx="148.5" cy="351.5" r="0.80" fill="#948650"/><circle cx="97.6" cy="332.8" r="0.69" fill="#7a7048"/><circle cx="105.8" cy="366.3" r="0.79" fill="#7a7048"/><circle cx="146.7" cy="362.6" r="0.71" fill="#7a7048"/><circle cx="147.8" cy="359.2" r="0.71" fill="#bfb064"/><circle cx="155.4" cy="361.9" r="0.55" fill="#948650"/><circle cx="112.6" cy="365.1" r="0.61" fill="#948650"/><circle cx="126.8" cy="359.7" r="0.73" fill="#7a7048"/><circle cx="131.6" cy="341.4" r="0.76" fill="#948650"/><circle cx="119.2" cy="341.5" r="0.64" fill="#7a7048"/><circle cx="116.1" cy="323.9" r="0.68" fill="#948650"/><circle cx="147.4" cy="362.2" r="0.74" fill="#bfb064"/><circle cx="157.6" cy="356.1" r="0.61" fill="#bfb064"/><circle cx="131.0" cy="359.4" r="0.73" fill="#c9bb6a"/><circle cx="105.0" cy="355.3" r="0.62" fill="#948650"/><circle cx="124.1" cy="327.2" r="0.71" fill="#948650"/><circle cx="109.2" cy="346.7" r="0.58" fill="#bfb064"/><circle cx="112.4" cy="343.1" r="0.80" fill="#bfb064"/><circle cx="134.1" cy="339.5" r="0.67" fill="#7a7048"/><circle cx="104.8" cy="344.9" r="0.77" fill="#c9bb6a"/><circle cx="111.3" cy="330.5" r="0.67" fill="#c9bb6a"/><circle cx="108.7" cy="337.9" r="0.64" fill="#7a7048"/><circle cx="101.2" cy="353.9" r="0.67" fill="#7a7048"/><circle cx="155.6" cy="339.2" r="0.76" fill="#bfb064"/><circle cx="141.1" cy="369.7" r="0.66" fill="#948650"/><circle cx="99.4" cy="325.3" r="0.71" fill="#948650"/><circle cx="146.5" cy="364.4" r="0.59" fill="#c9bb6a"/><circle cx="136.2" cy="326.3" r="0.64" fill="#bfb064"/><circle cx="122.3" cy="366.1" r="0.58" fill="#948650"/><circle cx="151.5" cy="362.4" r="0.71" fill="#7a7048"/><circle cx="109.2" cy="365.3" r="0.70" fill="#7a7048"/><circle cx="119.9" cy="357.6" r="0.69" fill="#948650"/><circle cx="105.2" cy="371.9" r="0.64" fill="#7a7048"/><circle cx="134.0" cy="357.9" r="0.65" fill="#c9bb6a"/><circle cx="109.8" cy="352.0" r="0.57" fill="#948650"/><circle cx="132.6" cy="350.5" r="0.76" fill="#7a7048"/><circle cx="118.9" cy="358.2" r="0.66" fill="#c9bb6a"/><circle cx="117.8" cy="333.9" r="0.77" fill="#7a7048"/><circle cx="106.9" cy="355.7" r="0.60" fill="#948650"/><circle cx="103.6" cy="330.0" r="0.56" fill="#bfb064"/><circle cx="101.0" cy="353.5" r="0.56" fill="#bfb064"/><circle cx="131.1" cy="347.8" r="0.78" fill="#c9bb6a"/><circle cx="99.1" cy="342.0" r="0.59" fill="#948650"/><circle cx="117.9" cy="322.5" r="0.69" fill="#7a7048"/><circle cx="96.9" cy="373.4" r="0.61" fill="#948650"/><circle cx="104.2" cy="334.2" r="0.66" fill="#7a7048"/><circle cx="113.3" cy="350.9" r="0.55" fill="#c9bb6a"/><circle cx="101.5" cy="343.7" r="0.77" fill="#948650"/><circle cx="119.4" cy="364.2" r="0.66" fill="#c9bb6a"/><circle cx="97.1" cy="336.1" r="0.70" fill="#c9bb6a"/><circle cx="127.4" cy="371.8" r="0.68" fill="#7a7048"/><circle cx="128.6" cy="344.0" r="0.75" fill="#948650"/><circle cx="138.1" cy="334.0" r="0.58" fill="#c9bb6a"/><circle cx="98.7" cy="345.5" r="0.69" fill="#948650"/><circle cx="153.0" cy="358.8" r="0.56" fill="#7a7048"/><circle cx="112.7" cy="355.7" r="0.73" fill="#c9bb6a"/><circle cx="149.2" cy="331.8" r="0.59" fill="#948650"/><circle cx="133.0" cy="337.3" r="0.73" fill="#7a7048"/><circle cx="111.8" cy="333.4" r="0.57" fill="#948650"/><circle cx="109.3" cy="337.0" r="0.79" fill="#c9bb6a"/><circle cx="99.1" cy="339.6" r="0.73" fill="#7a7048"/><circle cx="102.1" cy="359.9" r="0.58" fill="#7a7048"/><circle cx="133.8" cy="317.5" r="0.72" fill="#948650"/><circle cx="144.5" cy="328.0" r="0.56" fill="#7a7048"/><circle cx="126.4" cy="348.5" r="0.60" fill="#c9bb6a"/><circle cx="117.3" cy="333.6" r="0.80" fill="#948650"/><circle cx="123.6" cy="325.0" r="0.70" fill="#948650"/><circle cx="150.1" cy="323.6" r="0.76" fill="#7a7048"/><circle cx="147.6" cy="329.6" r="0.66" fill="#948650"/><circle cx="115.4" cy="339.1" r="0.65" fill="#bfb064"/><circle cx="98.8" cy="324.5" r="0.74" fill="#7a7048"/><circle cx="119.0" cy="342.1" r="0.66" fill="#948650"/><circle cx="150.9" cy="372.9" r="0.75" fill="#948650"/><circle cx="99.4" cy="347.4" r="0.73" fill="#c9bb6a"/><circle cx="104.7" cy="362.5" r="0.69" fill="#7a7048"/><circle cx="116.6" cy="367.5" r="0.78" fill="#948650"/><circle cx="130.4" cy="324.4" r="0.61" fill="#c9bb6a"/><circle cx="97.0" cy="331.2" r="0.65" fill="#7a7048"/><circle cx="150.3" cy="325.7" r="0.77" fill="#c9bb6a"/><circle cx="126.3" cy="338.2" r="0.76" fill="#7a7048"/><circle cx="118.0" cy="362.4" r="0.64" fill="#948650"/><circle cx="109.9" cy="357.7" r="0.67" fill="#c9bb6a"/><circle cx="137.9" cy="369.9" r="0.55" fill="#7a7048"/><circle cx="128.8" cy="369.0" r="0.63" fill="#bfb064"/><circle cx="123.9" cy="349.5" r="0.65" fill="#c9bb6a"/><circle cx="135.1" cy="364.5" r="0.77" fill="#948650"/><circle cx="152.2" cy="323.8" r="0.59" fill="#948650"/><circle cx="105.2" cy="347.3" r="0.70" fill="#c9bb6a"/><circle cx="146.9" cy="347.3" r="0.75" fill="#c9bb6a"/><circle cx="115.2" cy="371.4" r="0.67" fill="#7a7048"/><circle cx="115.1" cy="322.2" r="0.65" fill="#7a7048"/><circle cx="99.9" cy="319.0" r="0.66" fill="#948650"/><circle cx="141.6" cy="323.3" r="0.72" fill="#c9bb6a"/><circle cx="141.0" cy="366.0" r="0.67" fill="#bfb064"/><circle cx="158.5" cy="362.8" r="0.58" fill="#bfb064"/><circle cx="122.9" cy="352.3" r="0.79" fill="#7a7048"/><circle cx="148.2" cy="357.5" r="0.68" fill="#7a7048"/><circle cx="114.6" cy="360.1" r="0.74" fill="#c9bb6a"/><circle cx="103.5" cy="334.6" r="0.66" fill="#c9bb6a"/><circle cx="158.3" cy="343.8" r="0.59" fill="#bfb064"/><circle cx="113.2" cy="361.4" r="0.72" fill="#948650"/><circle cx="124.5" cy="317.5" r="0.73" fill="#c9bb6a"/><circle cx="98.5" cy="331.9" r="0.57" fill="#948650"/><circle cx="117.2" cy="370.0" r="0.60" fill="#bfb064"/><circle cx="112.0" cy="365.1" r="0.70" fill="#c9bb6a"/><circle cx="149.4" cy="340.7" r="0.71" fill="#7a7048"/><circle cx="158.1" cy="360.1" r="0.78" fill="#bfb064"/><circle cx="126.6" cy="332.0" r="0.57" fill="#948650"/><circle cx="125.2" cy="368.0" r="0.65" fill="#c9bb6a"/><circle cx="129.9" cy="328.2" r="0.62" fill="#bfb064"/><circle cx="119.9" cy="344.1" r="0.66" fill="#948650"/><circle cx="108.5" cy="349.5" r="0.58" fill="#948650"/><circle cx="98.8" cy="363.5" r="0.60" fill="#bfb064"/><circle cx="107.7" cy="323.1" r="0.72" fill="#bfb064"/><circle cx="133.1" cy="334.6" r="0.60" fill="#bfb064"/><circle cx="151.4" cy="345.2" r="0.72" fill="#c9bb6a"/><circle cx="128.9" cy="364.2" r="0.66" fill="#c9bb6a"/><circle cx="109.9" cy="359.2" r="0.69" fill="#948650"/><circle cx="136.8" cy="341.4" r="0.75" fill="#c9bb6a"/><circle cx="156.0" cy="318.5" r="0.57" fill="#948650"/><circle cx="150.0" cy="325.4" r="0.57" fill="#7a7048"/><circle cx="148.6" cy="325.9" r="0.64" fill="#c9bb6a"/><circle cx="100.0" cy="345.4" r="0.65" fill="#948650"/><circle cx="153.9" cy="331.8" r="0.60" fill="#c9bb6a"/><circle cx="126.8" cy="351.5" r="0.77" fill="#7a7048"/><circle cx="111.8" cy="347.1" r="0.60" fill="#c9bb6a"/><circle cx="97.3" cy="342.6" r="0.72" fill="#948650"/><circle cx="143.7" cy="336.4" r="0.57" fill="#bfb064"/><circle cx="110.3" cy="320.2" r="0.66" fill="#bfb064"/><circle cx="140.0" cy="341.3" r="0.76" fill="#c9bb6a"/><circle cx="153.2" cy="358.9" r="0.79" fill="#bfb064"/><circle cx="102.9" cy="368.7" r="0.73" fill="#bfb064"/><circle cx="154.3" cy="363.2" r="0.56" fill="#7a7048"/><circle cx="148.1" cy="355.6" r="0.79" fill="#bfb064"/><circle cx="141.2" cy="354.8" r="0.77" fill="#bfb064"/><circle cx="133.2" cy="331.8" r="0.57" fill="#c9bb6a"/><circle cx="105.0" cy="358.1" r="0.64" fill="#c9bb6a"/><circle cx="133.6" cy="320.5" r="0.79" fill="#948650"/><circle cx="136.4" cy="351.6" r="0.75" fill="#7a7048"/><circle cx="128.3" cy="360.9" r="0.65" fill="#948650"/><circle cx="150.9" cy="338.7" r="0.66" fill="#948650"/><circle cx="147.0" cy="345.4" r="0.63" fill="#c9bb6a"/><circle cx="132.0" cy="340.6" r="0.58" fill="#c9bb6a"/></g>
<circle cx="100.2" cy="326.6" r="1.8" fill="#2a7a80"/>
<circle cx="101.3" cy="326.0" r="1.4" fill="#2a7a80"/>
<circle cx="98.2" cy="327.2" r="1.5" fill="#1f6670"/>
<circle cx="99.8" cy="325.6" r="1.5" fill="#2a7a80"/>
<circle cx="97.9" cy="325.4" r="1.6" fill="#1f6670"/>
<circle cx="98.0" cy="340.9" r="1.5" fill="#1f6670"/>
<circle cx="99.8" cy="342.6" r="1.3" fill="#2a7a80"/>
<circle cx="117.4" cy="324.8" r="1.6" fill="#1f6670"/>
<circle cx="115.3" cy="328.5" r="1.4" fill="#2f8a8a"/>
<circle cx="117.8" cy="336.5" r="1.5" fill="#2f8a8a"/>
<circle cx="119.3" cy="335.7" r="1.3" fill="#2f8a8a"/>
<circle cx="128.2" cy="349.0" r="1.8" fill="#2a7a80"/>
<circle cx="129.1" cy="346.3" r="1.3" fill="#2f8a8a"/>
<circle cx="129.6" cy="349.0" r="1.4" fill="#2f8a8a"/>
<circle cx="128.9" cy="347.0" r="1.5" fill="#2a7a80"/>
<circle cx="130.1" cy="346.7" r="1.8" fill="#2a7a80"/>
<circle cx="111.9" cy="346.7" r="1.4" fill="#2f8a8a"/>
<circle cx="113.7" cy="344.9" r="1.8" fill="#1f6670"/>
<circle cx="150.2" cy="370.5" r="1.7" fill="#2a7a80"/>
<circle cx="146.9" cy="369.9" r="1.7" fill="#2f8a8a"/>
<circle cx="147.5" cy="351.6" r="1.3" fill="#1f6670"/>
<circle cx="154.3" cy="363.2" r="1.5" fill="#2a7a80"/>
<circle cx="146.7" cy="362.6" r="1.3" fill="#2a7a80"/>
<circle cx="109.8" cy="352.0" r="1.3" fill="#2a7a80"/>
</g></g>
<clipPath id="mc14"><rect x="33" y="376" width="61.5" height="57.30000000000001"/></clipPath>
<g clip-path="url(#mc14)">
<rect x="33.00" y="376.00" width="61.50" height="57.30" fill="#7d797f"/>
<g filter="url(#blur03)">
<g fill="#bcb0c8" opacity="0.5"><circle cx="39.6" cy="416.3" r="2.28"/><circle cx="73.1" cy="429.9" r="2.29"/><circle cx="49.7" cy="390.7" r="2.21"/><circle cx="78.1" cy="413.7" r="2.47"/><circle cx="51.6" cy="415.2" r="2.51"/><circle cx="57.4" cy="420.6" r="2.45"/><circle cx="40.3" cy="388.8" r="2.36"/><circle cx="88.4" cy="396.5" r="2.41"/><circle cx="49.0" cy="422.1" r="2.32"/><circle cx="71.8" cy="384.6" r="2.22"/><circle cx="66.9" cy="414.0" r="2.25"/><circle cx="43.1" cy="413.3" r="2.37"/><circle cx="40.6" cy="395.3" r="2.25"/><circle cx="38.1" cy="387.7" r="2.37"/><circle cx="93.1" cy="399.1" r="2.43"/><circle cx="93.9" cy="401.1" r="2.48"/><circle cx="70.4" cy="426.0" r="2.55"/><circle cx="75.2" cy="382.4" r="2.52"/><circle cx="69.2" cy="412.3" r="2.41"/><circle cx="44.1" cy="381.4" r="2.26"/><circle cx="86.8" cy="405.4" r="2.32"/><circle cx="44.9" cy="401.9" r="2.24"/><circle cx="46.4" cy="421.7" r="2.26"/><circle cx="63.8" cy="381.9" r="2.24"/><circle cx="83.3" cy="381.1" r="2.53"/><circle cx="50.3" cy="377.6" r="2.24"/><circle cx="78.5" cy="382.5" r="2.55"/><circle cx="65.3" cy="381.3" r="2.45"/><circle cx="62.5" cy="415.3" r="2.22"/><circle cx="65.9" cy="402.1" r="2.27"/><circle cx="62.8" cy="401.0" r="2.50"/><circle cx="69.6" cy="381.4" r="2.23"/><circle cx="62.2" cy="389.5" r="2.51"/><circle cx="86.2" cy="429.8" r="2.52"/><circle cx="37.1" cy="384.2" r="2.39"/><circle cx="76.3" cy="408.7" r="2.43"/><circle cx="34.2" cy="416.4" r="2.24"/><circle cx="91.1" cy="400.2" r="2.26"/><circle cx="54.4" cy="408.6" r="2.42"/><circle cx="90.8" cy="391.1" r="2.31"/><circle cx="51.6" cy="386.8" r="2.27"/><circle cx="71.6" cy="402.9" r="2.38"/><circle cx="48.7" cy="398.2" r="2.52"/><circle cx="35.1" cy="393.9" r="2.46"/><circle cx="93.4" cy="409.6" r="2.37"/><circle cx="50.4" cy="429.6" r="2.25"/><circle cx="55.0" cy="390.4" r="2.31"/><circle cx="35.2" cy="384.4" r="2.28"/><circle cx="45.2" cy="389.2" r="2.29"/><circle cx="86.7" cy="391.2" r="2.27"/><circle cx="48.3" cy="410.6" r="2.24"/><circle cx="89.4" cy="392.7" r="2.46"/><circle cx="79.8" cy="397.1" r="2.21"/><circle cx="67.5" cy="410.1" r="2.28"/><circle cx="91.0" cy="419.4" r="2.22"/><circle cx="64.3" cy="424.2" r="2.20"/><circle cx="55.5" cy="398.0" r="2.42"/><circle cx="92.0" cy="407.3" r="2.36"/><circle cx="80.6" cy="394.0" r="2.37"/><circle cx="89.3" cy="411.1" r="2.45"/><circle cx="48.2" cy="429.5" r="2.38"/><circle cx="61.8" cy="395.4" r="2.52"/><circle cx="49.2" cy="381.9" r="2.21"/><circle cx="45.3" cy="415.7" r="2.55"/><circle cx="41.6" cy="390.8" r="2.49"/><circle cx="60.5" cy="407.2" r="2.55"/><circle cx="56.4" cy="421.0" r="2.54"/><circle cx="48.8" cy="397.1" r="2.37"/><circle cx="59.1" cy="383.4" r="2.20"/><circle cx="46.7" cy="384.4" r="2.30"/><circle cx="77.6" cy="384.4" r="2.47"/><circle cx="74.1" cy="388.7" r="2.53"/><circle cx="72.8" cy="413.6" r="2.45"/><circle cx="54.7" cy="429.5" r="2.33"/><circle cx="73.4" cy="407.9" r="2.34"/><circle cx="35.8" cy="399.3" r="2.24"/><circle cx="49.4" cy="402.9" r="2.37"/><circle cx="90.4" cy="425.5" r="2.43"/><circle cx="36.8" cy="415.0" r="2.22"/><circle cx="90.5" cy="407.1" r="2.41"/><circle cx="39.0" cy="425.7" r="2.33"/><circle cx="59.2" cy="432.2" r="2.53"/><circle cx="86.8" cy="423.5" r="2.22"/><circle cx="90.3" cy="379.9" r="2.24"/><circle cx="81.8" cy="393.5" r="2.47"/><circle cx="41.3" cy="397.7" r="2.51"/><circle cx="69.2" cy="376.3" r="2.42"/><circle cx="60.7" cy="420.9" r="2.42"/><circle cx="63.5" cy="406.3" r="2.21"/><circle cx="51.2" cy="431.7" r="2.27"/><circle cx="48.3" cy="415.0" r="2.24"/><circle cx="72.7" cy="376.0" r="2.39"/><circle cx="94.3" cy="389.5" r="2.47"/><circle cx="93.8" cy="429.2" r="2.30"/><circle cx="88.4" cy="425.0" r="2.35"/><circle cx="57.5" cy="401.5" r="2.38"/><circle cx="54.3" cy="429.6" r="2.28"/><circle cx="34.8" cy="383.8" r="2.21"/><circle cx="91.8" cy="422.2" r="2.37"/><circle cx="76.4" cy="431.5" r="2.31"/><circle cx="65.2" cy="423.9" r="2.35"/><circle cx="60.2" cy="427.6" r="2.22"/><circle cx="37.3" cy="401.1" r="2.21"/><circle cx="68.5" cy="421.5" r="2.32"/><circle cx="59.0" cy="415.0" r="2.47"/><circle cx="92.5" cy="400.0" r="2.46"/><circle cx="45.3" cy="377.7" r="2.34"/><circle cx="86.0" cy="403.3" r="2.34"/><circle cx="56.9" cy="405.8" r="2.51"/><circle cx="40.4" cy="388.7" r="2.41"/></g>
<g fill="#e6e4d0" opacity="0.95"><circle cx="39.6" cy="416.3" r="1.58"/><circle cx="73.1" cy="429.9" r="1.59"/><circle cx="49.7" cy="390.7" r="1.51"/><circle cx="78.1" cy="413.7" r="1.77"/><circle cx="51.6" cy="415.2" r="1.81"/><circle cx="57.4" cy="420.6" r="1.75"/><circle cx="40.3" cy="388.8" r="1.66"/><circle cx="88.4" cy="396.5" r="1.71"/><circle cx="49.0" cy="422.1" r="1.62"/><circle cx="71.8" cy="384.6" r="1.52"/><circle cx="66.9" cy="414.0" r="1.55"/><circle cx="43.1" cy="413.3" r="1.67"/><circle cx="40.6" cy="395.3" r="1.55"/><circle cx="38.1" cy="387.7" r="1.67"/><circle cx="93.1" cy="399.1" r="1.73"/><circle cx="93.9" cy="401.1" r="1.78"/><circle cx="70.4" cy="426.0" r="1.85"/><circle cx="75.2" cy="382.4" r="1.82"/><circle cx="69.2" cy="412.3" r="1.71"/><circle cx="44.1" cy="381.4" r="1.56"/><circle cx="86.8" cy="405.4" r="1.62"/><circle cx="44.9" cy="401.9" r="1.54"/><circle cx="46.4" cy="421.7" r="1.56"/><circle cx="63.8" cy="381.9" r="1.54"/><circle cx="83.3" cy="381.1" r="1.83"/><circle cx="50.3" cy="377.6" r="1.54"/><circle cx="78.5" cy="382.5" r="1.85"/><circle cx="65.3" cy="381.3" r="1.75"/><circle cx="62.5" cy="415.3" r="1.52"/><circle cx="65.9" cy="402.1" r="1.57"/><circle cx="62.8" cy="401.0" r="1.80"/><circle cx="69.6" cy="381.4" r="1.53"/><circle cx="62.2" cy="389.5" r="1.81"/><circle cx="86.2" cy="429.8" r="1.82"/><circle cx="37.1" cy="384.2" r="1.69"/><circle cx="76.3" cy="408.7" r="1.73"/><circle cx="34.2" cy="416.4" r="1.54"/><circle cx="91.1" cy="400.2" r="1.56"/><circle cx="54.4" cy="408.6" r="1.72"/><circle cx="90.8" cy="391.1" r="1.61"/><circle cx="51.6" cy="386.8" r="1.57"/><circle cx="71.6" cy="402.9" r="1.68"/><circle cx="48.7" cy="398.2" r="1.82"/><circle cx="35.1" cy="393.9" r="1.76"/><circle cx="93.4" cy="409.6" r="1.67"/><circle cx="50.4" cy="429.6" r="1.55"/><circle cx="55.0" cy="390.4" r="1.61"/><circle cx="35.2" cy="384.4" r="1.58"/><circle cx="45.2" cy="389.2" r="1.59"/><circle cx="86.7" cy="391.2" r="1.57"/><circle cx="48.3" cy="410.6" r="1.54"/><circle cx="89.4" cy="392.7" r="1.76"/><circle cx="79.8" cy="397.1" r="1.51"/><circle cx="67.5" cy="410.1" r="1.58"/><circle cx="91.0" cy="419.4" r="1.52"/><circle cx="64.3" cy="424.2" r="1.50"/><circle cx="55.5" cy="398.0" r="1.72"/><circle cx="92.0" cy="407.3" r="1.66"/><circle cx="80.6" cy="394.0" r="1.67"/><circle cx="89.3" cy="411.1" r="1.75"/><circle cx="48.2" cy="429.5" r="1.68"/><circle cx="61.8" cy="395.4" r="1.82"/><circle cx="49.2" cy="381.9" r="1.51"/><circle cx="45.3" cy="415.7" r="1.85"/><circle cx="41.6" cy="390.8" r="1.79"/><circle cx="60.5" cy="407.2" r="1.85"/><circle cx="56.4" cy="421.0" r="1.84"/><circle cx="48.8" cy="397.1" r="1.67"/><circle cx="59.1" cy="383.4" r="1.50"/><circle cx="46.7" cy="384.4" r="1.60"/><circle cx="77.6" cy="384.4" r="1.77"/><circle cx="74.1" cy="388.7" r="1.83"/><circle cx="72.8" cy="413.6" r="1.75"/><circle cx="54.7" cy="429.5" r="1.63"/><circle cx="73.4" cy="407.9" r="1.64"/><circle cx="35.8" cy="399.3" r="1.54"/><circle cx="49.4" cy="402.9" r="1.67"/><circle cx="90.4" cy="425.5" r="1.73"/><circle cx="36.8" cy="415.0" r="1.52"/><circle cx="90.5" cy="407.1" r="1.71"/><circle cx="39.0" cy="425.7" r="1.63"/><circle cx="59.2" cy="432.2" r="1.83"/><circle cx="86.8" cy="423.5" r="1.52"/><circle cx="90.3" cy="379.9" r="1.54"/><circle cx="81.8" cy="393.5" r="1.77"/><circle cx="41.3" cy="397.7" r="1.81"/><circle cx="69.2" cy="376.3" r="1.72"/><circle cx="60.7" cy="420.9" r="1.72"/><circle cx="63.5" cy="406.3" r="1.51"/><circle cx="51.2" cy="431.7" r="1.57"/><circle cx="48.3" cy="415.0" r="1.54"/><circle cx="72.7" cy="376.0" r="1.69"/><circle cx="94.3" cy="389.5" r="1.77"/><circle cx="93.8" cy="429.2" r="1.60"/><circle cx="88.4" cy="425.0" r="1.65"/><circle cx="57.5" cy="401.5" r="1.68"/><circle cx="54.3" cy="429.6" r="1.58"/><circle cx="34.8" cy="383.8" r="1.51"/><circle cx="91.8" cy="422.2" r="1.67"/><circle cx="76.4" cy="431.5" r="1.61"/><circle cx="65.2" cy="423.9" r="1.65"/><circle cx="60.2" cy="427.6" r="1.52"/><circle cx="37.3" cy="401.1" r="1.51"/><circle cx="68.5" cy="421.5" r="1.62"/><circle cx="59.0" cy="415.0" r="1.77"/><circle cx="92.5" cy="400.0" r="1.76"/><circle cx="45.3" cy="377.7" r="1.64"/><circle cx="86.0" cy="403.3" r="1.64"/><circle cx="56.9" cy="405.8" r="1.81"/><circle cx="40.4" cy="388.7" r="1.71"/></g>
<g><circle cx="39.6" cy="416.3" r="0.61" fill="#7a7048"/><circle cx="73.1" cy="429.9" r="0.57" fill="#7a7048"/><circle cx="49.7" cy="390.7" r="0.72" fill="#bfb064"/><circle cx="78.1" cy="413.7" r="0.66" fill="#948650"/><circle cx="51.6" cy="415.2" r="0.57" fill="#7a7048"/><circle cx="57.4" cy="420.6" r="0.60" fill="#bfb064"/><circle cx="40.3" cy="388.8" r="0.60" fill="#7a7048"/><circle cx="88.4" cy="396.5" r="0.67" fill="#bfb064"/><circle cx="49.0" cy="422.1" r="0.68" fill="#bfb064"/><circle cx="71.8" cy="384.6" r="0.70" fill="#c9bb6a"/><circle cx="66.9" cy="414.0" r="0.76" fill="#bfb064"/><circle cx="43.1" cy="413.3" r="0.63" fill="#7a7048"/><circle cx="40.6" cy="395.3" r="0.68" fill="#bfb064"/><circle cx="38.1" cy="387.7" r="0.71" fill="#bfb064"/><circle cx="93.1" cy="399.1" r="0.73" fill="#948650"/><circle cx="93.9" cy="401.1" r="0.56" fill="#7a7048"/><circle cx="70.4" cy="426.0" r="0.77" fill="#948650"/><circle cx="75.2" cy="382.4" r="0.63" fill="#c9bb6a"/><circle cx="69.2" cy="412.3" r="0.76" fill="#bfb064"/><circle cx="44.1" cy="381.4" r="0.61" fill="#bfb064"/><circle cx="86.8" cy="405.4" r="0.68" fill="#c9bb6a"/><circle cx="44.9" cy="401.9" r="0.56" fill="#bfb064"/><circle cx="46.4" cy="421.7" r="0.60" fill="#948650"/><circle cx="63.8" cy="381.9" r="0.76" fill="#948650"/><circle cx="83.3" cy="381.1" r="0.62" fill="#c9bb6a"/><circle cx="50.3" cy="377.6" r="0.74" fill="#c9bb6a"/><circle cx="78.5" cy="382.5" r="0.70" fill="#7a7048"/><circle cx="65.3" cy="381.3" r="0.69" fill="#948650"/><circle cx="62.5" cy="415.3" r="0.69" fill="#c9bb6a"/><circle cx="65.9" cy="402.1" r="0.57" fill="#bfb064"/><circle cx="62.8" cy="401.0" r="0.71" fill="#7a7048"/><circle cx="69.6" cy="381.4" r="0.74" fill="#7a7048"/><circle cx="62.2" cy="389.5" r="0.70" fill="#948650"/><circle cx="86.2" cy="429.8" r="0.58" fill="#c9bb6a"/><circle cx="37.1" cy="384.2" r="0.63" fill="#7a7048"/><circle cx="76.3" cy="408.7" r="0.77" fill="#bfb064"/><circle cx="34.2" cy="416.4" r="0.68" fill="#bfb064"/><circle cx="91.1" cy="400.2" r="0.67" fill="#7a7048"/><circle cx="54.4" cy="408.6" r="0.56" fill="#c9bb6a"/><circle cx="90.8" cy="391.1" r="0.74" fill="#c9bb6a"/><circle cx="51.6" cy="386.8" r="0.69" fill="#bfb064"/><circle cx="71.6" cy="402.9" r="0.75" fill="#948650"/><circle cx="48.7" cy="398.2" r="0.66" fill="#948650"/><circle cx="35.1" cy="393.9" r="0.57" fill="#bfb064"/><circle cx="93.4" cy="409.6" r="0.60" fill="#c9bb6a"/><circle cx="50.4" cy="429.6" r="0.79" fill="#c9bb6a"/><circle cx="55.0" cy="390.4" r="0.61" fill="#bfb064"/><circle cx="35.2" cy="384.4" r="0.72" fill="#7a7048"/><circle cx="45.2" cy="389.2" r="0.68" fill="#7a7048"/><circle cx="86.7" cy="391.2" r="0.60" fill="#bfb064"/><circle cx="48.3" cy="410.6" r="0.61" fill="#948650"/><circle cx="89.4" cy="392.7" r="0.71" fill="#bfb064"/><circle cx="79.8" cy="397.1" r="0.62" fill="#948650"/><circle cx="67.5" cy="410.1" r="0.79" fill="#948650"/><circle cx="91.0" cy="419.4" r="0.62" fill="#948650"/><circle cx="64.3" cy="424.2" r="0.76" fill="#c9bb6a"/><circle cx="55.5" cy="398.0" r="0.62" fill="#c9bb6a"/><circle cx="92.0" cy="407.3" r="0.61" fill="#7a7048"/><circle cx="80.6" cy="394.0" r="0.59" fill="#948650"/><circle cx="89.3" cy="411.1" r="0.71" fill="#948650"/><circle cx="48.2" cy="429.5" r="0.78" fill="#bfb064"/><circle cx="61.8" cy="395.4" r="0.67" fill="#c9bb6a"/><circle cx="49.2" cy="381.9" r="0.79" fill="#bfb064"/><circle cx="45.3" cy="415.7" r="0.63" fill="#bfb064"/><circle cx="41.6" cy="390.8" r="0.57" fill="#7a7048"/><circle cx="60.5" cy="407.2" r="0.57" fill="#948650"/><circle cx="56.4" cy="421.0" r="0.66" fill="#c9bb6a"/><circle cx="48.8" cy="397.1" r="0.73" fill="#c9bb6a"/><circle cx="59.1" cy="383.4" r="0.69" fill="#7a7048"/><circle cx="46.7" cy="384.4" r="0.68" fill="#948650"/><circle cx="77.6" cy="384.4" r="0.74" fill="#c9bb6a"/><circle cx="74.1" cy="388.7" r="0.75" fill="#c9bb6a"/><circle cx="72.8" cy="413.6" r="0.66" fill="#bfb064"/><circle cx="54.7" cy="429.5" r="0.69" fill="#bfb064"/><circle cx="73.4" cy="407.9" r="0.64" fill="#7a7048"/><circle cx="35.8" cy="399.3" r="0.80" fill="#7a7048"/><circle cx="49.4" cy="402.9" r="0.73" fill="#c9bb6a"/><circle cx="90.4" cy="425.5" r="0.61" fill="#7a7048"/><circle cx="36.8" cy="415.0" r="0.65" fill="#948650"/><circle cx="90.5" cy="407.1" r="0.77" fill="#948650"/><circle cx="39.0" cy="425.7" r="0.60" fill="#948650"/><circle cx="59.2" cy="432.2" r="0.56" fill="#bfb064"/><circle cx="86.8" cy="423.5" r="0.79" fill="#7a7048"/><circle cx="90.3" cy="379.9" r="0.57" fill="#7a7048"/><circle cx="81.8" cy="393.5" r="0.69" fill="#948650"/><circle cx="41.3" cy="397.7" r="0.63" fill="#c9bb6a"/><circle cx="69.2" cy="376.3" r="0.76" fill="#7a7048"/><circle cx="60.7" cy="420.9" r="0.67" fill="#7a7048"/><circle cx="63.5" cy="406.3" r="0.57" fill="#c9bb6a"/><circle cx="51.2" cy="431.7" r="0.70" fill="#948650"/><circle cx="48.3" cy="415.0" r="0.63" fill="#7a7048"/><circle cx="72.7" cy="376.0" r="0.60" fill="#c9bb6a"/><circle cx="94.3" cy="389.5" r="0.63" fill="#948650"/><circle cx="93.8" cy="429.2" r="0.62" fill="#c9bb6a"/><circle cx="88.4" cy="425.0" r="0.77" fill="#948650"/><circle cx="57.5" cy="401.5" r="0.75" fill="#c9bb6a"/><circle cx="54.3" cy="429.6" r="0.80" fill="#948650"/><circle cx="34.8" cy="383.8" r="0.72" fill="#bfb064"/><circle cx="91.8" cy="422.2" r="0.60" fill="#c9bb6a"/><circle cx="76.4" cy="431.5" r="0.78" fill="#bfb064"/><circle cx="65.2" cy="423.9" r="0.69" fill="#7a7048"/><circle cx="60.2" cy="427.6" r="0.56" fill="#948650"/><circle cx="37.3" cy="401.1" r="0.55" fill="#7a7048"/><circle cx="68.5" cy="421.5" r="0.68" fill="#948650"/><circle cx="59.0" cy="415.0" r="0.70" fill="#c9bb6a"/><circle cx="92.5" cy="400.0" r="0.69" fill="#bfb064"/><circle cx="45.3" cy="377.7" r="0.58" fill="#c9bb6a"/><circle cx="86.0" cy="403.3" r="0.60" fill="#7a7048"/><circle cx="56.9" cy="405.8" r="0.73" fill="#7a7048"/><circle cx="40.4" cy="388.7" r="0.71" fill="#bfb064"/></g>
<circle cx="41.3" cy="397.7" r="1.5" fill="#2a7a80"/>
<circle cx="92.0" cy="407.3" r="1.3" fill="#2a7a80"/>
<circle cx="88.4" cy="425.0" r="1.6" fill="#2a7a80"/>
<circle cx="59.2" cy="432.2" r="1.4" fill="#2a7a80"/>
<circle cx="86.7" cy="391.2" r="1.6" fill="#2a7a80"/>
</g></g>
<clipPath id="mc15"><rect x="96.7" y="376" width="61.8" height="57.30000000000001"/></clipPath>
<g clip-path="url(#mc15)">
<rect x="96.70" y="376.00" width="61.80" height="57.30" fill="#7d797f"/>
<g filter="url(#blur03)">
<g fill="#bcb0c8" opacity="0.5"><circle cx="156.4" cy="376.7" r="2.41"/><circle cx="142.2" cy="385.1" r="2.35"/><circle cx="157.7" cy="377.0" r="2.46"/><circle cx="151.1" cy="415.0" r="2.51"/><circle cx="149.7" cy="433.3" r="2.35"/><circle cx="111.5" cy="395.4" r="2.35"/><circle cx="140.5" cy="392.1" r="2.22"/><circle cx="113.0" cy="389.1" r="2.33"/><circle cx="149.7" cy="426.1" r="2.52"/><circle cx="146.0" cy="388.8" r="2.22"/><circle cx="153.9" cy="405.3" r="2.51"/><circle cx="111.0" cy="402.1" r="2.35"/><circle cx="122.6" cy="380.5" r="2.40"/><circle cx="131.6" cy="396.6" r="2.28"/><circle cx="131.9" cy="429.3" r="2.38"/><circle cx="136.6" cy="399.2" r="2.48"/><circle cx="150.1" cy="433.0" r="2.50"/><circle cx="127.0" cy="430.1" r="2.22"/><circle cx="97.9" cy="384.0" r="2.34"/><circle cx="107.3" cy="429.8" r="2.53"/><circle cx="139.4" cy="417.2" r="2.51"/><circle cx="114.4" cy="404.4" r="2.29"/><circle cx="151.5" cy="381.7" r="2.30"/><circle cx="103.9" cy="378.7" r="2.54"/><circle cx="125.7" cy="424.2" r="2.46"/><circle cx="131.0" cy="399.0" r="2.26"/><circle cx="127.7" cy="386.3" r="2.24"/><circle cx="155.3" cy="396.3" r="2.28"/><circle cx="111.2" cy="393.8" r="2.35"/><circle cx="147.7" cy="394.2" r="2.29"/><circle cx="152.6" cy="395.3" r="2.55"/><circle cx="124.0" cy="380.3" r="2.35"/><circle cx="152.8" cy="421.6" r="2.43"/><circle cx="126.0" cy="382.6" r="2.45"/><circle cx="127.1" cy="397.6" r="2.43"/><circle cx="148.6" cy="429.2" r="2.47"/><circle cx="142.5" cy="392.5" r="2.35"/><circle cx="99.3" cy="427.2" r="2.44"/><circle cx="155.1" cy="385.1" r="2.33"/><circle cx="127.6" cy="403.6" r="2.42"/><circle cx="157.0" cy="378.5" r="2.55"/><circle cx="100.5" cy="424.3" r="2.35"/><circle cx="131.9" cy="402.5" r="2.44"/><circle cx="144.8" cy="410.0" r="2.21"/><circle cx="139.5" cy="390.6" r="2.46"/><circle cx="101.9" cy="376.5" r="2.54"/><circle cx="117.3" cy="413.2" r="2.26"/><circle cx="120.2" cy="395.9" r="2.45"/><circle cx="134.9" cy="416.4" r="2.45"/><circle cx="133.5" cy="393.9" r="2.24"/><circle cx="147.5" cy="421.9" r="2.31"/><circle cx="151.9" cy="427.1" r="2.53"/><circle cx="97.6" cy="414.3" r="2.33"/><circle cx="118.2" cy="398.3" r="2.42"/><circle cx="128.7" cy="384.2" r="2.31"/><circle cx="112.1" cy="432.5" r="2.20"/><circle cx="117.2" cy="428.3" r="2.34"/><circle cx="139.0" cy="394.0" r="2.23"/><circle cx="116.4" cy="410.7" r="2.33"/><circle cx="140.1" cy="395.5" r="2.49"/><circle cx="100.3" cy="385.9" r="2.21"/><circle cx="149.9" cy="417.8" r="2.46"/><circle cx="103.4" cy="423.9" r="2.22"/><circle cx="132.3" cy="395.2" r="2.47"/><circle cx="151.9" cy="383.4" r="2.44"/><circle cx="102.8" cy="395.7" r="2.48"/><circle cx="142.3" cy="407.4" r="2.41"/><circle cx="126.6" cy="428.0" r="2.26"/><circle cx="121.0" cy="421.2" r="2.45"/><circle cx="97.0" cy="420.9" r="2.38"/><circle cx="106.3" cy="413.6" r="2.46"/><circle cx="148.5" cy="413.6" r="2.25"/><circle cx="132.5" cy="407.5" r="2.25"/><circle cx="143.1" cy="397.1" r="2.39"/><circle cx="111.1" cy="407.9" r="2.33"/><circle cx="128.9" cy="382.7" r="2.51"/><circle cx="129.5" cy="402.8" r="2.50"/><circle cx="106.4" cy="416.5" r="2.47"/><circle cx="144.8" cy="395.4" r="2.31"/><circle cx="150.2" cy="432.6" r="2.43"/><circle cx="137.6" cy="399.4" r="2.48"/><circle cx="113.5" cy="383.4" r="2.23"/><circle cx="113.6" cy="433.2" r="2.55"/><circle cx="100.4" cy="428.5" r="2.28"/><circle cx="139.8" cy="420.9" r="2.40"/><circle cx="102.8" cy="413.0" r="2.47"/><circle cx="109.4" cy="414.8" r="2.52"/><circle cx="145.8" cy="417.3" r="2.41"/><circle cx="129.8" cy="426.7" r="2.27"/><circle cx="110.9" cy="385.0" r="2.42"/><circle cx="150.2" cy="379.2" r="2.40"/><circle cx="122.5" cy="400.1" r="2.34"/><circle cx="150.9" cy="397.3" r="2.45"/><circle cx="131.9" cy="404.7" r="2.25"/><circle cx="126.3" cy="403.1" r="2.51"/><circle cx="125.6" cy="410.2" r="2.44"/><circle cx="123.4" cy="400.2" r="2.43"/><circle cx="153.9" cy="431.9" r="2.52"/><circle cx="112.0" cy="430.3" r="2.28"/><circle cx="98.2" cy="395.1" r="2.43"/><circle cx="152.3" cy="385.7" r="2.42"/><circle cx="138.0" cy="433.0" r="2.38"/><circle cx="134.5" cy="402.3" r="2.47"/><circle cx="98.6" cy="401.8" r="2.47"/><circle cx="125.4" cy="421.2" r="2.28"/><circle cx="120.8" cy="422.2" r="2.49"/><circle cx="121.7" cy="412.4" r="2.53"/><circle cx="143.6" cy="385.5" r="2.53"/><circle cx="155.6" cy="401.8" r="2.25"/><circle cx="126.3" cy="431.7" r="2.33"/><circle cx="132.0" cy="405.8" r="2.21"/><circle cx="109.9" cy="388.6" r="2.52"/><circle cx="143.7" cy="405.0" r="2.24"/><circle cx="137.4" cy="415.8" r="2.48"/><circle cx="138.9" cy="394.5" r="2.23"/><circle cx="150.0" cy="401.8" r="2.46"/><circle cx="107.6" cy="425.7" r="2.39"/><circle cx="152.4" cy="382.9" r="2.52"/><circle cx="151.4" cy="415.4" r="2.29"/><circle cx="113.4" cy="409.0" r="2.50"/><circle cx="153.7" cy="384.7" r="2.43"/><circle cx="137.5" cy="389.8" r="2.40"/><circle cx="105.9" cy="430.5" r="2.38"/><circle cx="158.2" cy="413.5" r="2.29"/><circle cx="145.7" cy="398.6" r="2.47"/><circle cx="123.2" cy="411.2" r="2.30"/><circle cx="147.0" cy="416.2" r="2.35"/><circle cx="125.7" cy="412.0" r="2.27"/><circle cx="121.6" cy="422.4" r="2.48"/><circle cx="150.4" cy="420.3" r="2.35"/><circle cx="116.6" cy="397.8" r="2.38"/><circle cx="157.3" cy="397.7" r="2.34"/><circle cx="137.8" cy="381.5" r="2.44"/><circle cx="104.8" cy="388.9" r="2.50"/><circle cx="138.3" cy="389.1" r="2.52"/><circle cx="137.3" cy="380.2" r="2.26"/><circle cx="139.4" cy="416.2" r="2.27"/><circle cx="112.6" cy="389.7" r="2.21"/><circle cx="112.2" cy="404.3" r="2.48"/><circle cx="108.1" cy="389.4" r="2.22"/><circle cx="146.4" cy="429.7" r="2.27"/><circle cx="106.6" cy="405.8" r="2.35"/><circle cx="137.4" cy="430.4" r="2.52"/><circle cx="131.3" cy="406.4" r="2.40"/><circle cx="144.4" cy="421.2" r="2.38"/><circle cx="140.7" cy="411.7" r="2.53"/><circle cx="146.8" cy="378.4" r="2.29"/><circle cx="144.1" cy="388.7" r="2.38"/><circle cx="118.5" cy="398.6" r="2.25"/><circle cx="128.8" cy="409.8" r="2.38"/></g>
<g fill="#e6e4d0" opacity="0.95"><circle cx="156.4" cy="376.7" r="1.71"/><circle cx="142.2" cy="385.1" r="1.65"/><circle cx="157.7" cy="377.0" r="1.76"/><circle cx="151.1" cy="415.0" r="1.81"/><circle cx="149.7" cy="433.3" r="1.65"/><circle cx="111.5" cy="395.4" r="1.65"/><circle cx="140.5" cy="392.1" r="1.52"/><circle cx="113.0" cy="389.1" r="1.63"/><circle cx="149.7" cy="426.1" r="1.82"/><circle cx="146.0" cy="388.8" r="1.52"/><circle cx="153.9" cy="405.3" r="1.81"/><circle cx="111.0" cy="402.1" r="1.65"/><circle cx="122.6" cy="380.5" r="1.70"/><circle cx="131.6" cy="396.6" r="1.58"/><circle cx="131.9" cy="429.3" r="1.68"/><circle cx="136.6" cy="399.2" r="1.78"/><circle cx="150.1" cy="433.0" r="1.80"/><circle cx="127.0" cy="430.1" r="1.52"/><circle cx="97.9" cy="384.0" r="1.64"/><circle cx="107.3" cy="429.8" r="1.83"/><circle cx="139.4" cy="417.2" r="1.81"/><circle cx="114.4" cy="404.4" r="1.59"/><circle cx="151.5" cy="381.7" r="1.60"/><circle cx="103.9" cy="378.7" r="1.84"/><circle cx="125.7" cy="424.2" r="1.76"/><circle cx="131.0" cy="399.0" r="1.56"/><circle cx="127.7" cy="386.3" r="1.54"/><circle cx="155.3" cy="396.3" r="1.58"/><circle cx="111.2" cy="393.8" r="1.65"/><circle cx="147.7" cy="394.2" r="1.59"/><circle cx="152.6" cy="395.3" r="1.85"/><circle cx="124.0" cy="380.3" r="1.65"/><circle cx="152.8" cy="421.6" r="1.73"/><circle cx="126.0" cy="382.6" r="1.75"/><circle cx="127.1" cy="397.6" r="1.73"/><circle cx="148.6" cy="429.2" r="1.77"/><circle cx="142.5" cy="392.5" r="1.65"/><circle cx="99.3" cy="427.2" r="1.74"/><circle cx="155.1" cy="385.1" r="1.63"/><circle cx="127.6" cy="403.6" r="1.72"/><circle cx="157.0" cy="378.5" r="1.85"/><circle cx="100.5" cy="424.3" r="1.65"/><circle cx="131.9" cy="402.5" r="1.74"/><circle cx="144.8" cy="410.0" r="1.51"/><circle cx="139.5" cy="390.6" r="1.76"/><circle cx="101.9" cy="376.5" r="1.84"/><circle cx="117.3" cy="413.2" r="1.56"/><circle cx="120.2" cy="395.9" r="1.75"/><circle cx="134.9" cy="416.4" r="1.75"/><circle cx="133.5" cy="393.9" r="1.54"/><circle cx="147.5" cy="421.9" r="1.61"/><circle cx="151.9" cy="427.1" r="1.83"/><circle cx="97.6" cy="414.3" r="1.63"/><circle cx="118.2" cy="398.3" r="1.72"/><circle cx="128.7" cy="384.2" r="1.61"/><circle cx="112.1" cy="432.5" r="1.50"/><circle cx="117.2" cy="428.3" r="1.64"/><circle cx="139.0" cy="394.0" r="1.53"/><circle cx="116.4" cy="410.7" r="1.63"/><circle cx="140.1" cy="395.5" r="1.79"/><circle cx="100.3" cy="385.9" r="1.51"/><circle cx="149.9" cy="417.8" r="1.76"/><circle cx="103.4" cy="423.9" r="1.52"/><circle cx="132.3" cy="395.2" r="1.77"/><circle cx="151.9" cy="383.4" r="1.74"/><circle cx="102.8" cy="395.7" r="1.78"/><circle cx="142.3" cy="407.4" r="1.71"/><circle cx="126.6" cy="428.0" r="1.56"/><circle cx="121.0" cy="421.2" r="1.75"/><circle cx="97.0" cy="420.9" r="1.68"/><circle cx="106.3" cy="413.6" r="1.76"/><circle cx="148.5" cy="413.6" r="1.55"/><circle cx="132.5" cy="407.5" r="1.55"/><circle cx="143.1" cy="397.1" r="1.69"/><circle cx="111.1" cy="407.9" r="1.63"/><circle cx="128.9" cy="382.7" r="1.81"/><circle cx="129.5" cy="402.8" r="1.80"/><circle cx="106.4" cy="416.5" r="1.77"/><circle cx="144.8" cy="395.4" r="1.61"/><circle cx="150.2" cy="432.6" r="1.73"/><circle cx="137.6" cy="399.4" r="1.78"/><circle cx="113.5" cy="383.4" r="1.53"/><circle cx="113.6" cy="433.2" r="1.85"/><circle cx="100.4" cy="428.5" r="1.58"/><circle cx="139.8" cy="420.9" r="1.70"/><circle cx="102.8" cy="413.0" r="1.77"/><circle cx="109.4" cy="414.8" r="1.82"/><circle cx="145.8" cy="417.3" r="1.71"/><circle cx="129.8" cy="426.7" r="1.57"/><circle cx="110.9" cy="385.0" r="1.72"/><circle cx="150.2" cy="379.2" r="1.70"/><circle cx="122.5" cy="400.1" r="1.64"/><circle cx="150.9" cy="397.3" r="1.75"/><circle cx="131.9" cy="404.7" r="1.55"/><circle cx="126.3" cy="403.1" r="1.81"/><circle cx="125.6" cy="410.2" r="1.74"/><circle cx="123.4" cy="400.2" r="1.73"/><circle cx="153.9" cy="431.9" r="1.82"/><circle cx="112.0" cy="430.3" r="1.58"/><circle cx="98.2" cy="395.1" r="1.73"/><circle cx="152.3" cy="385.7" r="1.72"/><circle cx="138.0" cy="433.0" r="1.68"/><circle cx="134.5" cy="402.3" r="1.77"/><circle cx="98.6" cy="401.8" r="1.77"/><circle cx="125.4" cy="421.2" r="1.58"/><circle cx="120.8" cy="422.2" r="1.79"/><circle cx="121.7" cy="412.4" r="1.83"/><circle cx="143.6" cy="385.5" r="1.83"/><circle cx="155.6" cy="401.8" r="1.55"/><circle cx="126.3" cy="431.7" r="1.63"/><circle cx="132.0" cy="405.8" r="1.51"/><circle cx="109.9" cy="388.6" r="1.82"/><circle cx="143.7" cy="405.0" r="1.54"/><circle cx="137.4" cy="415.8" r="1.78"/><circle cx="138.9" cy="394.5" r="1.53"/><circle cx="150.0" cy="401.8" r="1.76"/><circle cx="107.6" cy="425.7" r="1.69"/><circle cx="152.4" cy="382.9" r="1.82"/><circle cx="151.4" cy="415.4" r="1.59"/><circle cx="113.4" cy="409.0" r="1.80"/><circle cx="153.7" cy="384.7" r="1.73"/><circle cx="137.5" cy="389.8" r="1.70"/><circle cx="105.9" cy="430.5" r="1.68"/><circle cx="158.2" cy="413.5" r="1.59"/><circle cx="145.7" cy="398.6" r="1.77"/><circle cx="123.2" cy="411.2" r="1.60"/><circle cx="147.0" cy="416.2" r="1.65"/><circle cx="125.7" cy="412.0" r="1.57"/><circle cx="121.6" cy="422.4" r="1.78"/><circle cx="150.4" cy="420.3" r="1.65"/><circle cx="116.6" cy="397.8" r="1.68"/><circle cx="157.3" cy="397.7" r="1.64"/><circle cx="137.8" cy="381.5" r="1.74"/><circle cx="104.8" cy="388.9" r="1.80"/><circle cx="138.3" cy="389.1" r="1.82"/><circle cx="137.3" cy="380.2" r="1.56"/><circle cx="139.4" cy="416.2" r="1.57"/><circle cx="112.6" cy="389.7" r="1.51"/><circle cx="112.2" cy="404.3" r="1.78"/><circle cx="108.1" cy="389.4" r="1.52"/><circle cx="146.4" cy="429.7" r="1.57"/><circle cx="106.6" cy="405.8" r="1.65"/><circle cx="137.4" cy="430.4" r="1.82"/><circle cx="131.3" cy="406.4" r="1.70"/><circle cx="144.4" cy="421.2" r="1.68"/><circle cx="140.7" cy="411.7" r="1.83"/><circle cx="146.8" cy="378.4" r="1.59"/><circle cx="144.1" cy="388.7" r="1.68"/><circle cx="118.5" cy="398.6" r="1.55"/><circle cx="128.8" cy="409.8" r="1.68"/></g>
<g><circle cx="156.4" cy="376.7" r="0.63" fill="#bfb064"/><circle cx="142.2" cy="385.1" r="0.69" fill="#c9bb6a"/><circle cx="157.7" cy="377.0" r="0.78" fill="#c9bb6a"/><circle cx="151.1" cy="415.0" r="0.76" fill="#948650"/><circle cx="149.7" cy="433.3" r="0.57" fill="#948650"/><circle cx="111.5" cy="395.4" r="0.58" fill="#7a7048"/><circle cx="140.5" cy="392.1" r="0.65" fill="#c9bb6a"/><circle cx="113.0" cy="389.1" r="0.60" fill="#bfb064"/><circle cx="149.7" cy="426.1" r="0.80" fill="#948650"/><circle cx="146.0" cy="388.8" r="0.68" fill="#bfb064"/><circle cx="153.9" cy="405.3" r="0.79" fill="#7a7048"/><circle cx="111.0" cy="402.1" r="0.56" fill="#7a7048"/><circle cx="122.6" cy="380.5" r="0.75" fill="#c9bb6a"/><circle cx="131.6" cy="396.6" r="0.59" fill="#948650"/><circle cx="131.9" cy="429.3" r="0.65" fill="#948650"/><circle cx="136.6" cy="399.2" r="0.60" fill="#c9bb6a"/><circle cx="150.1" cy="433.0" r="0.71" fill="#c9bb6a"/><circle cx="127.0" cy="430.1" r="0.74" fill="#948650"/><circle cx="97.9" cy="384.0" r="0.78" fill="#bfb064"/><circle cx="107.3" cy="429.8" r="0.63" fill="#7a7048"/><circle cx="139.4" cy="417.2" r="0.79" fill="#7a7048"/><circle cx="114.4" cy="404.4" r="0.66" fill="#c9bb6a"/><circle cx="151.5" cy="381.7" r="0.57" fill="#c9bb6a"/><circle cx="103.9" cy="378.7" r="0.61" fill="#7a7048"/><circle cx="125.7" cy="424.2" r="0.70" fill="#948650"/><circle cx="131.0" cy="399.0" r="0.60" fill="#7a7048"/><circle cx="127.7" cy="386.3" r="0.64" fill="#948650"/><circle cx="155.3" cy="396.3" r="0.77" fill="#bfb064"/><circle cx="111.2" cy="393.8" r="0.58" fill="#c9bb6a"/><circle cx="147.7" cy="394.2" r="0.56" fill="#7a7048"/><circle cx="152.6" cy="395.3" r="0.77" fill="#bfb064"/><circle cx="124.0" cy="380.3" r="0.67" fill="#948650"/><circle cx="152.8" cy="421.6" r="0.72" fill="#7a7048"/><circle cx="126.0" cy="382.6" r="0.67" fill="#c9bb6a"/><circle cx="127.1" cy="397.6" r="0.70" fill="#948650"/><circle cx="148.6" cy="429.2" r="0.65" fill="#bfb064"/><circle cx="142.5" cy="392.5" r="0.69" fill="#c9bb6a"/><circle cx="99.3" cy="427.2" r="0.76" fill="#bfb064"/><circle cx="155.1" cy="385.1" r="0.59" fill="#948650"/><circle cx="127.6" cy="403.6" r="0.57" fill="#948650"/><circle cx="157.0" cy="378.5" r="0.60" fill="#7a7048"/><circle cx="100.5" cy="424.3" r="0.60" fill="#c9bb6a"/><circle cx="131.9" cy="402.5" r="0.66" fill="#c9bb6a"/><circle cx="144.8" cy="410.0" r="0.75" fill="#7a7048"/><circle cx="139.5" cy="390.6" r="0.59" fill="#7a7048"/><circle cx="101.9" cy="376.5" r="0.67" fill="#bfb064"/><circle cx="117.3" cy="413.2" r="0.65" fill="#c9bb6a"/><circle cx="120.2" cy="395.9" r="0.56" fill="#7a7048"/><circle cx="134.9" cy="416.4" r="0.65" fill="#7a7048"/><circle cx="133.5" cy="393.9" r="0.62" fill="#bfb064"/><circle cx="147.5" cy="421.9" r="0.66" fill="#948650"/><circle cx="151.9" cy="427.1" r="0.75" fill="#bfb064"/><circle cx="97.6" cy="414.3" r="0.69" fill="#c9bb6a"/><circle cx="118.2" cy="398.3" r="0.62" fill="#948650"/><circle cx="128.7" cy="384.2" r="0.79" fill="#948650"/><circle cx="112.1" cy="432.5" r="0.65" fill="#948650"/><circle cx="117.2" cy="428.3" r="0.71" fill="#bfb064"/><circle cx="139.0" cy="394.0" r="0.60" fill="#7a7048"/><circle cx="116.4" cy="410.7" r="0.76" fill="#bfb064"/><circle cx="140.1" cy="395.5" r="0.61" fill="#bfb064"/><circle cx="100.3" cy="385.9" r="0.60" fill="#948650"/><circle cx="149.9" cy="417.8" r="0.78" fill="#948650"/><circle cx="103.4" cy="423.9" r="0.70" fill="#bfb064"/><circle cx="132.3" cy="395.2" r="0.76" fill="#7a7048"/><circle cx="151.9" cy="383.4" r="0.62" fill="#948650"/><circle cx="102.8" cy="395.7" r="0.56" fill="#948650"/><circle cx="142.3" cy="407.4" r="0.77" fill="#7a7048"/><circle cx="126.6" cy="428.0" r="0.70" fill="#948650"/><circle cx="121.0" cy="421.2" r="0.66" fill="#948650"/><circle cx="97.0" cy="420.9" r="0.59" fill="#7a7048"/><circle cx="106.3" cy="413.6" r="0.80" fill="#7a7048"/><circle cx="148.5" cy="413.6" r="0.55" fill="#bfb064"/><circle cx="132.5" cy="407.5" r="0.76" fill="#bfb064"/><circle cx="143.1" cy="397.1" r="0.58" fill="#948650"/><circle cx="111.1" cy="407.9" r="0.58" fill="#948650"/><circle cx="128.9" cy="382.7" r="0.56" fill="#948650"/><circle cx="129.5" cy="402.8" r="0.61" fill="#bfb064"/><circle cx="106.4" cy="416.5" r="0.68" fill="#948650"/><circle cx="144.8" cy="395.4" r="0.59" fill="#7a7048"/><circle cx="150.2" cy="432.6" r="0.57" fill="#7a7048"/><circle cx="137.6" cy="399.4" r="0.64" fill="#c9bb6a"/><circle cx="113.5" cy="383.4" r="0.70" fill="#948650"/><circle cx="113.6" cy="433.2" r="0.67" fill="#948650"/><circle cx="100.4" cy="428.5" r="0.59" fill="#bfb064"/><circle cx="139.8" cy="420.9" r="0.62" fill="#948650"/><circle cx="102.8" cy="413.0" r="0.64" fill="#bfb064"/><circle cx="109.4" cy="414.8" r="0.75" fill="#c9bb6a"/><circle cx="145.8" cy="417.3" r="0.67" fill="#c9bb6a"/><circle cx="129.8" cy="426.7" r="0.60" fill="#bfb064"/><circle cx="110.9" cy="385.0" r="0.64" fill="#bfb064"/><circle cx="150.2" cy="379.2" r="0.57" fill="#c9bb6a"/><circle cx="122.5" cy="400.1" r="0.62" fill="#948650"/><circle cx="150.9" cy="397.3" r="0.70" fill="#7a7048"/><circle cx="131.9" cy="404.7" r="0.65" fill="#7a7048"/><circle cx="126.3" cy="403.1" r="0.66" fill="#948650"/><circle cx="125.6" cy="410.2" r="0.69" fill="#c9bb6a"/><circle cx="123.4" cy="400.2" r="0.66" fill="#948650"/><circle cx="153.9" cy="431.9" r="0.66" fill="#948650"/><circle cx="112.0" cy="430.3" r="0.76" fill="#948650"/><circle cx="98.2" cy="395.1" r="0.75" fill="#bfb064"/><circle cx="152.3" cy="385.7" r="0.65" fill="#948650"/><circle cx="138.0" cy="433.0" r="0.67" fill="#c9bb6a"/><circle cx="134.5" cy="402.3" r="0.63" fill="#948650"/><circle cx="98.6" cy="401.8" r="0.56" fill="#7a7048"/><circle cx="125.4" cy="421.2" r="0.62" fill="#948650"/><circle cx="120.8" cy="422.2" r="0.59" fill="#bfb064"/><circle cx="121.7" cy="412.4" r="0.72" fill="#7a7048"/><circle cx="143.6" cy="385.5" r="0.76" fill="#c9bb6a"/><circle cx="155.6" cy="401.8" r="0.78" fill="#7a7048"/><circle cx="126.3" cy="431.7" r="0.70" fill="#948650"/><circle cx="132.0" cy="405.8" r="0.66" fill="#7a7048"/><circle cx="109.9" cy="388.6" r="0.66" fill="#c9bb6a"/><circle cx="143.7" cy="405.0" r="0.64" fill="#bfb064"/><circle cx="137.4" cy="415.8" r="0.77" fill="#bfb064"/><circle cx="138.9" cy="394.5" r="0.56" fill="#7a7048"/><circle cx="150.0" cy="401.8" r="0.71" fill="#7a7048"/><circle cx="107.6" cy="425.7" r="0.56" fill="#bfb064"/><circle cx="152.4" cy="382.9" r="0.73" fill="#7a7048"/><circle cx="151.4" cy="415.4" r="0.74" fill="#948650"/><circle cx="113.4" cy="409.0" r="0.71" fill="#bfb064"/><circle cx="153.7" cy="384.7" r="0.79" fill="#bfb064"/><circle cx="137.5" cy="389.8" r="0.77" fill="#c9bb6a"/><circle cx="105.9" cy="430.5" r="0.61" fill="#948650"/><circle cx="158.2" cy="413.5" r="0.65" fill="#7a7048"/><circle cx="145.7" cy="398.6" r="0.67" fill="#bfb064"/><circle cx="123.2" cy="411.2" r="0.64" fill="#7a7048"/><circle cx="147.0" cy="416.2" r="0.71" fill="#948650"/><circle cx="125.7" cy="412.0" r="0.69" fill="#948650"/><circle cx="121.6" cy="422.4" r="0.71" fill="#bfb064"/><circle cx="150.4" cy="420.3" r="0.76" fill="#bfb064"/><circle cx="116.6" cy="397.8" r="0.56" fill="#c9bb6a"/><circle cx="157.3" cy="397.7" r="0.77" fill="#bfb064"/><circle cx="137.8" cy="381.5" r="0.73" fill="#7a7048"/><circle cx="104.8" cy="388.9" r="0.66" fill="#c9bb6a"/><circle cx="138.3" cy="389.1" r="0.67" fill="#7a7048"/><circle cx="137.3" cy="380.2" r="0.59" fill="#c9bb6a"/><circle cx="139.4" cy="416.2" r="0.76" fill="#bfb064"/><circle cx="112.6" cy="389.7" r="0.75" fill="#948650"/><circle cx="112.2" cy="404.3" r="0.70" fill="#948650"/><circle cx="108.1" cy="389.4" r="0.60" fill="#c9bb6a"/><circle cx="146.4" cy="429.7" r="0.57" fill="#948650"/><circle cx="106.6" cy="405.8" r="0.58" fill="#948650"/><circle cx="137.4" cy="430.4" r="0.75" fill="#948650"/><circle cx="131.3" cy="406.4" r="0.74" fill="#c9bb6a"/><circle cx="144.4" cy="421.2" r="0.57" fill="#c9bb6a"/><circle cx="140.7" cy="411.7" r="0.79" fill="#7a7048"/><circle cx="146.8" cy="378.4" r="0.78" fill="#948650"/><circle cx="144.1" cy="388.7" r="0.57" fill="#bfb064"/><circle cx="118.5" cy="398.6" r="0.79" fill="#bfb064"/><circle cx="128.8" cy="409.8" r="0.56" fill="#c9bb6a"/></g>
<circle cx="112.0" cy="430.3" r="1.5" fill="#2a7a80"/>
<circle cx="120.2" cy="395.9" r="1.4" fill="#2a7a80"/>
<circle cx="121.6" cy="422.4" r="1.5" fill="#2a7a80"/>
<circle cx="139.4" cy="417.2" r="1.3" fill="#2a7a80"/>
<circle cx="145.7" cy="398.6" r="1.4" fill="#2a7a80"/>
<circle cx="100.3" cy="385.9" r="1.7" fill="#2a7a80"/>
</g></g>
<rect x="50.00" y="526.25" width="13.50" height="17.85" fill="#3db54b"/>
<line x1="56.75" y1="526.25" x2="56.75" y2="525.00" stroke="#222" stroke-width="0.9"/>
<line x1="54.25" y1="525.00" x2="59.25" y2="525.00" stroke="#222" stroke-width="0.9"/>
<rect x="68.25" y="523.50" width="13.50" height="20.60" fill="#0e4c83"/>
<line x1="75.00" y1="523.50" x2="75.00" y2="521.50" stroke="#222" stroke-width="0.9"/>
<line x1="72.50" y1="521.50" x2="77.50" y2="521.50" stroke="#222" stroke-width="0.9"/>
<rect x="86.75" y="526.00" width="13.50" height="18.10" fill="#c8102e"/>
<line x1="93.50" y1="526.00" x2="93.50" y2="523.25" stroke="#222" stroke-width="0.9"/>
<line x1="91.00" y1="523.25" x2="96.00" y2="523.25" stroke="#222" stroke-width="0.9"/>
<rect x="115.00" y="463.25" width="13.50" height="80.85" fill="#3db54b"/>
<line x1="121.75" y1="463.25" x2="121.75" y2="456.25" stroke="#222" stroke-width="0.9"/>
<line x1="119.25" y1="456.25" x2="124.25" y2="456.25" stroke="#222" stroke-width="0.9"/>
<rect x="133.50" y="484.50" width="13.25" height="59.60" fill="#0e4c83"/>
<line x1="140.12" y1="484.50" x2="140.12" y2="476.75" stroke="#222" stroke-width="0.9"/>
<line x1="137.62" y1="476.75" x2="142.62" y2="476.75" stroke="#222" stroke-width="0.9"/>
<rect x="151.75" y="520.50" width="13.25" height="23.60" fill="#c8102e"/>
<line x1="158.38" y1="520.50" x2="158.38" y2="514.00" stroke="#222" stroke-width="0.9"/>
<line x1="155.88" y1="514.00" x2="160.88" y2="514.00" stroke="#222" stroke-width="0.9"/>
<line x1="42.40" y1="442.30" x2="42.40" y2="544.70" stroke="#222" stroke-width="1.3"/>
<line x1="41.80" y1="544.10" x2="176.25" y2="544.10" stroke="#222" stroke-width="1.3"/>
<line x1="39.40" y1="544.10" x2="42.40" y2="544.10" stroke="#222" stroke-width="1.1"/>
<text x="36.40" y="547.04" font-size="8.4" text-anchor="end" textLength="4.2" lengthAdjust="spacingAndGlyphs" stroke="#222" stroke-width="0.06">0</text>
<line x1="39.40" y1="519.70" x2="42.40" y2="519.70" stroke="#222" stroke-width="1.1"/>
<text x="36.40" y="522.64" font-size="8.4" text-anchor="end" textLength="8.41" lengthAdjust="spacingAndGlyphs" stroke="#222" stroke-width="0.06">10</text>
<line x1="39.40" y1="495.30" x2="42.40" y2="495.30" stroke="#222" stroke-width="1.1"/>
<text x="36.40" y="498.24" font-size="8.4" text-anchor="end" textLength="8.41" lengthAdjust="spacingAndGlyphs" stroke="#222" stroke-width="0.06">20</text>
<line x1="39.40" y1="470.90" x2="42.40" y2="470.90" stroke="#222" stroke-width="1.1"/>
<text x="36.40" y="473.84" font-size="8.4" text-anchor="end" textLength="8.41" lengthAdjust="spacingAndGlyphs" stroke="#222" stroke-width="0.06">30</text>
<line x1="39.40" y1="446.50" x2="42.40" y2="446.50" stroke="#222" stroke-width="1.1"/>
<text x="36.40" y="449.44" font-size="8.4" text-anchor="end" textLength="8.41" lengthAdjust="spacingAndGlyphs" stroke="#222" stroke-width="0.06">40</text>
<line x1="75.00" y1="544.10" x2="75.00" y2="547.60" stroke="#222" stroke-width="1.1"/>
<line x1="140.00" y1="544.10" x2="140.00" y2="547.60" stroke="#222" stroke-width="1.1"/>
<line x1="53.50" y1="452.90" x2="121.50" y2="452.90" stroke="#555" stroke-width="1.3"/>
<polygon points="88.70,447.15 89.14,448.29 90.36,448.36 89.41,449.13 89.73,450.32 88.70,449.65 87.67,450.32 87.99,449.13 87.04,448.36 88.26,448.29" fill="#2a2a2a"/>
<polygon points="92.00,447.15 92.44,448.29 93.66,448.36 92.71,449.13 93.03,450.32 92.00,449.65 90.97,450.32 91.29,449.13 90.34,448.36 91.56,448.29" fill="#2a2a2a"/>
<polygon points="95.30,447.15 95.74,448.29 96.96,448.36 96.01,449.13 96.33,450.32 95.30,449.65 94.27,450.32 94.59,449.13 93.64,448.36 94.86,448.29" fill="#2a2a2a"/>
<line x1="122.50" y1="449.10" x2="157.50" y2="449.10" stroke="#555" stroke-width="1.3"/>
<polygon points="136.70,443.35 137.14,444.49 138.36,444.56 137.41,445.33 137.73,446.52 136.70,445.85 135.67,446.52 135.99,445.33 135.04,444.56 136.26,444.49" fill="#2a2a2a"/>
<polygon points="140.00,443.35 140.44,444.49 141.66,444.56 140.71,445.33 141.03,446.52 140.00,445.85 138.97,446.52 139.29,445.33 138.34,444.56 139.56,444.49" fill="#2a2a2a"/>
<polygon points="143.30,443.35 143.74,444.49 144.96,444.56 144.01,445.33 144.33,446.52 143.30,445.85 142.27,446.52 142.59,445.33 141.64,444.56 142.86,444.49" fill="#2a2a2a"/>
<rect x="169.00" y="453.50" width="5.80" height="5.80" fill="#3db54b"/>
<text x="177.00" y="459.30" font-size="7.6" stroke="#222" stroke-width="0.06">WT</text>
<rect x="169.00" y="464.25" width="5.80" height="5.80" fill="#0e4c83"/>
<text x="177.00" y="470.05" font-size="7.6" stroke="#222" stroke-width="0.06">KO</text>
<rect x="169.00" y="475.00" width="5.80" height="5.80" fill="#c8102e"/>
<text x="177.00" y="480.80" font-size="7.6" stroke="#222" stroke-width="0.06">DBP</text>
<text x="75.10" y="557.60" font-size="8.6" text-anchor="middle" textLength="20.2" lengthAdjust="spacingAndGlyphs" stroke="#222" stroke-width="0.06">pMIG</text>
<text x="144.50" y="557.60" font-size="8.6" text-anchor="middle" textLength="42" lengthAdjust="spacingAndGlyphs" stroke="#222" stroke-width="0.06">JAK2V617F</text>
<text x="0.00" y="0.00" font-size="9" text-anchor="middle" textLength="65" lengthAdjust="spacingAndGlyphs" transform="translate(21.2,493) rotate(-90)" stroke="#222" stroke-width="0.06"><tspan fill="#3db54b">SA-β gal</tspan> + cells (%)</text>
<rect x="244.50" y="326.00" width="12.50" height="31.50" fill="#3db54b"/>
<line x1="250.75" y1="326.00" x2="250.75" y2="323.00" stroke="#222" stroke-width="0.9"/>
<line x1="248.25" y1="323.00" x2="253.25" y2="323.00" stroke="#222" stroke-width="0.9"/>
<rect x="260.50" y="330.25" width="12.50" height="27.25" fill="#0e4c83"/>
<line x1="266.75" y1="330.25" x2="266.75" y2="329.50" stroke="#222" stroke-width="0.9"/>
<line x1="264.25" y1="329.50" x2="269.25" y2="329.50" stroke="#222" stroke-width="0.9"/>
<rect x="276.50" y="330.50" width="12.50" height="27.00" fill="#c8102e"/>
<line x1="282.75" y1="330.50" x2="282.75" y2="329.25" stroke="#222" stroke-width="0.9"/>
<line x1="280.25" y1="329.25" x2="285.25" y2="329.25" stroke="#222" stroke-width="0.9"/>
<rect x="307.00" y="285.00" width="12.00" height="72.50" fill="#3db54b"/>
<line x1="313.00" y1="285.00" x2="313.00" y2="280.75" stroke="#222" stroke-width="0.9"/>
<line x1="310.50" y1="280.75" x2="315.50" y2="280.75" stroke="#222" stroke-width="0.9"/>
<rect x="322.75" y="309.25" width="12.50" height="48.25" fill="#0e4c83"/>
<line x1="329.00" y1="309.25" x2="329.00" y2="307.50" stroke="#222" stroke-width="0.9"/>
<line x1="326.50" y1="307.50" x2="331.50" y2="307.50" stroke="#222" stroke-width="0.9"/>
<rect x="338.75" y="318.75" width="12.25" height="38.75" fill="#c8102e"/>
<line x1="344.88" y1="318.75" x2="344.88" y2="317.50" stroke="#222" stroke-width="0.9"/>
<line x1="342.38" y1="317.50" x2="347.38" y2="317.50" stroke="#222" stroke-width="0.9"/>
<line x1="238.75" y1="262.50" x2="238.75" y2="358.10" stroke="#222" stroke-width="1.3"/>
<line x1="238.15" y1="357.50" x2="356.25" y2="357.50" stroke="#222" stroke-width="1.3"/>
<line x1="235.75" y1="357.50" x2="238.75" y2="357.50" stroke="#222" stroke-width="1.1"/>
<text x="232.75" y="360.51" font-size="8.6" text-anchor="end" textLength="4.3" lengthAdjust="spacingAndGlyphs" stroke="#222" stroke-width="0.06">0</text>
<line x1="235.75" y1="326.90" x2="238.75" y2="326.90" stroke="#222" stroke-width="1.1"/>
<text x="232.75" y="329.91" font-size="8.6" text-anchor="end" textLength="4.3" lengthAdjust="spacingAndGlyphs" stroke="#222" stroke-width="0.06">1</text>
<line x1="235.75" y1="296.30" x2="238.75" y2="296.30" stroke="#222" stroke-width="1.1"/>
<text x="232.75" y="299.31" font-size="8.6" text-anchor="end" textLength="4.3" lengthAdjust="spacingAndGlyphs" stroke="#222" stroke-width="0.06">2</text>
<line x1="235.75" y1="265.70" x2="238.75" y2="265.70" stroke="#222" stroke-width="1.1"/>
<text x="232.75" y="268.71" font-size="8.6" text-anchor="end" textLength="4.3" lengthAdjust="spacingAndGlyphs" stroke="#222" stroke-width="0.06">3</text>
<line x1="266.50" y1="357.50" x2="266.50" y2="361.00" stroke="#222" stroke-width="1.1"/>
<line x1="329.00" y1="357.50" x2="329.00" y2="361.00" stroke="#222" stroke-width="1.1"/>
<line x1="306.50" y1="272.50" x2="351.00" y2="272.50" stroke="#222" stroke-width="1.0"/>
<polygon points="325.45,266.75 325.89,267.89 327.11,267.96 326.16,268.73 326.48,269.92 325.45,269.25 324.42,269.92 324.74,268.73 323.79,267.96 325.01,267.89" fill="#2a2a2a"/>
<polygon points="328.75,266.75 329.19,267.89 330.41,267.96 329.46,268.73 329.78,269.92 328.75,269.25 327.72,269.92 328.04,268.73 327.09,267.96 328.31,267.89" fill="#2a2a2a"/>
<polygon points="332.05,266.75 332.49,267.89 333.71,267.96 332.76,268.73 333.08,269.92 332.05,269.25 331.02,269.92 331.34,268.73 330.39,267.96 331.61,267.89" fill="#2a2a2a"/>
<text x="297.30" y="255.50" font-size="9.5" text-anchor="middle" font-style="italic" textLength="15.5" lengthAdjust="spacingAndGlyphs" stroke="#222" stroke-width="0.05">p21</text>
<text x="266.50" y="370.20" font-size="8.6" text-anchor="middle" textLength="20.5" lengthAdjust="spacingAndGlyphs" stroke="#222" stroke-width="0.06">pMIG</text>
<text x="328.75" y="370.20" font-size="8.6" text-anchor="middle" textLength="44" lengthAdjust="spacingAndGlyphs" stroke="#222" stroke-width="0.06">JAK2-V617F</text>
<rect x="399.00" y="319.25" width="12.25" height="37.25" fill="#3db54b"/>
<line x1="405.12" y1="319.25" x2="405.12" y2="318.00" stroke="#222" stroke-width="0.9"/>
<line x1="402.62" y1="318.00" x2="407.62" y2="318.00" stroke="#222" stroke-width="0.9"/>
<rect x="414.75" y="319.00" width="12.25" height="37.50" fill="#0e4c83"/>
<line x1="420.88" y1="319.00" x2="420.88" y2="316.50" stroke="#222" stroke-width="0.9"/>
<line x1="418.38" y1="316.50" x2="423.38" y2="316.50" stroke="#222" stroke-width="0.9"/>
<rect x="430.50" y="317.75" width="12.50" height="38.75" fill="#c8102e"/>
<line x1="436.75" y1="317.75" x2="436.75" y2="315.75" stroke="#222" stroke-width="0.9"/>
<line x1="434.25" y1="315.75" x2="439.25" y2="315.75" stroke="#222" stroke-width="0.9"/>
<rect x="460.75" y="287.00" width="12.00" height="69.50" fill="#3db54b"/>
<line x1="466.75" y1="287.00" x2="466.75" y2="283.00" stroke="#222" stroke-width="0.9"/>
<line x1="464.25" y1="283.00" x2="469.25" y2="283.00" stroke="#222" stroke-width="0.9"/>
<rect x="476.50" y="297.00" width="12.00" height="59.50" fill="#0e4c83"/>
<line x1="482.50" y1="297.00" x2="482.50" y2="294.75" stroke="#222" stroke-width="0.9"/>
<line x1="480.00" y1="294.75" x2="485.00" y2="294.75" stroke="#222" stroke-width="0.9"/>
<rect x="492.50" y="309.25" width="12.25" height="47.25" fill="#c8102e"/>
<line x1="498.62" y1="309.25" x2="498.62" y2="305.25" stroke="#222" stroke-width="0.9"/>
<line x1="496.12" y1="305.25" x2="501.12" y2="305.25" stroke="#222" stroke-width="0.9"/>
<line x1="392.50" y1="262.50" x2="392.50" y2="357.10" stroke="#222" stroke-width="1.3"/>
<line x1="391.90" y1="356.50" x2="512.50" y2="356.50" stroke="#222" stroke-width="1.3"/>
<line x1="389.50" y1="356.50" x2="392.50" y2="356.50" stroke="#222" stroke-width="1.1"/>
<text x="386.50" y="359.51" font-size="8.6" text-anchor="end" textLength="10.76" lengthAdjust="spacingAndGlyphs" stroke="#222" stroke-width="0.06">0.0</text>
<line x1="389.50" y1="338.20" x2="392.50" y2="338.20" stroke="#222" stroke-width="1.1"/>
<text x="386.50" y="341.21" font-size="8.6" text-anchor="end" textLength="10.76" lengthAdjust="spacingAndGlyphs" stroke="#222" stroke-width="0.06">0.5</text>
<line x1="389.50" y1="319.90" x2="392.50" y2="319.90" stroke="#222" stroke-width="1.1"/>
<text x="386.50" y="322.91" font-size="8.6" text-anchor="end" textLength="10.76" lengthAdjust="spacingAndGlyphs" stroke="#222" stroke-width="0.06">1.0</text>
<line x1="389.50" y1="301.60" x2="392.50" y2="301.60" stroke="#222" stroke-width="1.1"/>
<text x="386.50" y="304.61" font-size="8.6" text-anchor="end" textLength="10.76" lengthAdjust="spacingAndGlyphs" stroke="#222" stroke-width="0.06">1.5</text>
<line x1="389.50" y1="283.30" x2="392.50" y2="283.30" stroke="#222" stroke-width="1.1"/>
<text x="386.50" y="286.31" font-size="8.6" text-anchor="end" textLength="10.76" lengthAdjust="spacingAndGlyphs" stroke="#222" stroke-width="0.06">2.0</text>
<line x1="389.50" y1="265.00" x2="392.50" y2="265.00" stroke="#222" stroke-width="1.1"/>
<text x="386.50" y="268.01" font-size="8.6" text-anchor="end" textLength="10.76" lengthAdjust="spacingAndGlyphs" stroke="#222" stroke-width="0.06">2.5</text>
<line x1="421.00" y1="356.50" x2="421.00" y2="360.00" stroke="#222" stroke-width="1.1"/>
<line x1="482.75" y1="356.50" x2="482.75" y2="360.00" stroke="#222" stroke-width="1.1"/>
<line x1="460.75" y1="271.50" x2="506.00" y2="271.50" stroke="#222" stroke-width="1.0"/>
<polygon points="481.45,266.00 481.89,267.14 483.11,267.21 482.16,267.98 482.48,269.17 481.45,268.50 480.42,269.17 480.74,267.98 479.79,267.21 481.01,267.14" fill="#2a2a2a"/>
<polygon points="484.75,266.00 485.19,267.14 486.41,267.21 485.46,267.98 485.78,269.17 484.75,268.50 483.72,269.17 484.04,267.98 483.09,267.21 484.31,267.14" fill="#2a2a2a"/>
<text x="452.70" y="255.50" font-size="9.5" text-anchor="middle" font-style="italic" textLength="16.5" lengthAdjust="spacingAndGlyphs" stroke="#222" stroke-width="0.05">p27</text>
<text x="421.25" y="370.20" font-size="8.6" text-anchor="middle" textLength="20.5" lengthAdjust="spacingAndGlyphs" stroke="#222" stroke-width="0.06">pMIG</text>
<text x="483.60" y="370.20" font-size="8.6" text-anchor="middle" textLength="44" lengthAdjust="spacingAndGlyphs" stroke="#222" stroke-width="0.06">JAK2-V617F</text>
<rect x="244.50" y="479.25" width="12.25" height="17.75" fill="#3db54b"/>
<line x1="250.62" y1="479.25" x2="250.62" y2="469.00" stroke="#222" stroke-width="0.9"/>
<line x1="248.12" y1="469.00" x2="253.12" y2="469.00" stroke="#222" stroke-width="0.9"/>
<rect x="260.25" y="483.25" width="12.25" height="13.75" fill="#0e4c83"/>
<line x1="266.38" y1="483.25" x2="266.38" y2="477.50" stroke="#222" stroke-width="0.9"/>
<line x1="263.88" y1="477.50" x2="268.88" y2="477.50" stroke="#222" stroke-width="0.9"/>
<rect x="276.25" y="481.50" width="12.00" height="15.50" fill="#c8102e"/>
<line x1="282.25" y1="481.50" x2="282.25" y2="476.50" stroke="#222" stroke-width="0.9"/>
<line x1="279.75" y1="476.50" x2="284.75" y2="476.50" stroke="#222" stroke-width="0.9"/>
<rect x="306.00" y="426.25" width="12.00" height="70.75" fill="#3db54b"/>
<line x1="312.00" y1="426.25" x2="312.00" y2="410.75" stroke="#222" stroke-width="0.9"/>
<line x1="309.50" y1="410.75" x2="314.50" y2="410.75" stroke="#222" stroke-width="0.9"/>
<rect x="321.50" y="467.50" width="12.50" height="29.50" fill="#0e4c83"/>
<line x1="327.75" y1="467.50" x2="327.75" y2="456.00" stroke="#222" stroke-width="0.9"/>
<line x1="325.25" y1="456.00" x2="330.25" y2="456.00" stroke="#222" stroke-width="0.9"/>
<rect x="337.50" y="468.75" width="12.50" height="28.25" fill="#c8102e"/>
<line x1="238.75" y1="402.00" x2="238.75" y2="497.60" stroke="#222" stroke-width="1.3"/>
<line x1="238.15" y1="497.00" x2="355.50" y2="497.00" stroke="#222" stroke-width="1.3"/>
<line x1="235.75" y1="497.00" x2="238.75" y2="497.00" stroke="#222" stroke-width="1.1"/>
<text x="232.75" y="500.01" font-size="8.6" text-anchor="end" textLength="4.3" lengthAdjust="spacingAndGlyphs" stroke="#222" stroke-width="0.06">0</text>
<line x1="235.75" y1="466.80" x2="238.75" y2="466.80" stroke="#222" stroke-width="1.1"/>
<text x="232.75" y="469.81" font-size="8.6" text-anchor="end" textLength="4.3" lengthAdjust="spacingAndGlyphs" stroke="#222" stroke-width="0.06">2</text>
<line x1="235.75" y1="436.60" x2="238.75" y2="436.60" stroke="#222" stroke-width="1.1"/>
<text x="232.75" y="439.61" font-size="8.6" text-anchor="end" textLength="4.3" lengthAdjust="spacingAndGlyphs" stroke="#222" stroke-width="0.06">4</text>
<line x1="235.75" y1="406.40" x2="238.75" y2="406.40" stroke="#222" stroke-width="1.1"/>
<text x="232.75" y="409.41" font-size="8.6" text-anchor="end" textLength="4.3" lengthAdjust="spacingAndGlyphs" stroke="#222" stroke-width="0.06">6</text>
<line x1="266.50" y1="497.00" x2="266.50" y2="500.50" stroke="#222" stroke-width="1.1"/>
<line x1="328.00" y1="497.00" x2="328.00" y2="500.50" stroke="#222" stroke-width="1.1"/>
<line x1="309.25" y1="404.50" x2="351.25" y2="404.50" stroke="#222" stroke-width="1.0"/>
<polygon points="327.35,399.00 327.79,400.14 329.01,400.21 328.06,400.98 328.38,402.17 327.35,401.50 326.32,402.17 326.64,400.98 325.69,400.21 326.91,400.14" fill="#2a2a2a"/>
<polygon points="330.65,399.00 331.09,400.14 332.31,400.21 331.36,400.98 331.68,402.17 330.65,401.50 329.62,402.17 329.94,400.98 328.99,400.21 330.21,400.14" fill="#2a2a2a"/>
<text x="297.20" y="396.25" font-size="9.5" text-anchor="middle" font-style="italic" textLength="17" lengthAdjust="spacingAndGlyphs" stroke="#222" stroke-width="0.05">p19</text>
<text x="266.00" y="509.80" font-size="8.6" text-anchor="middle" textLength="20.5" lengthAdjust="spacingAndGlyphs" stroke="#222" stroke-width="0.06">pMIG</text>
<text x="328.75" y="509.80" font-size="8.6" text-anchor="middle" textLength="44" lengthAdjust="spacingAndGlyphs" stroke="#222" stroke-width="0.06">JAK2-V617F</text>
<rect x="399.25" y="450.25" width="12.50" height="46.25" fill="#3db54b"/>
<line x1="405.50" y1="450.25" x2="405.50" y2="442.00" stroke="#222" stroke-width="0.9"/>
<line x1="403.00" y1="442.00" x2="408.00" y2="442.00" stroke="#222" stroke-width="0.9"/>
<rect x="415.25" y="454.75" width="12.50" height="41.75" fill="#0e4c83"/>
<line x1="421.50" y1="454.75" x2="421.50" y2="449.00" stroke="#222" stroke-width="0.9"/>
<line x1="419.00" y1="449.00" x2="424.00" y2="449.00" stroke="#222" stroke-width="0.9"/>
<rect x="431.00" y="450.50" width="12.50" height="46.00" fill="#c8102e"/>
<line x1="437.25" y1="450.50" x2="437.25" y2="448.25" stroke="#222" stroke-width="0.9"/>
<line x1="434.75" y1="448.25" x2="439.75" y2="448.25" stroke="#222" stroke-width="0.9"/>
<rect x="461.75" y="435.50" width="12.25" height="61.00" fill="#3db54b"/>
<line x1="467.88" y1="435.50" x2="467.88" y2="431.75" stroke="#222" stroke-width="0.9"/>
<line x1="465.38" y1="431.75" x2="470.38" y2="431.75" stroke="#222" stroke-width="0.9"/>
<rect x="477.50" y="433.75" width="12.50" height="62.75" fill="#0e4c83"/>
<line x1="483.75" y1="433.75" x2="483.75" y2="432.75" stroke="#222" stroke-width="0.9"/>
<line x1="481.25" y1="432.75" x2="486.25" y2="432.75" stroke="#222" stroke-width="0.9"/>
<rect x="493.50" y="449.25" width="12.25" height="47.25" fill="#c8102e"/>
<line x1="499.62" y1="449.25" x2="499.62" y2="448.25" stroke="#222" stroke-width="0.9"/>
<line x1="497.12" y1="448.25" x2="502.12" y2="448.25" stroke="#222" stroke-width="0.9"/>
<line x1="392.50" y1="401.75" x2="392.50" y2="497.10" stroke="#222" stroke-width="1.3"/>
<line x1="391.90" y1="496.50" x2="513.00" y2="496.50" stroke="#222" stroke-width="1.3"/>
<line x1="389.50" y1="496.50" x2="392.50" y2="496.50" stroke="#222" stroke-width="1.1"/>
<text x="386.50" y="499.51" font-size="8.6" text-anchor="end" textLength="10.76" lengthAdjust="spacingAndGlyphs" stroke="#222" stroke-width="0.06">0.0</text>
<line x1="389.50" y1="473.75" x2="392.50" y2="473.75" stroke="#222" stroke-width="1.1"/>
<text x="386.50" y="476.76" font-size="8.6" text-anchor="end" textLength="10.76" lengthAdjust="spacingAndGlyphs" stroke="#222" stroke-width="0.06">0.5</text>
<line x1="389.50" y1="451.00" x2="392.50" y2="451.00" stroke="#222" stroke-width="1.1"/>
<text x="386.50" y="454.01" font-size="8.6" text-anchor="end" textLength="10.76" lengthAdjust="spacingAndGlyphs" stroke="#222" stroke-width="0.06">1.0</text>
<line x1="389.50" y1="428.25" x2="392.50" y2="428.25" stroke="#222" stroke-width="1.1"/>
<text x="386.50" y="431.26" font-size="8.6" text-anchor="end" textLength="10.76" lengthAdjust="spacingAndGlyphs" stroke="#222" stroke-width="0.06">1.5</text>
<line x1="389.50" y1="405.50" x2="392.50" y2="405.50" stroke="#222" stroke-width="1.1"/>
<text x="386.50" y="408.51" font-size="8.6" text-anchor="end" textLength="10.76" lengthAdjust="spacingAndGlyphs" stroke="#222" stroke-width="0.06">2.0</text>
<line x1="421.25" y1="496.50" x2="421.25" y2="500.00" stroke="#222" stroke-width="1.1"/>
<line x1="483.75" y1="496.50" x2="483.75" y2="500.00" stroke="#222" stroke-width="1.1"/>
<line x1="461.50" y1="408.50" x2="504.00" y2="408.50" stroke="#222" stroke-width="1.0"/>
<polygon points="479.35,402.75 479.79,403.89 481.01,403.96 480.06,404.73 480.38,405.92 479.35,405.25 478.32,405.92 478.64,404.73 477.69,403.96 478.91,403.89" fill="#2a2a2a"/>
<polygon points="482.65,402.75 483.09,403.89 484.31,403.96 483.36,404.73 483.68,405.92 482.65,405.25 481.62,405.92 481.94,404.73 480.99,403.96 482.21,403.89" fill="#2a2a2a"/>
<text x="453.00" y="399.00" font-size="9.5" text-anchor="middle" font-style="italic" textLength="38" lengthAdjust="spacingAndGlyphs" stroke="#222" stroke-width="0.05">gadd45a</text>
<text x="421.25" y="509.80" font-size="8.6" text-anchor="middle" textLength="20.5" lengthAdjust="spacingAndGlyphs" stroke="#222" stroke-width="0.06">pMIG</text>
<text x="483.75" y="509.80" font-size="8.6" text-anchor="middle" textLength="44" lengthAdjust="spacingAndGlyphs" stroke="#222" stroke-width="0.06">JAK2-V617F</text>
<rect x="331.25" y="521.00" width="5.60" height="5.40" fill="#3db54b"/>
<text x="340.00" y="526.50" font-size="7.6" stroke="#222" stroke-width="0.06">WT</text>
<rect x="364.50" y="521.00" width="5.60" height="5.40" fill="#0e4c83"/>
<text x="372.50" y="526.50" font-size="7.6" stroke="#222" stroke-width="0.06">KO</text>
<rect x="397.50" y="521.00" width="5.60" height="5.40" fill="#c8102e"/>
<text x="405.75" y="526.50" font-size="7.6" stroke="#222" stroke-width="0.06">DBP</text>
<text x="0.00" y="0.00" font-size="8.2" text-anchor="middle" textLength="58.5" lengthAdjust="spacingAndGlyphs" transform="translate(222.6,308.6) rotate(-90)" stroke="#222" stroke-width="0.04">qRT-PCR (<tspan font-style="italic">/β-actin</tspan>)</text>
<rect x="35.50" y="653.25" width="13.50" height="32.00" fill="#3db54b"/>
<line x1="42.25" y1="653.25" x2="42.25" y2="652.00" stroke="#222" stroke-width="0.9"/>
<line x1="39.50" y1="652.00" x2="45.00" y2="652.00" stroke="#222" stroke-width="0.9"/>
<rect x="61.25" y="624.25" width="13.25" height="61.00" fill="#3db54b"/>
<line x1="67.88" y1="624.25" x2="67.88" y2="623.00" stroke="#222" stroke-width="0.9"/>
<line x1="65.12" y1="623.00" x2="70.62" y2="623.00" stroke="#222" stroke-width="0.9"/>
<rect x="86.25" y="661.00" width="13.75" height="24.25" fill="#0e4c83"/>
<line x1="93.12" y1="661.00" x2="93.12" y2="658.75" stroke="#222" stroke-width="0.9"/>
<line x1="90.38" y1="658.75" x2="95.88" y2="658.75" stroke="#222" stroke-width="0.9"/>
<line x1="93.12" y1="661.00" x2="93.12" y2="663.50" stroke="#111" stroke-width="0.9"/>
<line x1="90.38" y1="663.50" x2="95.88" y2="663.50" stroke="#111" stroke-width="0.9"/>
<rect x="111.75" y="601.25" width="13.75" height="84.00" fill="#c8102e"/>
<line x1="118.62" y1="601.25" x2="118.62" y2="600.00" stroke="#222" stroke-width="0.9"/>
<line x1="115.88" y1="600.00" x2="121.38" y2="600.00" stroke="#222" stroke-width="0.9"/>
<line x1="26.25" y1="585.00" x2="26.25" y2="685.85" stroke="#222" stroke-width="1.3"/>
<line x1="25.65" y1="685.25" x2="134.60" y2="685.25" stroke="#222" stroke-width="1.3"/>
<line x1="23.25" y1="685.25" x2="26.25" y2="685.25" stroke="#222" stroke-width="1.1"/>
<text x="20.25" y="688.26" font-size="8.6" text-anchor="end" textLength="4.3" lengthAdjust="spacingAndGlyphs" stroke="#222" stroke-width="0.06">0</text>
<line x1="23.25" y1="652.85" x2="26.25" y2="652.85" stroke="#222" stroke-width="1.1"/>
<text x="20.25" y="655.86" font-size="8.6" text-anchor="end" textLength="4.3" lengthAdjust="spacingAndGlyphs" stroke="#222" stroke-width="0.06">1</text>
<line x1="23.25" y1="620.45" x2="26.25" y2="620.45" stroke="#222" stroke-width="1.1"/>
<text x="20.25" y="623.46" font-size="8.6" text-anchor="end" textLength="4.3" lengthAdjust="spacingAndGlyphs" stroke="#222" stroke-width="0.06">2</text>
<line x1="23.25" y1="588.05" x2="26.25" y2="588.05" stroke="#222" stroke-width="1.1"/>
<text x="20.25" y="591.06" font-size="8.6" text-anchor="end" textLength="4.3" lengthAdjust="spacingAndGlyphs" stroke="#222" stroke-width="0.06">3</text>
<line x1="42.25" y1="685.25" x2="42.25" y2="688.75" stroke="#222" stroke-width="1.1"/>
<line x1="67.88" y1="685.25" x2="67.88" y2="688.75" stroke="#222" stroke-width="1.1"/>
<line x1="93.12" y1="685.25" x2="93.12" y2="688.75" stroke="#222" stroke-width="1.1"/>
<line x1="118.62" y1="685.25" x2="118.62" y2="688.75" stroke="#222" stroke-width="1.1"/>
<line x1="41.50" y1="615.50" x2="68.50" y2="615.50" stroke="#555" stroke-width="1.3"/>
<polygon points="50.05,609.75 50.49,610.89 51.71,610.96 50.76,611.73 51.08,612.92 50.05,612.25 49.02,612.92 49.34,611.73 48.39,610.96 49.61,610.89" fill="#2a2a2a"/>
<polygon points="53.35,609.75 53.79,610.89 55.01,610.96 54.06,611.73 54.38,612.92 53.35,612.25 52.32,612.92 52.64,611.73 51.69,610.96 52.91,610.89" fill="#2a2a2a"/>
<polygon points="56.65,609.75 57.09,610.89 58.31,610.96 57.36,611.73 57.68,612.92 56.65,612.25 55.62,612.92 55.94,611.73 54.99,610.96 56.21,610.89" fill="#2a2a2a"/>
<polygon points="59.95,609.75 60.39,610.89 61.61,610.96 60.66,611.73 60.98,612.92 59.95,612.25 58.92,612.92 59.24,611.73 58.29,610.96 59.51,610.89" fill="#2a2a2a"/>
<line x1="67.50" y1="594.75" x2="118.75" y2="594.75" stroke="#555" stroke-width="1.3"/>
<polygon points="88.15,589.00 88.59,590.14 89.81,590.21 88.86,590.98 89.18,592.17 88.15,591.50 87.12,592.17 87.44,590.98 86.49,590.21 87.71,590.14" fill="#2a2a2a"/>
<polygon points="91.45,589.00 91.89,590.14 93.11,590.21 92.16,590.98 92.48,592.17 91.45,591.50 90.42,592.17 90.74,590.98 89.79,590.21 91.01,590.14" fill="#2a2a2a"/>
<polygon points="94.75,589.00 95.19,590.14 96.41,590.21 95.46,590.98 95.78,592.17 94.75,591.50 93.72,592.17 94.04,590.98 93.09,590.21 94.31,590.14" fill="#2a2a2a"/>
<polygon points="98.05,589.00 98.49,590.14 99.71,590.21 98.76,590.98 99.08,592.17 98.05,591.50 97.02,592.17 97.34,590.98 96.39,590.21 97.61,590.14" fill="#2a2a2a"/>
<text x="80.80" y="578.60" font-size="9.5" text-anchor="middle" font-style="italic" textLength="27.5" lengthAdjust="spacingAndGlyphs" stroke="#222" stroke-width="0.05">Lgals3</text>
<text x="42.25" y="699.30" font-size="8.6" text-anchor="middle" textLength="20.5" lengthAdjust="spacingAndGlyphs" stroke="#222" stroke-width="0.06">pMIG</text>
<line x1="62.50" y1="695.50" x2="125.50" y2="695.50" stroke="#222" stroke-width="1.0"/>
<text x="94.10" y="705.30" font-size="8.6" text-anchor="middle" textLength="44.3" lengthAdjust="spacingAndGlyphs" stroke="#222" stroke-width="0.06">JAK2-V617F</text>
<rect x="208.00" y="637.75" width="13.50" height="47.50" fill="#3db54b"/>
<line x1="214.75" y1="637.75" x2="214.75" y2="634.50" stroke="#222" stroke-width="0.9"/>
<line x1="212.00" y1="634.50" x2="217.50" y2="634.50" stroke="#222" stroke-width="0.9"/>
<rect x="233.50" y="632.75" width="13.50" height="52.50" fill="#3db54b"/>
<line x1="240.25" y1="632.75" x2="240.25" y2="630.75" stroke="#222" stroke-width="0.9"/>
<line x1="237.50" y1="630.75" x2="243.00" y2="630.75" stroke="#222" stroke-width="0.9"/>
<rect x="259.00" y="647.75" width="13.50" height="37.50" fill="#0e4c83"/>
<line x1="265.75" y1="647.75" x2="265.75" y2="643.75" stroke="#222" stroke-width="0.9"/>
<line x1="263.00" y1="643.75" x2="268.50" y2="643.75" stroke="#222" stroke-width="0.9"/>
<line x1="265.75" y1="647.75" x2="265.75" y2="651.25" stroke="#111" stroke-width="0.9"/>
<line x1="263.00" y1="651.25" x2="268.50" y2="651.25" stroke="#111" stroke-width="0.9"/>
<rect x="284.50" y="604.00" width="13.50" height="81.25" fill="#c8102e"/>
<line x1="291.25" y1="604.00" x2="291.25" y2="602.50" stroke="#222" stroke-width="0.9"/>
<line x1="288.50" y1="602.50" x2="294.00" y2="602.50" stroke="#222" stroke-width="0.9"/>
<line x1="198.75" y1="585.00" x2="198.75" y2="685.85" stroke="#222" stroke-width="1.3"/>
<line x1="198.15" y1="685.25" x2="307.40" y2="685.25" stroke="#222" stroke-width="1.3"/>
<line x1="195.75" y1="685.25" x2="198.75" y2="685.25" stroke="#222" stroke-width="1.1"/>
<text x="192.75" y="688.26" font-size="8.6" text-anchor="end" textLength="10.76" lengthAdjust="spacingAndGlyphs" stroke="#222" stroke-width="0.06">0.0</text>
<line x1="195.75" y1="661.12" x2="198.75" y2="661.12" stroke="#222" stroke-width="1.1"/>
<text x="192.75" y="664.13" font-size="8.6" text-anchor="end" textLength="10.76" lengthAdjust="spacingAndGlyphs" stroke="#222" stroke-width="0.06">0.5</text>
<line x1="195.75" y1="637.00" x2="198.75" y2="637.00" stroke="#222" stroke-width="1.1"/>
<text x="192.75" y="640.01" font-size="8.6" text-anchor="end" textLength="10.76" lengthAdjust="spacingAndGlyphs" stroke="#222" stroke-width="0.06">1.0</text>
<line x1="195.75" y1="612.88" x2="198.75" y2="612.88" stroke="#222" stroke-width="1.1"/>
<text x="192.75" y="615.88" font-size="8.6" text-anchor="end" textLength="10.76" lengthAdjust="spacingAndGlyphs" stroke="#222" stroke-width="0.06">1.5</text>
<line x1="195.75" y1="588.75" x2="198.75" y2="588.75" stroke="#222" stroke-width="1.1"/>
<text x="192.75" y="591.76" font-size="8.6" text-anchor="end" textLength="10.76" lengthAdjust="spacingAndGlyphs" stroke="#222" stroke-width="0.06">2.0</text>
<line x1="214.75" y1="685.25" x2="214.75" y2="688.75" stroke="#222" stroke-width="1.1"/>
<line x1="240.25" y1="685.25" x2="240.25" y2="688.75" stroke="#222" stroke-width="1.1"/>
<line x1="265.75" y1="685.25" x2="265.75" y2="688.75" stroke="#222" stroke-width="1.1"/>
<line x1="291.25" y1="685.25" x2="291.25" y2="688.75" stroke="#222" stroke-width="1.1"/>
<line x1="214.25" y1="616.75" x2="241.00" y2="616.75" stroke="#555" stroke-width="1.3"/>
<polygon points="227.50,611.00 227.94,612.14 229.16,612.21 228.21,612.98 228.53,614.17 227.50,613.50 226.47,614.17 226.79,612.98 225.84,612.21 227.06,612.14" fill="#2a2a2a"/>
<line x1="240.00" y1="592.75" x2="291.00" y2="592.75" stroke="#555" stroke-width="1.3"/>
<polygon points="260.65,587.00 261.09,588.14 262.31,588.21 261.36,588.98 261.68,590.17 260.65,589.50 259.62,590.17 259.94,588.98 258.99,588.21 260.21,588.14" fill="#2a2a2a"/>
<polygon points="263.95,587.00 264.39,588.14 265.61,588.21 264.66,588.98 264.98,590.17 263.95,589.50 262.92,590.17 263.24,588.98 262.29,588.21 263.51,588.14" fill="#2a2a2a"/>
<polygon points="267.25,587.00 267.69,588.14 268.91,588.21 267.96,588.98 268.28,590.17 267.25,589.50 266.22,590.17 266.54,588.98 265.59,588.21 266.81,588.14" fill="#2a2a2a"/>
<polygon points="270.55,587.00 270.99,588.14 272.21,588.21 271.26,588.98 271.58,590.17 270.55,589.50 269.52,590.17 269.84,588.98 268.89,588.21 270.11,588.14" fill="#2a2a2a"/>
<text x="253.10" y="578.60" font-size="9.5" text-anchor="middle" font-style="italic" textLength="24.7" lengthAdjust="spacingAndGlyphs" stroke="#222" stroke-width="0.05">Tgfb1</text>
<text x="214.75" y="699.30" font-size="8.6" text-anchor="middle" textLength="20.5" lengthAdjust="spacingAndGlyphs" stroke="#222" stroke-width="0.06">pMIG</text>
<line x1="235.75" y1="695.50" x2="298.00" y2="695.50" stroke="#222" stroke-width="1.0"/>
<text x="266.50" y="705.30" font-size="8.6" text-anchor="middle" textLength="44.3" lengthAdjust="spacingAndGlyphs" stroke="#222" stroke-width="0.06">JAK2-V617F</text>
<rect x="380.50" y="637.00" width="13.50" height="48.25" fill="#3db54b"/>
<line x1="387.25" y1="637.00" x2="387.25" y2="633.25" stroke="#222" stroke-width="0.9"/>
<line x1="384.50" y1="633.25" x2="390.00" y2="633.25" stroke="#222" stroke-width="0.9"/>
<rect x="406.00" y="642.50" width="13.50" height="42.75" fill="#3db54b"/>
<line x1="412.75" y1="642.50" x2="412.75" y2="641.00" stroke="#222" stroke-width="0.9"/>
<line x1="410.00" y1="641.00" x2="415.50" y2="641.00" stroke="#222" stroke-width="0.9"/>
<rect x="431.25" y="638.50" width="13.50" height="46.75" fill="#0e4c83"/>
<line x1="438.00" y1="638.50" x2="438.00" y2="636.75" stroke="#222" stroke-width="0.9"/>
<line x1="435.25" y1="636.75" x2="440.75" y2="636.75" stroke="#222" stroke-width="0.9"/>
<rect x="456.75" y="614.00" width="13.50" height="71.25" fill="#c8102e"/>
<line x1="463.50" y1="614.00" x2="463.50" y2="611.75" stroke="#222" stroke-width="0.9"/>
<line x1="460.75" y1="611.75" x2="466.25" y2="611.75" stroke="#222" stroke-width="0.9"/>
<line x1="463.50" y1="614.00" x2="463.50" y2="616.00" stroke="#111" stroke-width="0.9"/>
<line x1="460.75" y1="616.00" x2="466.25" y2="616.00" stroke="#111" stroke-width="0.9"/>
<line x1="370.75" y1="585.00" x2="370.75" y2="685.85" stroke="#222" stroke-width="1.3"/>
<line x1="370.15" y1="685.25" x2="479.60" y2="685.25" stroke="#222" stroke-width="1.3"/>
<line x1="367.75" y1="685.25" x2="370.75" y2="685.25" stroke="#222" stroke-width="1.1"/>
<text x="364.75" y="688.26" font-size="8.6" text-anchor="end" textLength="10.76" lengthAdjust="spacingAndGlyphs" stroke="#222" stroke-width="0.06">0.0</text>
<line x1="367.75" y1="661.12" x2="370.75" y2="661.12" stroke="#222" stroke-width="1.1"/>
<text x="364.75" y="664.13" font-size="8.6" text-anchor="end" textLength="10.76" lengthAdjust="spacingAndGlyphs" stroke="#222" stroke-width="0.06">0.5</text>
<line x1="367.75" y1="637.00" x2="370.75" y2="637.00" stroke="#222" stroke-width="1.1"/>
<text x="364.75" y="640.01" font-size="8.6" text-anchor="end" textLength="10.76" lengthAdjust="spacingAndGlyphs" stroke="#222" stroke-width="0.06">1.0</text>
<line x1="367.75" y1="612.88" x2="370.75" y2="612.88" stroke="#222" stroke-width="1.1"/>
<text x="364.75" y="615.88" font-size="8.6" text-anchor="end" textLength="10.76" lengthAdjust="spacingAndGlyphs" stroke="#222" stroke-width="0.06">1.5</text>
<line x1="367.75" y1="588.75" x2="370.75" y2="588.75" stroke="#222" stroke-width="1.1"/>
<text x="364.75" y="591.76" font-size="8.6" text-anchor="end" textLength="10.76" lengthAdjust="spacingAndGlyphs" stroke="#222" stroke-width="0.06">2.0</text>
<line x1="387.25" y1="685.25" x2="387.25" y2="688.75" stroke="#222" stroke-width="1.1"/>
<line x1="412.75" y1="685.25" x2="412.75" y2="688.75" stroke="#222" stroke-width="1.1"/>
<line x1="438.00" y1="685.25" x2="438.00" y2="688.75" stroke="#222" stroke-width="1.1"/>
<line x1="463.50" y1="685.25" x2="463.50" y2="688.75" stroke="#222" stroke-width="1.1"/>
<line x1="387.00" y1="622.00" x2="411.25" y2="622.00" stroke="#555" stroke-width="1.3"/>
<text x="399.25" y="619.20" font-size="8" text-anchor="middle" stroke="#222" stroke-width="0.06">ns</text>
<line x1="414.25" y1="600.00" x2="464.50" y2="600.00" stroke="#555" stroke-width="1.3"/>
<polygon points="434.45,594.25 434.89,595.39 436.11,595.46 435.16,596.23 435.48,597.42 434.45,596.75 433.42,597.42 433.74,596.23 432.79,595.46 434.01,595.39" fill="#2a2a2a"/>
<polygon points="437.75,594.25 438.19,595.39 439.41,595.46 438.46,596.23 438.78,597.42 437.75,596.75 436.72,597.42 437.04,596.23 436.09,595.46 437.31,595.39" fill="#2a2a2a"/>
<polygon points="441.05,594.25 441.49,595.39 442.71,595.46 441.76,596.23 442.08,597.42 441.05,596.75 440.02,597.42 440.34,596.23 439.39,595.46 440.61,595.39" fill="#2a2a2a"/>
<polygon points="444.35,594.25 444.79,595.39 446.01,595.46 445.06,596.23 445.38,597.42 444.35,596.75 443.32,597.42 443.64,596.23 442.69,595.46 443.91,595.39" fill="#2a2a2a"/>
<text x="425.50" y="578.60" font-size="9.5" text-anchor="middle" font-style="italic" textLength="33" lengthAdjust="spacingAndGlyphs" stroke="#222" stroke-width="0.05">Mmp13</text>
<text x="387.25" y="699.30" font-size="8.6" text-anchor="middle" textLength="20.5" lengthAdjust="spacingAndGlyphs" stroke="#222" stroke-width="0.06">pMIG</text>
<line x1="408.00" y1="695.50" x2="470.40" y2="695.50" stroke="#222" stroke-width="1.0"/>
<text x="439.20" y="705.30" font-size="8.6" text-anchor="middle" textLength="44.3" lengthAdjust="spacingAndGlyphs" stroke="#222" stroke-width="0.06">JAK2-V617F</text>
<rect x="490.00" y="586.50" width="5.80" height="5.80" fill="#3db54b"/>
<text x="498.00" y="592.30" font-size="7.6" stroke="#222" stroke-width="0.06">WT</text>
<rect x="490.00" y="597.50" width="5.80" height="5.80" fill="#0e4c83"/>
<text x="498.00" y="603.30" font-size="7.6" stroke="#222" stroke-width="0.06">KO</text>
<rect x="490.00" y="608.50" width="5.80" height="5.80" fill="#c8102e"/>
<text x="498.00" y="614.30" font-size="7.6" stroke="#222" stroke-width="0.06">DBP</text>
</svg>
</body></html>
